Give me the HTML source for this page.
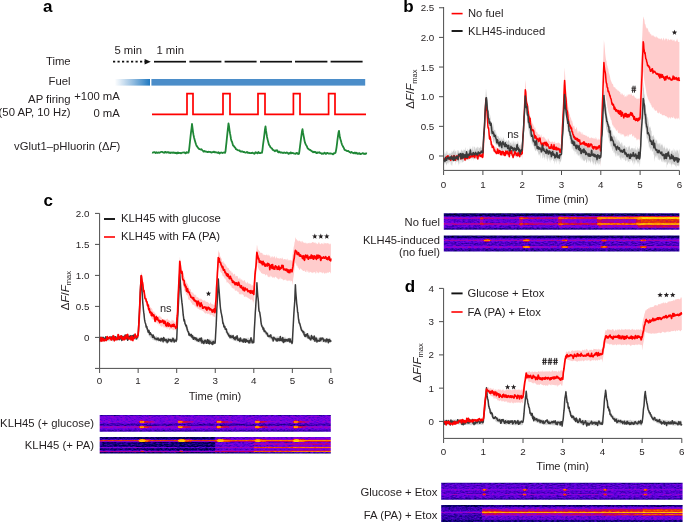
<!DOCTYPE html>
<html><head><meta charset="utf-8"><style>
html,body{margin:0;padding:0;background:#fff;}
svg{display:block;will-change:transform;font-family:"Liberation Sans", sans-serif;}
</style></head><body>
<svg width="685" height="522" viewBox="0 0 685 522">
<text x="43" y="12" font-size="17" text-anchor="start" font-weight="bold" fill="#000" >a</text>
<text x="70.6" y="65" font-size="11.3" text-anchor="end" font-weight="normal" fill="#231f20" >Time</text>
<text x="70.6" y="85" font-size="11.3" text-anchor="end" font-weight="normal" fill="#231f20" >Fuel</text>
<text x="70.6" y="102.6" font-size="11.3" text-anchor="end" font-weight="normal" fill="#231f20" >AP firing</text>
<text x="70.6" y="116" font-size="11.3" text-anchor="end" font-weight="normal" fill="#231f20" >(50 AP, 10 Hz)</text>
<text x="119.8" y="100.4" font-size="11.3" text-anchor="end" font-weight="normal" fill="#231f20" >+100 mA</text>
<text x="119.8" y="117.4" font-size="11.3" text-anchor="end" font-weight="normal" fill="#231f20" >0 mA</text>
<text x="120.2" y="150.4" font-size="11.3" text-anchor="end" fill="#231f20">vGlut1–pHluorin (Δ<tspan font-style="italic">F</tspan>)</text>
<text x="114.4" y="53.6" font-size="11.3" text-anchor="start" font-weight="normal" fill="#231f20" >5 min</text>
<text x="156.4" y="53.6" font-size="11.3" text-anchor="start" font-weight="normal" fill="#231f20" >1 min</text>
<line x1="113" y1="61.7" x2="145" y2="61.7" stroke="#111" stroke-width="1.7" stroke-dasharray="2.2 2.3"/>
<polygon points="144.6,58.9 150.8,61.7 144.6,64.5" fill="#111"/>
<line x1="154" y1="61.7" x2="186" y2="61.7" stroke="#111" stroke-width="1.7"/>
<line x1="189.4" y1="61.7" x2="221.4" y2="61.7" stroke="#111" stroke-width="1.7"/>
<line x1="224.6" y1="61.7" x2="256.6" y2="61.7" stroke="#111" stroke-width="1.7"/>
<line x1="260" y1="61.7" x2="292" y2="61.7" stroke="#111" stroke-width="1.7"/>
<line x1="295" y1="61.7" x2="327.4" y2="61.7" stroke="#111" stroke-width="1.7"/>
<line x1="330.6" y1="61.7" x2="362.6" y2="61.7" stroke="#111" stroke-width="1.7"/>
<defs><linearGradient id="fuelg" x1="0" x2="1" y1="0" y2="0"><stop offset="0" stop-color="#3e86c6" stop-opacity="0"/><stop offset="1" stop-color="#1f78c0" stop-opacity="1"/></linearGradient></defs>
<rect x="114.6" y="79" width="35.4" height="6.6" fill="url(#fuelg)"/>
<rect x="151.4" y="79" width="213.8" height="6.6" fill="#4b8dc9"/>
<path d="M152,114.4 H187 V93.6 H193 V114.4 H223 V93.6 H230 V114.4 H258 V93.6 H265 V114.4 H293.4 V93.6 H300 V114.4 H328.6 V93.6 H335 V114.4 H366" fill="none" stroke="#ff0000" stroke-width="1.7"/>
<polyline points="152.0,152.6 152.5,152.7 153.0,152.6 153.5,152.3 154.0,152.2 154.5,152.2 155.0,152.4 155.5,153.0 156.0,152.9 156.5,152.3 157.0,152.6 157.5,152.9 158.0,152.8 158.5,152.4 159.0,152.4 159.5,152.8 160.0,152.5 160.5,152.2 161.0,152.0 161.5,151.8 162.0,151.8 162.5,152.1 163.0,152.3 163.5,152.4 164.0,152.8 164.5,152.7 165.0,151.9 165.5,151.8 166.0,152.5 166.5,152.7 167.0,152.3 167.5,152.1 168.0,152.3 168.5,152.2 169.0,152.8 169.5,152.8 170.0,152.5 170.5,153.0 171.0,152.8 171.5,152.5 172.0,152.7 172.5,152.8 173.0,152.4 173.5,152.4 174.0,153.1 174.5,152.7 175.0,152.6 175.5,153.0 176.0,152.6 176.5,153.1 177.0,153.5 177.5,152.6 178.0,152.5 178.5,153.0 179.0,152.9 179.5,152.9 180.0,153.0 180.5,153.0 181.0,153.4 181.5,153.0 182.0,152.7 182.5,152.7 183.0,152.7 183.5,152.5 184.0,152.3 184.5,152.6 185.0,153.0 185.5,153.4 186.0,152.8 186.5,152.2 187.0,152.8 187.5,152.5 188.0,152.2 188.5,152.7 189.0,150.5 189.5,146.3 190.0,141.5 190.5,136.8 191.0,132.4 191.5,128.5 192.0,124.0 192.5,127.9 193.0,131.8 193.5,134.9 194.0,137.3 194.5,139.2 195.0,141.0 195.5,142.7 196.0,144.3 196.5,145.7 197.0,146.3 197.5,147.1 198.0,147.7 198.5,148.4 199.0,148.9 199.5,149.2 200.0,149.2 200.5,149.5 201.0,149.7 201.5,149.3 202.0,149.9 202.5,150.4 203.0,150.7 203.5,151.7 204.0,151.6 204.5,150.9 205.0,151.3 205.5,151.7 206.0,151.7 206.5,151.6 207.0,151.9 207.5,152.2 208.0,151.8 208.5,151.7 209.0,152.0 209.5,151.8 210.0,151.9 210.5,152.1 211.0,152.3 211.5,152.6 212.0,152.4 212.5,152.2 213.0,152.2 213.5,151.9 214.0,151.6 214.5,152.3 215.0,152.1 215.5,152.2 216.0,152.4 216.5,152.4 217.0,152.6 217.5,152.7 218.0,153.0 218.5,152.3 219.0,152.7 219.5,153.5 220.0,153.2 220.5,152.7 221.0,152.7 221.5,152.5 222.0,152.9 222.5,153.0 223.0,152.7 223.5,152.7 224.0,152.5 224.5,152.4 225.0,152.9 225.5,151.4 226.0,146.7 226.5,142.2 227.0,137.1 227.5,132.4 228.0,127.9 228.5,123.4 229.0,126.2 229.5,130.1 230.0,133.2 230.5,135.8 231.0,139.0 231.5,140.9 232.0,141.8 232.5,143.5 233.0,145.3 233.5,145.8 234.0,146.2 234.5,147.2 235.0,147.4 235.5,148.3 236.0,149.2 236.5,149.4 237.0,149.6 237.5,150.0 238.0,150.3 238.5,150.4 239.0,150.4 239.5,150.3 240.0,151.2 240.5,151.5 241.0,151.4 241.5,151.6 242.0,151.5 242.5,151.5 243.0,151.9 243.5,152.0 244.0,151.9 244.5,152.1 245.0,152.5 245.5,152.7 246.0,152.6 246.5,152.3 247.0,151.9 247.5,152.3 248.0,153.0 248.5,152.8 249.0,152.7 249.5,153.0 250.0,153.1 250.5,153.2 251.0,152.9 251.5,153.1 252.0,152.9 252.5,152.7 253.0,153.2 253.5,153.2 254.0,153.7 254.5,153.8 255.0,153.0 255.5,152.2 256.0,152.7 256.5,152.9 257.0,152.7 257.5,153.3 258.0,152.8 258.5,152.0 259.0,152.6 259.5,153.2 260.0,153.1 260.5,153.1 261.0,152.9 261.5,152.5 262.0,152.7 262.5,149.6 263.0,145.0 263.5,141.3 264.0,137.6 264.5,133.5 265.0,129.1 265.5,126.4 266.0,130.4 266.5,133.6 267.0,136.7 267.5,139.1 268.0,141.1 268.5,143.0 269.0,144.8 269.5,145.5 270.0,146.2 270.5,147.4 271.0,147.8 271.5,148.1 272.0,148.5 272.5,149.5 273.0,150.0 273.5,150.2 274.0,150.4 274.5,151.0 275.0,151.3 275.5,150.5 276.0,150.5 276.5,150.8 277.0,150.2 277.5,150.7 278.0,152.1 278.5,152.4 279.0,151.8 279.5,151.6 280.0,152.3 280.5,152.7 281.0,152.5 281.5,152.5 282.0,152.5 282.5,152.8 283.0,153.0 283.5,152.9 284.0,152.5 284.5,152.6 285.0,152.8 285.5,153.0 286.0,152.9 286.5,152.5 287.0,152.9 287.5,152.6 288.0,153.1 288.5,153.9 289.0,153.4 289.5,153.2 290.0,153.5 290.5,152.5 291.0,152.5 291.5,153.3 292.0,153.2 292.5,153.0 293.0,152.9 293.5,153.2 294.0,153.6 294.5,153.7 295.0,153.4 295.5,153.8 296.0,153.6 296.5,153.1 297.0,152.8 297.5,153.3 298.0,154.1 298.5,153.9 299.0,153.9 299.5,150.5 300.0,146.5 300.5,142.6 301.0,138.6 301.5,134.8 302.0,131.3 302.5,129.2 303.0,132.5 303.5,135.3 304.0,137.8 304.5,140.6 305.0,142.7 305.5,143.8 306.0,144.9 306.5,145.6 307.0,146.6 307.5,148.0 308.0,148.6 308.5,148.8 309.0,149.4 309.5,149.9 310.0,149.9 310.5,150.1 311.0,150.6 311.5,151.1 312.0,151.4 312.5,151.5 313.0,152.3 313.5,152.2 314.0,151.7 314.5,152.0 315.0,152.3 315.5,152.0 316.0,152.3 316.5,153.2 317.0,153.1 317.5,152.5 318.0,152.4 318.5,152.6 319.0,152.6 319.5,152.2 320.0,153.0 320.5,153.1 321.0,153.1 321.5,153.8 322.0,153.6 322.5,153.4 323.0,153.9 323.5,153.7 324.0,153.0 324.5,152.7 325.0,152.9 325.5,153.7 326.0,154.0 326.5,153.4 327.0,152.9 327.5,153.0 328.0,153.4 328.5,153.5 329.0,153.5 329.5,153.6 330.0,153.5 330.5,153.4 331.0,153.6 331.5,153.6 332.0,153.7 332.5,154.2 333.0,154.3 333.5,153.8 334.0,153.2 334.5,153.3 335.0,153.2 335.5,152.7 336.0,150.6 336.5,147.6 337.0,143.8 337.5,139.5 338.0,135.9 338.5,132.6 339.0,130.8 339.5,135.0 340.0,137.8 340.5,139.4 341.0,141.0 341.5,142.9 342.0,144.6 342.5,145.5 343.0,146.6 343.5,147.4 344.0,148.4 344.5,149.7 345.0,150.2 345.5,150.2 346.0,150.4 346.5,150.9 347.0,150.9 347.5,151.1 348.0,151.1 348.5,151.0 349.0,151.7 349.5,152.2 350.0,152.2 350.5,152.7 351.0,152.3 351.5,151.9 352.0,152.5 352.5,152.9 353.0,152.8 353.5,153.1 354.0,153.3 354.5,152.7 355.0,152.5 355.5,153.1 356.0,153.5 356.5,152.8 357.0,153.1 357.5,153.8 358.0,153.9 358.5,153.7 359.0,153.2 359.5,153.1 360.0,153.9 360.5,154.2 361.0,153.9 361.5,153.8 362.0,153.5 362.5,153.2 363.0,153.1 363.5,153.8 364.0,153.6 364.5,153.7 365.0,154.1 365.5,153.5 366.0,153.3 366.5,153.5 367.0,153.6" fill="none" stroke="#1f8736" stroke-width="1.8" stroke-linejoin="round" />
<text x="403.2" y="12" font-size="17" text-anchor="start" font-weight="bold" fill="#000" >b</text>
<polygon points="443.6,157.4 443.9,157.3 444.2,156.5 444.5,156.8 444.9,157.1 445.2,157.1 445.5,157.2 445.8,156.6 446.1,155.2 446.4,156.7 446.7,157.6 447.1,156.7 447.4,156.3 447.7,156.6 448.0,157.0 448.3,157.0 448.6,156.5 448.9,155.8 449.3,156.3 449.6,156.1 449.9,156.1 450.2,157.3 450.5,156.7 450.8,155.6 451.1,156.1 451.5,155.6 451.8,154.8 452.1,156.0 452.4,157.2 452.7,155.6 453.0,154.3 453.3,155.6 453.7,157.1 454.0,157.0 454.3,156.6 454.6,157.2 454.9,156.8 455.2,156.6 455.5,157.3 455.9,156.0 456.2,155.7 456.5,156.3 456.8,155.5 457.1,154.9 457.4,155.5 457.7,155.9 458.1,156.2 458.4,155.2 458.7,154.3 459.0,155.9 459.3,156.3 459.6,155.2 459.9,154.9 460.3,154.2 460.6,153.7 460.9,155.1 461.2,155.9 461.5,156.3 461.8,156.1 462.1,155.2 462.5,153.8 462.8,153.8 463.1,156.6 463.4,157.0 463.7,155.7 464.0,156.0 464.4,156.6 464.7,156.1 465.0,155.3 465.3,155.2 465.6,155.9 465.9,155.3 466.2,155.1 466.6,155.8 466.9,156.3 467.2,156.5 467.5,155.2 467.8,155.7 468.1,156.1 468.4,154.7 468.8,154.9 469.1,155.1 469.4,155.6 469.7,154.9 470.0,153.6 470.3,154.2 470.6,155.9 471.0,156.6 471.3,155.0 471.6,153.3 471.9,153.7 472.2,154.0 472.5,154.5 472.8,155.3 473.2,154.9 473.5,154.5 473.8,155.4 474.1,155.1 474.4,153.4 474.7,154.6 475.0,156.2 475.4,155.3 475.7,154.8 476.0,156.4 476.3,155.5 476.6,154.0 476.9,154.8 477.2,153.6 477.6,153.2 477.9,154.9 478.2,154.9 478.5,155.0 478.8,155.5 479.1,154.7 479.4,154.5 479.8,155.0 480.1,153.7 480.4,152.9 480.7,153.4 481.0,153.5 481.3,153.7 481.6,153.1 482.0,153.4 482.3,153.2 482.6,153.7 482.9,154.3 483.2,148.6 483.5,142.7 483.8,135.6 484.2,128.5 484.5,123.2 484.8,118.1 485.1,111.9 485.4,106.4 485.7,100.9 486.0,94.4 486.4,101.2 486.7,106.8 487.0,110.8 487.3,115.6 487.6,120.1 487.9,123.9 488.2,125.2 488.6,127.8 488.9,130.4 489.2,131.3 489.5,134.2 489.8,136.9 490.1,137.5 490.4,137.0 490.8,139.3 491.1,141.5 491.4,141.2 491.7,141.6 492.0,141.8 492.3,143.0 492.6,144.4 493.0,145.3 493.3,144.8 493.6,145.0 493.9,147.9 494.2,147.9 494.5,146.9 494.8,146.0 495.2,146.4 495.5,147.8 495.8,147.4 496.1,146.7 496.4,147.3 496.7,147.8 497.0,147.6 497.4,148.5 497.7,148.9 498.0,148.9 498.3,149.6 498.6,149.0 498.9,149.4 499.2,149.5 499.6,148.2 499.9,149.1 500.2,150.2 500.5,150.3 500.8,149.7 501.1,149.2 501.4,149.4 501.8,149.3 502.1,149.9 502.4,150.4 502.7,151.0 503.0,150.8 503.3,149.8 503.7,150.6 504.0,150.0 504.3,149.4 504.6,151.9 504.9,152.3 505.2,151.5 505.5,151.0 505.9,148.7 506.2,149.7 506.5,151.1 506.8,151.0 507.1,150.9 507.4,150.4 507.7,149.9 508.1,150.9 508.4,150.8 508.7,150.8 509.0,151.6 509.3,150.4 509.6,150.1 509.9,151.4 510.3,152.3 510.6,152.0 510.9,151.7 511.2,150.7 511.5,151.5 511.8,151.9 512.1,150.8 512.5,150.8 512.8,150.9 513.1,150.4 513.4,150.4 513.7,150.8 514.0,150.8 514.3,150.2 514.7,151.7 515.0,152.1 515.3,151.1 515.6,152.0 515.9,152.5 516.2,153.4 516.5,153.1 516.9,152.4 517.2,151.9 517.5,152.4 517.8,151.9 518.1,150.9 518.4,151.9 518.7,152.5 519.1,152.8 519.4,153.1 519.7,152.9 520.0,152.3 520.3,152.1 520.6,152.9 520.9,153.0 521.3,152.7 521.6,152.4 521.9,150.8 522.2,147.0 522.5,141.5 522.8,136.1 523.1,129.9 523.5,123.2 523.8,115.2 524.1,107.8 524.4,101.4 524.7,94.6 525.0,87.8 525.3,79.8 525.7,83.8 526.0,88.2 526.3,91.3 526.6,93.5 526.9,96.3 527.2,100.0 527.5,102.6 527.9,104.9 528.2,105.9 528.5,105.4 528.8,108.1 529.1,110.7 529.4,111.5 529.7,114.2 530.1,115.9 530.4,116.7 530.7,118.2 531.0,118.1 531.3,119.9 531.6,121.8 531.9,121.4 532.3,122.9 532.6,123.9 532.9,123.8 533.2,124.6 533.5,125.6 533.8,126.0 534.1,128.1 534.5,128.2 534.8,126.3 535.1,127.1 535.4,128.4 535.7,130.3 536.0,131.5 536.3,131.6 536.7,132.3 537.0,131.7 537.3,132.2 537.6,133.3 537.9,134.3 538.2,134.7 538.5,133.8 538.9,134.5 539.2,135.3 539.5,134.0 539.8,134.6 540.1,136.6 540.4,136.7 540.7,135.6 541.1,134.1 541.4,134.9 541.7,136.8 542.0,137.5 542.3,136.7 542.6,137.2 543.0,137.2 543.3,136.0 543.6,137.0 543.9,137.6 544.2,137.4 544.5,137.1 544.8,138.3 545.2,138.7 545.5,138.5 545.8,139.8 546.1,139.7 546.4,139.5 546.7,140.3 547.0,141.3 547.4,141.4 547.7,139.7 548.0,138.1 548.3,138.7 548.6,139.3 548.9,140.1 549.2,141.0 549.6,140.7 549.9,141.4 550.2,142.2 550.5,141.7 550.8,141.4 551.1,142.2 551.4,141.9 551.8,141.5 552.1,141.2 552.4,141.2 552.7,142.0 553.0,142.0 553.3,142.1 553.6,142.6 554.0,142.9 554.3,142.1 554.6,141.6 554.9,141.3 555.2,142.8 555.5,143.9 555.8,143.2 556.2,142.9 556.5,143.0 556.8,143.5 557.1,142.8 557.4,142.5 557.7,143.7 558.0,143.1 558.4,141.9 558.7,143.1 559.0,143.3 559.3,143.4 559.6,143.3 559.9,143.1 560.2,144.3 560.6,144.4 560.9,144.4 561.2,144.2 561.5,141.4 561.8,134.0 562.1,127.0 562.4,121.7 562.8,113.9 563.1,105.4 563.4,97.8 563.7,88.6 564.0,81.1 564.3,74.6 564.6,67.4 565.0,72.9 565.3,78.2 565.6,83.0 565.9,87.4 566.2,90.1 566.5,93.0 566.8,96.2 567.2,99.1 567.5,102.2 567.8,104.5 568.1,106.4 568.4,107.7 568.7,109.6 569.0,112.1 569.4,114.2 569.7,114.2 570.0,115.1 570.3,117.4 570.6,117.5 570.9,117.6 571.2,119.1 571.6,120.9 571.9,120.6 572.2,120.8 572.5,122.6 572.8,123.6 573.1,125.4 573.4,126.6 573.8,126.1 574.1,125.6 574.4,126.5 574.7,127.9 575.0,129.0 575.3,128.9 575.6,129.3 576.0,129.0 576.3,127.8 576.6,127.0 576.9,127.5 577.2,129.8 577.5,131.2 577.8,133.2 578.2,133.3 578.5,131.6 578.8,131.0 579.1,130.8 579.4,131.2 579.7,131.7 580.0,131.9 580.4,131.4 580.7,132.6 581.0,134.0 581.3,134.4 581.6,133.3 581.9,131.9 582.3,132.6 582.6,134.3 582.9,134.8 583.2,134.4 583.5,134.6 583.8,134.8 584.1,134.7 584.5,135.0 584.8,134.9 585.1,134.7 585.4,135.5 585.7,135.8 586.0,136.1 586.3,135.6 586.7,135.7 587.0,136.1 587.3,136.3 587.6,137.5 587.9,136.8 588.2,136.7 588.5,136.9 588.9,136.2 589.2,137.7 589.5,138.6 589.8,138.0 590.1,138.0 590.4,138.5 590.7,137.7 591.1,137.2 591.4,137.5 591.7,137.7 592.0,137.8 592.3,138.1 592.6,138.4 592.9,137.7 593.3,137.7 593.6,138.4 593.9,139.1 594.2,138.8 594.5,138.1 594.8,138.4 595.1,139.1 595.5,138.7 595.8,136.8 596.1,137.4 596.4,138.7 596.7,138.4 597.0,140.2 597.3,140.4 597.7,139.3 598.0,138.6 598.3,138.4 598.6,139.7 598.9,139.8 599.2,139.2 599.5,139.5 599.9,139.7 600.2,140.2 600.5,140.3 600.8,127.4 601.1,117.4 601.4,108.7 601.7,100.9 602.1,91.9 602.4,82.7 602.7,73.7 603.0,64.9 603.3,57.3 603.6,49.0 603.9,40.1 604.3,43.3 604.6,46.3 604.9,49.8 605.2,53.8 605.5,56.2 605.8,58.5 606.1,60.2 606.5,61.1 606.8,64.0 607.1,65.4 607.4,65.6 607.7,67.5 608.0,68.5 608.3,68.9 608.7,71.9 609.0,73.6 609.3,73.8 609.6,75.3 609.9,76.0 610.2,77.7 610.5,79.5 610.9,80.4 611.2,81.4 611.5,81.7 611.8,82.9 612.1,84.2 612.4,83.6 612.7,83.7 613.1,84.4 613.4,86.1 613.7,87.3 614.0,87.0 614.3,87.0 614.6,87.5 614.9,87.5 615.3,87.6 615.6,88.5 615.9,88.9 616.2,88.8 616.5,89.5 616.8,89.6 617.1,89.4 617.5,90.3 617.8,90.8 618.1,90.9 618.4,90.6 618.7,90.6 619.0,91.3 619.3,91.6 619.7,92.0 620.0,92.0 620.3,92.3 620.6,94.5 620.9,93.9 621.2,92.8 621.6,94.5 621.9,94.8 622.2,94.8 622.5,93.7 622.8,93.0 623.1,95.3 623.4,95.5 623.8,94.9 624.1,94.3 624.4,94.8 624.7,97.4 625.0,96.8 625.3,95.8 625.6,96.2 626.0,97.3 626.3,96.9 626.6,94.6 626.9,96.0 627.2,96.3 627.5,95.4 627.8,94.6 628.2,93.9 628.5,95.2 628.8,94.6 629.1,94.0 629.4,94.8 629.7,94.5 630.0,94.2 630.4,95.6 630.7,93.9 631.0,93.0 631.3,94.6 631.6,94.3 631.9,95.0 632.2,96.2 632.6,95.8 632.9,95.6 633.2,95.6 633.5,95.0 633.8,95.7 634.1,96.4 634.4,96.1 634.8,97.4 635.1,97.9 635.4,98.1 635.7,97.8 636.0,97.1 636.3,97.9 636.6,99.1 637.0,99.2 637.3,98.9 637.6,98.7 637.9,98.3 638.2,99.3 638.5,98.7 638.8,97.9 639.2,98.8 639.5,98.6 639.8,98.4 640.1,80.4 640.4,73.8 640.7,67.7 641.0,61.7 641.4,55.0 641.7,47.5 642.0,40.2 642.3,34.9 642.6,28.5 642.9,22.1 643.2,16.4 643.6,17.4 643.9,18.9 644.2,19.2 644.5,20.4 644.8,23.7 645.1,24.0 645.4,24.5 645.8,26.3 646.1,28.6 646.4,28.6 646.7,27.0 647.0,27.8 647.3,28.3 647.6,28.3 648.0,29.4 648.3,30.4 648.6,31.2 648.9,32.4 649.2,31.8 649.5,31.7 649.8,33.5 650.2,33.8 650.5,33.5 650.8,34.4 651.1,34.4 651.4,34.4 651.7,35.8 652.0,36.5 652.4,34.7 652.7,35.2 653.0,36.3 653.3,35.2 653.6,35.2 653.9,36.5 654.2,37.2 654.6,36.5 654.9,36.0 655.2,36.7 655.5,38.0 655.8,37.1 656.1,35.9 656.4,36.4 656.8,37.6 657.1,37.7 657.4,37.4 657.7,37.2 658.0,38.1 658.3,38.7 658.6,38.1 659.0,38.9 659.3,38.8 659.6,38.2 659.9,38.7 660.2,38.6 660.5,39.2 660.9,39.6 661.2,38.6 661.5,38.4 661.8,38.1 662.1,39.1 662.4,40.7 662.7,39.9 663.1,38.8 663.4,37.7 663.7,37.7 664.0,39.5 664.3,39.5 664.6,39.5 664.9,40.9 665.3,38.9 665.6,37.9 665.9,39.1 666.2,39.0 666.5,38.4 666.8,38.6 667.1,39.0 667.5,39.8 667.8,41.4 668.1,40.0 668.4,38.4 668.7,38.9 669.0,39.7 669.3,40.0 669.7,40.5 670.0,39.8 670.3,39.0 670.6,39.6 670.9,39.8 671.2,39.5 671.5,39.5 671.9,39.7 672.2,40.7 672.5,40.9 672.8,38.9 673.1,39.6 673.4,41.0 673.7,40.2 674.1,39.5 674.4,39.7 674.7,41.3 675.0,41.4 675.3,41.1 675.6,41.9 675.9,40.9 676.3,40.6 676.6,40.5 676.9,38.5 677.2,38.5 677.5,40.0 677.8,41.0 678.1,41.8 678.5,41.9 678.8,41.9 679.1,41.9 679.4,42.0 679.4,119.1 679.1,120.1 678.8,118.2 678.5,117.4 678.1,118.7 677.8,119.6 677.5,118.7 677.2,117.8 676.9,119.6 676.6,118.6 676.3,117.4 675.9,118.6 675.6,118.9 675.3,119.4 675.0,118.0 674.7,117.7 674.4,118.9 674.1,118.3 673.7,117.7 673.4,116.6 673.1,116.6 672.8,117.9 672.5,118.0 672.2,117.9 671.9,117.3 671.5,117.2 671.2,117.3 670.9,117.3 670.6,118.7 670.3,118.8 670.0,117.6 669.7,117.9 669.3,117.0 669.0,117.1 668.7,118.6 668.4,118.7 668.1,117.3 667.8,117.0 667.5,117.4 667.1,117.6 666.8,117.2 666.5,115.8 666.2,116.2 665.9,116.3 665.6,115.9 665.3,116.2 664.9,115.9 664.6,115.2 664.3,115.1 664.0,114.9 663.7,115.1 663.4,115.5 663.1,115.3 662.7,115.3 662.4,115.5 662.1,114.9 661.8,114.8 661.5,114.3 661.2,113.4 660.9,113.7 660.5,114.0 660.2,114.0 659.9,112.7 659.6,111.4 659.3,113.0 659.0,113.7 658.6,113.2 658.3,113.0 658.0,112.6 657.7,113.2 657.4,112.7 657.1,111.6 656.8,110.9 656.4,110.3 656.1,110.3 655.8,110.7 655.5,110.4 655.2,110.9 654.9,110.8 654.6,109.4 654.2,109.2 653.9,109.8 653.6,108.0 653.3,106.8 653.0,107.9 652.7,108.4 652.4,107.4 652.0,106.4 651.7,107.1 651.4,105.2 651.1,104.4 650.8,105.1 650.5,103.5 650.2,103.0 649.8,103.0 649.5,101.3 649.2,101.6 648.9,101.5 648.6,99.5 648.3,99.5 648.0,99.2 647.6,97.4 647.3,96.5 647.0,96.0 646.7,94.7 646.4,92.9 646.1,90.7 645.8,89.2 645.4,87.0 645.1,85.3 644.8,83.8 644.5,81.6 644.2,79.4 643.9,77.2 643.6,73.8 643.2,70.8 642.9,80.2 642.6,88.8 642.3,97.4 642.0,106.0 641.7,115.8 641.4,123.5 641.0,130.8 640.7,140.8 640.4,150.3 640.1,158.9 639.8,140.0 639.5,140.4 639.2,138.9 638.8,138.5 638.5,139.9 638.2,139.5 637.9,138.8 637.6,139.4 637.3,140.0 637.0,140.5 636.6,140.1 636.3,138.5 636.0,137.9 635.7,137.2 635.4,137.5 635.1,138.2 634.8,138.1 634.4,137.6 634.1,135.8 633.8,134.9 633.5,136.0 633.2,136.7 632.9,136.4 632.6,136.6 632.2,136.0 631.9,134.4 631.6,133.9 631.3,133.7 631.0,134.0 630.7,134.4 630.4,135.0 630.0,134.6 629.7,134.0 629.4,134.8 629.1,135.4 628.8,137.0 628.5,136.6 628.2,134.9 627.8,134.5 627.5,135.9 627.2,136.9 626.9,135.7 626.6,135.7 626.3,136.5 626.0,136.3 625.6,136.0 625.3,136.8 625.0,137.4 624.7,136.9 624.4,135.7 624.1,135.4 623.8,135.4 623.4,134.1 623.1,134.4 622.8,134.5 622.5,134.4 622.2,134.3 621.9,133.2 621.6,134.0 621.2,135.3 620.9,135.3 620.6,134.0 620.3,133.3 620.0,133.0 619.7,132.6 619.3,133.8 619.0,133.7 618.7,132.9 618.4,132.9 618.1,132.8 617.8,132.0 617.5,130.3 617.1,129.6 616.8,129.9 616.5,130.8 616.2,131.2 615.9,130.6 615.6,128.7 615.3,128.5 614.9,128.7 614.6,127.3 614.3,126.9 614.0,128.0 613.7,127.4 613.4,125.6 613.1,125.8 612.7,125.4 612.4,124.7 612.1,123.9 611.8,122.4 611.5,120.6 611.2,119.9 610.9,119.9 610.5,118.7 610.2,117.3 609.9,116.7 609.6,116.0 609.3,114.2 609.0,113.4 608.7,112.9 608.3,111.3 608.0,109.9 607.7,108.0 607.4,107.4 607.1,104.9 606.8,101.5 606.5,100.9 606.1,100.0 605.8,97.3 605.5,96.0 605.2,94.7 604.9,91.4 604.6,88.2 604.3,83.6 603.9,80.0 603.6,90.6 603.3,99.0 603.0,106.8 602.7,115.8 602.4,124.7 602.1,132.9 601.7,141.3 601.4,149.4 601.1,158.5 600.8,167.5 600.5,156.2 600.2,156.8 599.9,157.1 599.5,157.1 599.2,155.9 598.9,155.4 598.6,154.7 598.3,155.0 598.0,155.7 597.7,156.1 597.3,156.4 597.0,156.1 596.7,156.1 596.4,154.7 596.1,154.8 595.8,155.3 595.5,154.7 595.1,155.8 594.8,156.0 594.5,155.4 594.2,155.8 593.9,155.1 593.6,153.9 593.3,153.9 592.9,154.6 592.6,154.1 592.3,153.8 592.0,154.2 591.7,155.0 591.4,156.2 591.1,155.7 590.7,154.5 590.4,154.2 590.1,153.9 589.8,153.5 589.5,154.1 589.2,154.3 588.9,153.9 588.5,153.2 588.2,152.7 587.9,153.3 587.6,153.6 587.3,153.4 587.0,154.0 586.7,154.8 586.3,154.3 586.0,152.8 585.7,152.7 585.4,153.5 585.1,151.8 584.8,151.0 584.5,151.6 584.1,152.4 583.8,153.2 583.5,152.4 583.2,152.2 582.9,151.6 582.6,150.9 582.3,151.6 581.9,152.7 581.6,152.4 581.3,151.4 581.0,149.6 580.7,149.9 580.4,151.2 580.0,150.6 579.7,150.2 579.4,150.3 579.1,150.0 578.8,149.1 578.5,148.2 578.2,149.2 577.8,150.5 577.5,149.5 577.2,147.8 576.9,146.9 576.6,146.9 576.3,146.8 576.0,146.3 575.6,147.1 575.3,147.2 575.0,145.8 574.7,145.7 574.4,145.6 574.1,146.5 573.8,145.7 573.4,143.9 573.1,142.7 572.8,142.9 572.5,142.3 572.2,140.8 571.9,141.4 571.6,142.5 571.2,142.0 570.9,139.3 570.6,137.6 570.3,135.1 570.0,134.7 569.7,134.3 569.4,133.1 569.0,132.5 568.7,130.9 568.4,130.2 568.1,129.4 567.8,127.7 567.5,125.5 567.2,123.0 566.8,120.6 566.5,118.8 566.2,115.1 565.9,110.6 565.6,107.5 565.3,104.3 565.0,99.9 564.6,94.6 564.3,100.7 564.0,107.4 563.7,114.0 563.4,120.2 563.1,125.3 562.8,132.1 562.4,138.3 562.1,145.2 561.8,153.4 561.5,158.6 561.2,155.6 560.9,157.1 560.6,155.9 560.2,154.5 559.9,156.0 559.6,155.8 559.3,155.3 559.0,155.4 558.7,155.1 558.4,155.5 558.0,155.1 557.7,155.4 557.4,156.1 557.1,154.3 556.8,154.8 556.5,155.8 556.2,155.1 555.8,155.3 555.5,155.6 555.2,155.1 554.9,154.8 554.6,154.4 554.3,154.0 554.0,154.0 553.6,154.1 553.3,154.3 553.0,154.8 552.7,153.7 552.4,152.4 552.1,153.4 551.8,153.8 551.4,152.3 551.1,151.7 550.8,154.5 550.5,154.1 550.2,152.7 549.9,153.7 549.6,153.4 549.2,153.2 548.9,153.8 548.6,153.1 548.3,153.1 548.0,154.2 547.7,152.6 547.4,151.6 547.0,151.5 546.7,151.4 546.4,151.4 546.1,150.9 545.8,151.2 545.5,151.8 545.2,152.2 544.8,152.2 544.5,150.8 544.2,150.8 543.9,150.9 543.6,149.7 543.3,149.7 543.0,150.8 542.6,151.4 542.3,149.0 542.0,148.5 541.7,150.3 541.4,150.0 541.1,148.9 540.7,148.9 540.4,149.3 540.1,149.2 539.8,148.4 539.5,148.9 539.2,148.0 538.9,146.3 538.5,146.5 538.2,146.4 537.9,145.8 537.6,146.3 537.3,147.5 537.0,147.3 536.7,145.7 536.3,144.0 536.0,144.2 535.7,143.8 535.4,141.4 535.1,141.8 534.8,143.1 534.5,141.6 534.1,139.7 533.8,139.0 533.5,138.3 533.2,138.7 532.9,138.0 532.6,135.9 532.3,135.9 531.9,135.5 531.6,134.2 531.3,133.0 531.0,131.1 530.7,130.4 530.4,130.2 530.1,128.8 529.7,128.6 529.4,127.5 529.1,126.2 528.8,124.6 528.5,121.9 528.2,119.7 527.9,118.2 527.5,117.0 527.2,115.1 526.9,111.9 526.6,109.9 526.3,108.0 526.0,104.1 525.7,101.0 525.3,96.8 525.0,103.0 524.7,109.9 524.4,115.2 524.1,122.1 523.8,129.7 523.5,135.1 523.1,140.0 522.8,146.9 522.5,153.8 522.2,160.2 521.9,156.8 521.6,155.8 521.3,154.7 520.9,154.9 520.6,155.8 520.3,157.1 520.0,157.7 519.7,157.3 519.4,156.5 519.1,156.2 518.7,156.1 518.4,156.5 518.1,156.5 517.8,156.5 517.5,157.0 517.2,156.9 516.9,157.4 516.5,157.0 516.2,157.4 515.9,157.2 515.6,155.6 515.3,156.6 515.0,157.1 514.7,156.5 514.3,157.3 514.0,156.5 513.7,155.9 513.4,157.2 513.1,156.5 512.8,156.3 512.5,156.6 512.1,156.2 511.8,155.8 511.5,154.7 511.2,154.4 510.9,156.8 510.6,156.1 510.3,155.5 509.9,156.6 509.6,156.0 509.3,158.0 509.0,156.6 508.7,155.4 508.4,157.3 508.1,156.4 507.7,155.8 507.4,156.5 507.1,155.8 506.8,155.3 506.5,155.6 506.2,155.7 505.9,155.9 505.5,155.7 505.2,155.0 504.9,155.4 504.6,155.2 504.3,154.6 504.0,154.0 503.7,153.8 503.3,154.6 503.0,155.1 502.7,155.7 502.4,156.1 502.1,155.0 501.8,155.6 501.4,155.2 501.1,155.3 500.8,156.3 500.5,155.6 500.2,154.8 499.9,154.1 499.6,153.7 499.2,152.7 498.9,153.2 498.6,153.8 498.3,152.7 498.0,153.2 497.7,153.9 497.4,153.0 497.0,153.2 496.7,153.5 496.4,152.9 496.1,152.0 495.8,152.4 495.5,153.0 495.2,152.6 494.8,151.7 494.5,151.1 494.2,150.4 493.9,149.7 493.6,151.0 493.3,152.2 493.0,151.0 492.6,149.1 492.3,147.9 492.0,147.9 491.7,147.1 491.4,146.1 491.1,145.9 490.8,145.5 490.4,145.2 490.1,143.7 489.8,141.8 489.5,139.2 489.2,137.6 488.9,136.5 488.6,134.8 488.2,132.0 487.9,128.7 487.6,125.6 487.3,120.8 487.0,114.4 486.7,110.3 486.4,106.4 486.0,100.3 485.7,106.0 485.4,111.7 485.1,117.8 484.8,122.9 484.5,128.7 484.2,135.6 483.8,142.2 483.5,149.0 483.2,154.7 482.9,158.1 482.6,156.4 482.3,157.8 482.0,158.7 481.6,157.6 481.3,157.3 481.0,158.4 480.7,157.8 480.4,156.8 480.1,156.8 479.8,157.9 479.4,158.7 479.1,157.6 478.8,157.8 478.5,159.4 478.2,159.2 477.9,158.1 477.6,158.7 477.2,157.8 476.9,156.8 476.6,157.2 476.3,158.2 476.0,158.2 475.7,157.1 475.4,157.3 475.0,158.4 474.7,159.3 474.4,158.0 474.1,157.7 473.8,158.4 473.5,158.0 473.2,158.1 472.8,158.7 472.5,158.5 472.2,157.2 471.9,157.7 471.6,158.1 471.3,156.8 471.0,157.0 470.6,158.2 470.3,157.8 470.0,157.4 469.7,159.2 469.4,159.3 469.1,158.4 468.8,158.7 468.4,159.0 468.1,158.7 467.8,159.4 467.5,160.1 467.2,159.6 466.9,159.3 466.6,159.7 466.2,159.7 465.9,160.4 465.6,160.7 465.3,159.3 465.0,158.6 464.7,158.4 464.4,158.4 464.0,158.8 463.7,159.4 463.4,159.9 463.1,160.6 462.8,160.3 462.5,159.3 462.1,158.7 461.8,158.0 461.5,158.6 461.2,159.6 460.9,158.4 460.6,158.5 460.3,160.1 459.9,160.0 459.6,159.1 459.3,159.7 459.0,161.0 458.7,160.9 458.4,160.1 458.1,159.2 457.7,158.0 457.4,159.4 457.1,160.0 456.8,158.8 456.5,159.1 456.2,159.8 455.9,159.2 455.5,159.5 455.2,159.8 454.9,159.0 454.6,160.2 454.3,161.0 454.0,159.9 453.7,159.8 453.3,159.0 453.0,158.7 452.7,158.8 452.4,159.1 452.1,160.0 451.8,159.9 451.5,160.5 451.1,159.8 450.8,160.2 450.5,159.8 450.2,159.5 449.9,160.0 449.6,159.3 449.3,159.8 448.9,161.4 448.6,160.7 448.3,160.3 448.0,160.7 447.7,159.3 447.4,157.9 447.1,159.4 446.7,160.4 446.4,159.8 446.1,159.6 445.8,158.8 445.5,159.4 445.2,159.8 444.9,160.6 444.5,161.7 444.2,161.5 443.9,160.8 443.6,160.3" fill="#ffcccc" fill-opacity="1.0" stroke="none"/>
<polygon points="443.6,151.5 443.9,154.8 444.2,158.0 444.5,151.5 444.9,154.3 445.2,151.9 445.5,153.9 445.8,154.5 446.1,154.5 446.4,151.0 446.7,151.1 447.1,157.3 447.4,155.1 447.7,150.3 448.0,154.0 448.3,155.7 448.6,153.2 448.9,153.4 449.3,153.3 449.6,153.9 449.9,153.5 450.2,153.7 450.5,152.3 450.8,154.2 451.1,153.3 451.5,152.9 451.8,150.3 452.1,151.9 452.4,152.7 452.7,151.5 453.0,151.6 453.3,150.4 453.7,151.3 454.0,149.0 454.3,149.7 454.6,152.1 454.9,152.7 455.2,150.4 455.5,151.0 455.9,152.0 456.2,154.4 456.5,155.0 456.8,151.0 457.1,150.2 457.4,150.1 457.7,153.7 458.1,149.5 458.4,152.3 458.7,150.6 459.0,150.5 459.3,152.6 459.6,152.1 459.9,154.7 460.3,152.6 460.6,154.1 460.9,150.1 461.2,150.7 461.5,149.1 461.8,150.0 462.1,151.7 462.5,149.9 462.8,151.2 463.1,149.3 463.4,149.8 463.7,152.0 464.0,150.2 464.4,150.1 464.7,150.6 465.0,148.4 465.3,146.9 465.6,150.6 465.9,150.5 466.2,153.8 466.6,149.9 466.9,150.4 467.2,153.4 467.5,149.0 467.8,148.4 468.1,150.7 468.4,150.0 468.8,151.0 469.1,147.9 469.4,151.9 469.7,149.7 470.0,145.6 470.3,148.9 470.6,148.1 471.0,149.1 471.3,150.9 471.6,148.8 471.9,147.9 472.2,150.4 472.5,147.9 472.8,146.3 473.2,146.5 473.5,151.2 473.8,150.0 474.1,151.1 474.4,146.3 474.7,147.0 475.0,146.8 475.4,149.6 475.7,150.0 476.0,147.7 476.3,147.6 476.6,149.3 476.9,147.4 477.2,146.5 477.6,147.2 477.9,149.3 478.2,151.2 478.5,147.8 478.8,147.0 479.1,147.7 479.4,148.0 479.8,148.4 480.1,145.8 480.4,147.1 480.7,146.7 481.0,148.6 481.3,147.9 481.6,146.5 482.0,148.5 482.3,148.9 482.6,147.2 482.9,143.8 483.2,139.9 483.5,132.1 483.8,129.3 484.2,123.9 484.5,120.2 484.8,113.1 485.1,103.9 485.4,100.3 485.7,93.9 486.0,88.3 486.4,92.7 486.7,96.0 487.0,98.2 487.3,99.7 487.6,102.5 487.9,104.6 488.2,107.3 488.6,110.9 488.9,111.8 489.2,114.7 489.5,112.8 489.8,119.9 490.1,117.9 490.4,114.6 490.8,120.7 491.1,123.2 491.4,122.3 491.7,121.0 492.0,124.6 492.3,124.1 492.6,125.9 493.0,127.5 493.3,122.0 493.6,128.2 493.9,130.0 494.2,130.5 494.5,129.6 494.8,130.1 495.2,130.0 495.5,131.7 495.8,135.0 496.1,132.0 496.4,133.9 496.7,134.3 497.0,136.8 497.4,135.6 497.7,136.3 498.0,135.4 498.3,138.3 498.6,135.9 498.9,136.1 499.2,138.6 499.6,138.0 499.9,138.7 500.2,135.8 500.5,142.2 500.8,138.6 501.1,141.1 501.4,139.2 501.8,137.1 502.1,140.0 502.4,138.8 502.7,140.7 503.0,136.0 503.3,138.0 503.7,137.8 504.0,142.3 504.3,142.1 504.6,138.4 504.9,140.8 505.2,141.1 505.5,140.2 505.9,143.1 506.2,139.7 506.5,141.1 506.8,140.4 507.1,142.6 507.4,140.6 507.7,142.9 508.1,140.1 508.4,139.9 508.7,140.4 509.0,141.2 509.3,141.1 509.6,147.1 509.9,140.9 510.3,143.0 510.6,142.4 510.9,143.2 511.2,145.3 511.5,143.8 511.8,141.8 512.1,140.5 512.5,144.2 512.8,144.8 513.1,140.7 513.4,144.9 513.7,139.7 514.0,143.4 514.3,145.1 514.7,141.9 515.0,140.7 515.3,146.3 515.6,141.1 515.9,144.4 516.2,141.3 516.5,144.7 516.9,146.9 517.2,143.2 517.5,142.5 517.8,140.5 518.1,141.2 518.4,143.1 518.7,144.8 519.1,145.4 519.4,145.0 519.7,146.0 520.0,145.1 520.3,149.1 520.6,144.3 520.9,144.8 521.3,140.2 521.6,143.4 521.9,145.7 522.2,143.3 522.5,141.0 522.8,134.4 523.1,131.2 523.5,119.9 523.8,115.9 524.1,113.6 524.4,106.1 524.7,98.8 525.0,94.2 525.3,88.9 525.7,94.5 526.0,97.3 526.3,98.9 526.6,100.2 526.9,105.9 527.2,108.8 527.5,107.1 527.9,112.9 528.2,111.2 528.5,114.6 528.8,115.2 529.1,115.2 529.4,118.6 529.7,119.9 530.1,124.2 530.4,125.1 530.7,123.9 531.0,123.4 531.3,124.7 531.6,124.0 531.9,128.5 532.3,129.6 532.6,129.0 532.9,131.5 533.2,132.4 533.5,134.9 533.8,131.9 534.1,136.2 534.5,134.0 534.8,138.0 535.1,134.1 535.4,138.4 535.7,135.5 536.0,140.3 536.3,138.7 536.7,136.2 537.0,140.2 537.3,139.0 537.6,140.4 537.9,144.0 538.2,139.7 538.5,139.8 538.9,142.8 539.2,140.1 539.5,142.8 539.8,143.5 540.1,142.0 540.4,143.4 540.7,138.4 541.1,145.5 541.4,141.6 541.7,141.4 542.0,146.9 542.3,146.7 542.6,142.8 543.0,144.8 543.3,143.5 543.6,142.3 543.9,145.2 544.2,146.6 544.5,149.7 544.8,144.7 545.2,146.8 545.5,144.8 545.8,145.1 546.1,148.1 546.4,142.7 546.7,144.0 547.0,144.5 547.4,148.2 547.7,147.0 548.0,147.4 548.3,147.2 548.6,148.6 548.9,145.9 549.2,146.4 549.6,146.3 549.9,147.9 550.2,144.8 550.5,146.9 550.8,152.2 551.1,148.6 551.4,147.6 551.8,145.9 552.1,148.2 552.4,148.2 552.7,149.0 553.0,146.7 553.3,148.8 553.6,149.1 554.0,149.5 554.3,147.2 554.6,149.2 554.9,151.3 555.2,147.3 555.5,149.7 555.8,147.9 556.2,148.0 556.5,146.5 556.8,146.9 557.1,149.8 557.4,149.1 557.7,151.2 558.0,146.0 558.4,148.2 558.7,146.6 559.0,149.7 559.3,152.8 559.6,146.5 559.9,149.1 560.2,149.1 560.6,149.2 560.9,148.2 561.2,148.5 561.5,151.7 561.8,140.9 562.1,137.8 562.4,131.6 562.8,121.6 563.1,117.0 563.4,113.2 563.7,109.9 564.0,100.2 564.3,93.5 564.6,88.5 565.0,94.1 565.3,96.6 565.6,100.5 565.9,100.8 566.2,102.4 566.5,104.5 566.8,110.0 567.2,110.4 567.5,111.9 567.8,115.7 568.1,116.8 568.4,114.5 568.7,119.5 569.0,119.7 569.4,123.5 569.7,123.9 570.0,128.3 570.3,126.4 570.6,125.3 570.9,124.7 571.2,127.3 571.6,129.1 571.9,131.1 572.2,133.1 572.5,133.1 572.8,132.4 573.1,135.6 573.4,133.2 573.8,137.2 574.1,139.2 574.4,138.4 574.7,140.1 575.0,140.1 575.3,136.1 575.6,139.0 576.0,138.6 576.3,137.4 576.6,137.6 576.9,141.1 577.2,138.2 577.5,140.3 577.8,141.3 578.2,140.8 578.5,144.5 578.8,143.6 579.1,142.7 579.4,141.7 579.7,143.7 580.0,143.5 580.4,141.8 580.7,141.3 581.0,142.7 581.3,142.0 581.6,145.2 581.9,145.2 582.3,144.3 582.6,145.6 582.9,146.2 583.2,142.5 583.5,146.0 583.8,147.5 584.1,145.1 584.5,142.9 584.8,146.1 585.1,144.2 585.4,147.4 585.7,147.6 586.0,148.1 586.3,147.3 586.7,143.9 587.0,149.3 587.3,144.5 587.6,149.3 587.9,148.0 588.2,146.2 588.5,146.7 588.9,147.5 589.2,151.0 589.5,147.5 589.8,150.1 590.1,143.8 590.4,148.8 590.7,148.2 591.1,150.7 591.4,149.6 591.7,151.1 592.0,147.2 592.3,149.4 592.6,148.1 592.9,150.4 593.3,150.1 593.6,147.0 593.9,151.1 594.2,152.6 594.5,148.8 594.8,151.6 595.1,150.4 595.5,148.1 595.8,151.2 596.1,148.3 596.4,151.1 596.7,147.3 597.0,147.6 597.3,150.9 597.7,150.5 598.0,151.6 598.3,149.9 598.6,148.2 598.9,152.9 599.2,148.7 599.5,152.8 599.9,152.0 600.2,153.7 600.5,146.8 600.8,150.5 601.1,143.8 601.4,139.0 601.7,129.5 602.1,128.8 602.4,118.6 602.7,108.3 603.0,106.5 603.3,99.4 603.6,91.8 603.9,88.1 604.3,90.2 604.6,91.9 604.9,96.4 605.2,99.0 605.5,103.0 605.8,104.3 606.1,107.2 606.5,106.9 606.8,110.3 607.1,113.9 607.4,119.7 607.7,115.8 608.0,117.3 608.3,121.8 608.7,125.1 609.0,124.9 609.3,122.5 609.6,127.2 609.9,127.2 610.2,127.0 610.5,126.2 610.9,129.4 611.2,130.4 611.5,132.0 611.8,128.9 612.1,130.7 612.4,133.4 612.7,136.4 613.1,136.0 613.4,134.1 613.7,137.0 614.0,134.7 614.3,136.1 614.6,136.8 614.9,136.6 615.3,137.3 615.6,140.1 615.9,139.6 616.2,135.3 616.5,141.9 616.8,141.0 617.1,138.6 617.5,141.1 617.8,142.6 618.1,143.8 618.4,140.8 618.7,140.2 619.0,139.8 619.3,142.5 619.7,141.0 620.0,144.9 620.3,143.0 620.6,144.7 620.9,143.4 621.2,142.6 621.6,142.2 621.9,146.1 622.2,142.3 622.5,145.6 622.8,146.7 623.1,145.4 623.4,147.9 623.8,145.4 624.1,145.1 624.4,146.1 624.7,144.9 625.0,146.6 625.3,146.2 625.6,148.9 626.0,146.4 626.3,148.1 626.6,147.5 626.9,147.0 627.2,146.6 627.5,150.0 627.8,149.9 628.2,147.8 628.5,146.5 628.8,146.8 629.1,146.0 629.4,145.4 629.7,146.9 630.0,147.9 630.4,149.8 630.7,149.7 631.0,149.0 631.3,147.8 631.6,147.9 631.9,148.4 632.2,148.8 632.6,147.4 632.9,148.3 633.2,148.2 633.5,148.2 633.8,149.8 634.1,150.8 634.4,148.1 634.8,148.3 635.1,149.5 635.4,149.9 635.7,145.2 636.0,150.7 636.3,149.7 636.6,148.9 637.0,151.5 637.3,149.3 637.6,146.4 637.9,148.0 638.2,148.6 638.5,148.7 638.8,149.6 639.2,148.1 639.5,150.2 639.8,150.7 640.1,149.9 640.4,141.6 640.7,135.8 641.0,128.4 641.4,126.4 641.7,113.8 642.0,105.0 642.3,100.0 642.6,96.1 642.9,90.2 643.2,81.4 643.6,87.6 643.9,88.3 644.2,94.0 644.5,94.6 644.8,96.9 645.1,105.7 645.4,104.2 645.8,108.5 646.1,112.0 646.4,112.8 646.7,114.1 647.0,113.8 647.3,120.1 647.6,117.2 648.0,117.0 648.3,121.0 648.6,122.5 648.9,124.8 649.2,128.1 649.5,126.2 649.8,127.5 650.2,127.9 650.5,125.7 650.8,129.8 651.1,131.2 651.4,130.0 651.7,136.0 652.0,136.4 652.4,135.7 652.7,136.9 653.0,135.1 653.3,137.5 653.6,134.4 653.9,135.4 654.2,137.2 654.6,139.8 654.9,138.5 655.2,138.6 655.5,142.3 655.8,140.2 656.1,140.0 656.4,141.2 656.8,139.2 657.1,140.2 657.4,144.2 657.7,142.8 658.0,144.8 658.3,142.6 658.6,145.5 659.0,142.6 659.3,143.8 659.6,143.0 659.9,145.2 660.2,147.8 660.5,142.3 660.9,146.0 661.2,143.5 661.5,145.4 661.8,145.1 662.1,143.3 662.4,146.1 662.7,144.4 663.1,149.7 663.4,145.7 663.7,147.9 664.0,147.8 664.3,147.7 664.6,147.3 664.9,145.1 665.3,151.5 665.6,148.3 665.9,149.8 666.2,146.6 666.5,149.5 666.8,148.1 667.1,149.7 667.5,148.0 667.8,147.5 668.1,150.1 668.4,149.4 668.7,152.1 669.0,149.2 669.3,148.3 669.7,150.9 670.0,148.0 670.3,153.8 670.6,153.5 670.9,152.8 671.2,151.3 671.5,150.5 671.9,150.7 672.2,150.8 672.5,149.5 672.8,151.7 673.1,153.1 673.4,153.2 673.7,147.3 674.1,155.3 674.4,151.5 674.7,148.7 675.0,150.5 675.3,152.9 675.6,151.5 675.9,150.0 676.3,149.4 676.6,153.2 676.9,150.4 677.2,151.3 677.5,149.9 677.8,149.4 678.1,152.5 678.5,154.6 678.8,151.3 679.1,148.9 679.4,150.9 679.4,166.9 679.1,164.0 678.8,167.0 678.5,165.4 678.1,165.5 677.8,165.4 677.5,165.7 677.2,165.4 676.9,165.8 676.6,163.0 676.3,167.5 675.9,166.9 675.6,165.1 675.3,165.9 675.0,165.6 674.7,164.5 674.4,164.4 674.1,164.7 673.7,164.0 673.4,163.2 673.1,165.2 672.8,163.8 672.5,162.7 672.2,164.7 671.9,165.1 671.5,163.7 671.2,168.0 670.9,163.6 670.6,161.4 670.3,163.6 670.0,165.1 669.7,160.8 669.3,163.8 669.0,164.0 668.7,162.6 668.4,162.0 668.1,163.2 667.8,163.9 667.5,164.7 667.1,164.8 666.8,168.7 666.5,161.7 666.2,161.5 665.9,162.1 665.6,163.3 665.3,161.3 664.9,161.0 664.6,161.7 664.3,162.7 664.0,162.2 663.7,160.7 663.4,159.9 663.1,162.8 662.7,162.1 662.4,156.3 662.1,162.1 661.8,159.6 661.5,161.3 661.2,162.3 660.9,159.7 660.5,158.3 660.2,159.0 659.9,158.2 659.6,160.9 659.3,159.5 659.0,160.2 658.6,159.6 658.3,156.5 658.0,160.6 657.7,157.8 657.4,155.3 657.1,155.6 656.8,158.6 656.4,155.3 656.1,155.3 655.8,158.0 655.5,155.5 655.2,156.3 654.9,158.5 654.6,161.9 654.2,155.3 653.9,154.4 653.6,154.8 653.3,149.8 653.0,151.4 652.7,151.6 652.4,150.8 652.0,151.9 651.7,149.3 651.4,149.5 651.1,147.0 650.8,150.9 650.5,150.0 650.2,147.8 649.8,148.8 649.5,146.9 649.2,146.2 648.9,147.6 648.6,142.4 648.3,143.8 648.0,141.4 647.6,139.2 647.3,137.8 647.0,138.9 646.7,138.0 646.4,134.8 646.1,133.3 645.8,127.3 645.4,130.0 645.1,127.4 644.8,123.7 644.5,123.3 644.2,119.4 643.9,119.0 643.6,119.1 643.2,109.1 642.9,118.9 642.6,122.4 642.3,125.8 642.0,133.4 641.7,134.7 641.4,144.0 641.0,147.6 640.7,152.2 640.4,157.5 640.1,163.8 639.8,167.5 639.5,163.8 639.2,159.9 638.8,162.9 638.5,161.8 638.2,163.9 637.9,164.5 637.6,162.5 637.3,162.2 637.0,161.5 636.6,160.7 636.3,160.2 636.0,164.3 635.7,160.1 635.4,158.8 635.1,162.9 634.8,164.7 634.4,160.5 634.1,162.7 633.8,165.9 633.5,158.5 633.2,160.9 632.9,160.9 632.6,163.5 632.2,161.9 631.9,160.0 631.6,160.8 631.3,159.5 631.0,160.9 630.7,158.9 630.4,162.2 630.0,159.1 629.7,164.1 629.4,159.5 629.1,161.1 628.8,162.0 628.5,161.3 628.2,162.1 627.8,160.0 627.5,158.9 627.2,163.8 626.9,156.4 626.6,160.0 626.3,160.2 626.0,161.4 625.6,160.6 625.3,161.6 625.0,158.1 624.7,156.3 624.4,160.0 624.1,159.8 623.8,160.0 623.4,156.9 623.1,158.1 622.8,157.8 622.5,158.9 622.2,158.0 621.9,156.5 621.6,160.9 621.2,156.2 620.9,159.5 620.6,160.0 620.3,157.5 620.0,157.4 619.7,158.0 619.3,155.3 619.0,154.5 618.7,155.9 618.4,155.0 618.1,156.7 617.8,156.1 617.5,153.7 617.1,156.2 616.8,156.6 616.5,152.6 616.2,153.2 615.9,155.8 615.6,157.0 615.3,153.1 614.9,154.5 614.6,151.0 614.3,152.6 614.0,153.0 613.7,152.7 613.4,149.3 613.1,148.1 612.7,151.1 612.4,150.9 612.1,149.0 611.8,148.5 611.5,145.4 611.2,146.6 610.9,147.2 610.5,144.5 610.2,141.5 609.9,141.1 609.6,140.0 609.3,143.7 609.0,142.8 608.7,136.5 608.3,138.7 608.0,135.8 607.7,132.5 607.4,131.5 607.1,132.6 606.8,130.3 606.5,129.6 606.1,127.6 605.8,124.5 605.5,123.3 605.2,118.1 604.9,117.8 604.6,111.8 604.3,108.2 603.9,107.5 603.6,112.8 603.3,117.5 603.0,119.7 602.7,130.2 602.4,134.2 602.1,142.5 601.7,144.5 601.4,152.0 601.1,158.8 600.8,166.4 600.5,160.6 600.2,161.3 599.9,164.3 599.5,164.5 599.2,161.2 598.9,160.9 598.6,163.5 598.3,166.1 598.0,162.8 597.7,164.4 597.3,162.8 597.0,162.6 596.7,162.1 596.4,162.4 596.1,165.6 595.8,165.4 595.5,164.0 595.1,163.9 594.8,160.9 594.5,160.0 594.2,164.9 593.9,162.0 593.6,164.0 593.3,165.5 592.9,160.6 592.6,164.2 592.3,162.1 592.0,161.0 591.7,154.8 591.4,160.1 591.1,162.1 590.7,163.8 590.4,161.2 590.1,162.2 589.8,160.5 589.5,160.2 589.2,162.1 588.9,159.5 588.5,163.3 588.2,159.4 587.9,162.2 587.6,159.4 587.3,158.1 587.0,161.1 586.7,162.9 586.3,162.8 586.0,161.1 585.7,158.8 585.4,160.1 585.1,159.8 584.8,161.5 584.5,160.3 584.1,161.4 583.8,160.2 583.5,159.4 583.2,161.4 582.9,160.6 582.6,157.2 582.3,160.6 581.9,157.3 581.6,155.6 581.3,160.7 581.0,158.4 580.7,154.4 580.4,157.6 580.0,159.7 579.7,153.4 579.4,156.5 579.1,154.5 578.8,154.7 578.5,156.6 578.2,155.3 577.8,155.5 577.5,154.0 577.2,153.1 576.9,154.4 576.6,154.0 576.3,151.1 576.0,151.9 575.6,151.8 575.3,150.0 575.0,155.2 574.7,150.7 574.4,151.4 574.1,148.5 573.8,151.5 573.4,149.9 573.1,149.3 572.8,145.3 572.5,150.3 572.2,148.3 571.9,149.8 571.6,143.3 571.2,144.7 570.9,143.5 570.6,143.1 570.3,143.9 570.0,141.6 569.7,138.2 569.4,137.3 569.0,132.8 568.7,135.3 568.4,132.2 568.1,130.7 567.8,132.2 567.5,127.8 567.2,127.1 566.8,126.1 566.5,118.9 566.2,121.0 565.9,116.5 565.6,114.5 565.3,112.8 565.0,109.5 564.6,108.4 564.3,109.9 564.0,116.4 563.7,118.0 563.4,127.6 563.1,132.4 562.8,138.2 562.4,142.7 562.1,153.6 561.8,156.7 561.5,159.0 561.2,160.0 560.9,161.9 560.6,162.4 560.2,161.0 559.9,161.2 559.6,160.2 559.3,164.7 559.0,163.9 558.7,159.8 558.4,161.8 558.0,157.7 557.7,159.3 557.4,162.3 557.1,159.6 556.8,159.9 556.5,161.2 556.2,164.3 555.8,160.0 555.5,162.0 555.2,160.0 554.9,158.6 554.6,161.8 554.3,164.8 554.0,161.1 553.6,161.2 553.3,160.5 553.0,156.9 552.7,159.8 552.4,158.1 552.1,159.1 551.8,159.5 551.4,160.7 551.1,157.8 550.8,157.8 550.5,163.3 550.2,159.5 549.9,159.8 549.6,156.4 549.2,162.2 548.9,158.5 548.6,158.2 548.3,154.5 548.0,159.2 547.7,156.7 547.4,162.3 547.0,159.6 546.7,159.0 546.4,154.7 546.1,158.0 545.8,153.8 545.5,154.6 545.2,158.0 544.8,160.3 544.5,156.6 544.2,157.4 543.9,158.0 543.6,154.9 543.3,155.1 543.0,158.2 542.6,158.6 542.3,155.7 542.0,153.1 541.7,153.9 541.4,151.7 541.1,155.1 540.7,158.9 540.4,152.6 540.1,153.3 539.8,154.7 539.5,153.8 539.2,155.7 538.9,154.9 538.5,152.2 538.2,155.9 537.9,150.7 537.6,151.9 537.3,151.2 537.0,150.8 536.7,149.0 536.3,149.9 536.0,151.2 535.7,150.1 535.4,151.2 535.1,151.0 534.8,147.0 534.5,150.2 534.1,148.0 533.8,146.5 533.5,145.6 533.2,145.4 532.9,142.9 532.6,145.7 532.3,142.8 531.9,144.6 531.6,139.7 531.3,138.8 531.0,134.8 530.7,137.7 530.4,138.8 530.1,137.4 529.7,135.0 529.4,134.0 529.1,133.0 528.8,128.1 528.5,132.1 528.2,128.5 527.9,124.6 527.5,123.6 527.2,122.0 526.9,114.2 526.6,116.4 526.3,113.6 526.0,108.2 525.7,107.2 525.3,102.9 525.0,105.7 524.7,113.8 524.4,118.7 524.1,125.5 523.8,129.6 523.5,137.0 523.1,137.2 522.8,143.7 522.5,152.0 522.2,152.6 521.9,157.5 521.6,155.8 521.3,153.0 520.9,152.5 520.6,156.0 520.3,154.8 520.0,154.8 519.7,154.6 519.4,155.6 519.1,158.5 518.7,153.9 518.4,153.4 518.1,152.4 517.8,155.1 517.5,156.6 517.2,157.9 516.9,155.1 516.5,154.0 516.2,157.4 515.9,156.9 515.6,154.5 515.3,155.7 515.0,153.4 514.7,153.9 514.3,154.2 514.0,155.6 513.7,153.5 513.4,156.6 513.1,152.2 512.8,153.6 512.5,153.2 512.1,154.6 511.8,157.4 511.5,153.4 511.2,152.8 510.9,153.6 510.6,155.8 510.3,153.6 509.9,154.9 509.6,152.4 509.3,150.9 509.0,154.4 508.7,152.8 508.4,155.1 508.1,153.0 507.7,155.2 507.4,151.1 507.1,151.2 506.8,152.0 506.5,150.9 506.2,149.4 505.9,153.1 505.5,152.7 505.2,149.8 504.9,152.4 504.6,150.4 504.3,149.2 504.0,149.7 503.7,149.0 503.3,150.2 503.0,150.9 502.7,152.2 502.4,153.0 502.1,151.5 501.8,153.3 501.4,149.2 501.1,151.0 500.8,151.0 500.5,145.2 500.2,150.3 499.9,148.2 499.6,147.5 499.2,150.0 498.9,147.1 498.6,147.5 498.3,146.5 498.0,146.2 497.7,144.3 497.4,144.3 497.0,145.7 496.7,144.2 496.4,145.0 496.1,145.6 495.8,144.2 495.5,143.9 495.2,140.8 494.8,140.4 494.5,144.4 494.2,139.0 493.9,142.4 493.6,142.7 493.3,142.1 493.0,140.2 492.6,137.6 492.3,138.4 492.0,135.7 491.7,134.5 491.4,136.0 491.1,136.4 490.8,134.2 490.4,134.3 490.1,129.4 489.8,126.2 489.5,126.8 489.2,126.2 488.9,124.3 488.6,123.5 488.2,120.4 487.9,118.7 487.6,115.8 487.3,116.3 487.0,111.7 486.7,108.5 486.4,104.2 486.0,100.9 485.7,109.5 485.4,115.3 485.1,118.4 484.8,125.4 484.5,131.0 484.2,133.6 483.8,141.1 483.5,146.2 483.2,153.7 482.9,157.4 482.6,154.6 482.3,154.2 482.0,155.6 481.6,157.1 481.3,155.8 481.0,157.0 480.7,156.6 480.4,155.2 480.1,155.7 479.8,156.3 479.4,155.3 479.1,157.1 478.8,156.6 478.5,155.9 478.2,157.9 477.9,157.9 477.6,160.1 477.2,157.0 476.9,159.2 476.6,156.5 476.3,158.2 476.0,156.2 475.7,159.4 475.4,159.3 475.0,158.4 474.7,159.5 474.4,156.9 474.1,158.8 473.8,157.9 473.5,161.1 473.2,158.8 472.8,159.2 472.5,158.5 472.2,156.9 471.9,158.0 471.6,158.3 471.3,160.8 471.0,156.8 470.6,156.2 470.3,158.4 470.0,158.8 469.7,157.7 469.4,158.0 469.1,160.7 468.8,160.3 468.4,160.0 468.1,156.5 467.8,158.9 467.5,160.1 467.2,155.9 466.9,158.7 466.6,160.9 466.2,159.2 465.9,160.2 465.6,161.7 465.3,160.7 465.0,158.0 464.7,160.2 464.4,159.3 464.0,161.4 463.7,161.8 463.4,162.2 463.1,158.3 462.8,161.9 462.5,162.6 462.1,162.2 461.8,163.0 461.5,158.9 461.2,161.6 460.9,159.5 460.6,158.9 460.3,163.9 459.9,159.2 459.6,159.1 459.3,163.9 459.0,164.2 458.7,161.8 458.4,166.3 458.1,162.7 457.7,161.4 457.4,159.0 457.1,161.9 456.8,162.2 456.5,161.4 456.2,161.9 455.9,158.9 455.5,162.1 455.2,165.3 454.9,161.2 454.6,160.8 454.3,162.1 454.0,160.3 453.7,161.5 453.3,161.9 453.0,160.9 452.7,160.1 452.4,163.5 452.1,165.9 451.8,165.0 451.5,165.7 451.1,160.5 450.8,162.0 450.5,160.6 450.2,165.2 449.9,163.1 449.6,161.6 449.3,161.5 448.9,163.0 448.6,160.9 448.3,163.4 448.0,164.8 447.7,162.2 447.4,163.8 447.1,162.2 446.7,165.9 446.4,164.1 446.1,164.9 445.8,160.6 445.5,163.2 445.2,163.3 444.9,164.5 444.5,161.9 444.2,165.4 443.9,159.4 443.6,163.3" fill="#c4c4c4" fill-opacity="0.85" stroke="none"/>
<polyline points="443.6,158.4 443.9,158.4 444.2,158.4 444.5,160.2 444.9,160.2 445.2,159.2 445.5,159.6 445.8,158.5 446.1,157.4 446.4,156.7 446.7,157.8 447.1,157.8 447.4,156.2 447.7,155.9 448.0,155.7 448.3,156.9 448.6,158.4 448.9,157.4 449.3,158.5 449.6,159.1 449.9,158.3 450.2,158.8 450.5,160.0 450.8,160.4 451.1,158.8 451.5,157.1 451.8,156.1 452.1,157.0 452.4,158.1 452.7,158.8 453.0,158.2 453.3,157.6 453.7,157.4 454.0,155.5 454.3,156.1 454.6,159.2 454.9,159.9 455.2,159.9 455.5,160.2 455.9,157.5 456.2,156.2 456.5,158.8 456.8,158.4 457.1,155.7 457.4,156.7 457.7,158.5 458.1,158.5 458.4,157.5 458.7,156.6 459.0,155.7 459.3,155.2 459.6,155.1 459.9,155.0 460.3,155.4 460.6,158.2 460.9,158.9 461.2,157.1 461.5,157.4 461.8,156.8 462.1,156.7 462.5,158.5 462.8,156.7 463.1,155.2 463.4,156.3 463.7,156.1 464.0,155.3 464.4,155.8 464.7,159.1 465.0,160.1 465.3,158.1 465.6,158.4 465.9,157.8 466.2,155.7 466.6,156.3 466.9,158.5 467.2,156.1 467.5,155.4 467.8,158.5 468.1,157.8 468.4,156.2 468.8,157.1 469.1,156.8 469.4,156.5 469.7,158.1 470.0,157.5 470.3,155.9 470.6,156.6 471.0,157.0 471.3,156.5 471.6,154.1 471.9,154.7 472.2,156.0 472.5,155.4 472.8,156.8 473.2,156.0 473.5,155.0 473.8,154.5 474.1,155.0 474.4,156.8 474.7,157.6 475.0,156.5 475.4,155.4 475.7,154.6 476.0,154.7 476.3,155.0 476.6,153.9 476.9,154.8 477.2,157.6 477.6,158.9 477.9,158.8 478.2,156.1 478.5,155.6 478.8,155.9 479.1,154.5 479.4,154.0 479.8,153.6 480.1,155.3 480.4,156.4 480.7,156.2 481.0,155.9 481.3,156.4 481.6,156.6 482.0,154.6 482.3,156.1 482.6,157.4 482.9,156.6 483.2,150.8 483.5,143.2 483.8,137.5 484.2,131.6 484.5,127.1 484.8,120.9 485.1,114.0 485.4,108.5 485.7,101.9 486.0,99.0 486.4,106.3 486.7,109.2 487.0,112.0 487.3,116.3 487.6,121.3 487.9,126.3 488.2,128.1 488.6,127.7 488.9,131.3 489.2,135.3 489.5,138.7 489.8,139.2 490.1,136.5 490.4,137.9 490.8,140.4 491.1,141.6 491.4,144.6 491.7,144.6 492.0,145.5 492.3,147.6 492.6,146.8 493.0,146.2 493.3,146.6 493.6,147.4 493.9,148.9 494.2,150.9 494.5,150.4 494.8,150.1 495.2,151.7 495.5,152.4 495.8,151.9 496.1,152.6 496.4,153.6 496.7,153.6 497.0,152.3 497.4,150.5 497.7,148.9 498.0,150.9 498.3,153.5 498.6,151.4 498.9,151.0 499.2,152.3 499.6,150.6 499.9,150.7 500.2,153.5 500.5,154.5 500.8,153.2 501.1,151.7 501.4,153.4 501.8,154.7 502.1,152.9 502.4,151.5 502.7,152.7 503.0,152.7 503.3,151.6 503.7,154.0 504.0,154.9 504.3,152.8 504.6,153.1 504.9,155.6 505.2,155.4 505.5,152.7 505.9,151.0 506.2,153.8 506.5,152.9 506.8,151.9 507.1,153.5 507.4,151.3 507.7,151.3 508.1,152.4 508.4,154.5 508.7,154.0 509.0,153.7 509.3,156.7 509.6,153.3 509.9,150.3 510.3,151.3 510.6,152.9 510.9,153.2 511.2,150.9 511.5,150.8 511.8,152.4 512.1,155.0 512.5,155.2 512.8,156.2 513.1,157.6 513.4,155.5 513.7,154.8 514.0,155.1 514.3,154.3 514.7,152.3 515.0,151.0 515.3,152.9 515.6,153.0 515.9,153.7 516.2,155.2 516.5,153.6 516.9,154.5 517.2,155.6 517.5,155.7 517.8,155.4 518.1,152.6 518.4,153.4 518.7,154.8 519.1,154.9 519.4,156.2 519.7,156.6 520.0,154.1 520.3,150.7 520.6,151.7 520.9,154.6 521.3,154.4 521.6,154.0 521.9,154.0 522.2,153.4 522.5,147.3 522.8,140.5 523.1,134.8 523.5,129.2 523.8,123.7 524.1,117.2 524.4,110.4 524.7,103.6 525.0,96.6 525.3,89.8 525.7,91.9 526.0,96.5 526.3,100.7 526.6,103.0 526.9,104.1 527.2,104.0 527.5,106.2 527.9,110.3 528.2,111.7 528.5,114.6 528.8,116.3 529.1,117.1 529.4,122.7 529.7,121.0 530.1,118.2 530.4,122.9 530.7,125.4 531.0,125.8 531.3,126.9 531.6,129.1 531.9,130.7 532.3,129.7 532.6,129.7 532.9,129.8 533.2,130.7 533.5,130.3 533.8,131.7 534.1,134.3 534.5,136.1 534.8,138.1 535.1,135.5 535.4,135.8 535.7,137.0 536.0,136.6 536.3,138.6 536.7,139.3 537.0,139.2 537.3,139.7 537.6,138.9 537.9,138.2 538.2,139.8 538.5,141.6 538.9,141.1 539.2,140.6 539.5,140.2 539.8,137.9 540.1,138.3 540.4,141.1 540.7,142.4 541.1,143.4 541.4,144.3 541.7,144.7 542.0,144.4 542.3,144.1 542.6,143.2 543.0,143.4 543.3,144.5 543.6,145.5 543.9,143.9 544.2,142.4 544.5,142.5 544.8,142.4 545.2,142.8 545.5,144.0 545.8,144.9 546.1,142.2 546.4,144.2 546.7,145.8 547.0,143.2 547.4,144.0 547.7,145.1 548.0,144.4 548.3,145.9 548.6,146.8 548.9,147.1 549.2,148.3 549.6,148.2 549.9,147.8 550.2,147.1 550.5,146.7 550.8,148.3 551.1,146.9 551.4,144.5 551.8,145.8 552.1,147.4 552.4,148.3 552.7,147.5 553.0,147.1 553.3,149.4 553.6,149.1 554.0,144.7 554.3,147.3 554.6,149.3 554.9,147.2 555.2,148.4 555.5,147.5 555.8,148.6 556.2,149.8 556.5,147.3 556.8,147.8 557.1,149.7 557.4,149.4 557.7,149.5 558.0,148.2 558.4,148.7 558.7,149.4 559.0,149.8 559.3,150.1 559.6,149.0 559.9,152.2 560.2,152.2 560.6,150.8 560.9,151.3 561.2,148.8 561.5,149.5 561.8,145.2 562.1,135.8 562.4,127.8 562.8,120.8 563.1,113.8 563.4,109.3 563.7,102.8 564.0,93.9 564.3,86.0 564.6,80.4 565.0,86.4 565.3,91.2 565.6,96.0 565.9,97.9 566.2,100.8 566.5,106.9 566.8,110.2 567.2,110.9 567.5,112.2 567.8,115.2 568.1,118.4 568.4,120.0 568.7,122.6 569.0,125.4 569.4,124.3 569.7,124.8 570.0,126.4 570.3,125.8 570.6,126.5 570.9,128.6 571.2,128.0 571.6,128.1 571.9,131.3 572.2,131.9 572.5,131.8 572.8,134.0 573.1,134.8 573.4,134.7 573.8,137.2 574.1,137.7 574.4,136.5 574.7,137.2 575.0,138.9 575.3,139.2 575.6,138.0 576.0,137.9 576.3,139.3 576.6,139.1 576.9,139.5 577.2,140.6 577.5,138.4 577.8,139.2 578.2,141.2 578.5,139.7 578.8,139.9 579.1,141.4 579.4,141.1 579.7,140.0 580.0,142.5 580.4,144.6 580.7,143.6 581.0,144.1 581.3,144.1 581.6,144.0 581.9,143.1 582.3,143.3 582.6,143.7 582.9,142.6 583.2,143.5 583.5,144.0 583.8,141.8 584.1,141.8 584.5,144.1 584.8,144.6 585.1,145.0 585.4,144.8 585.7,143.3 586.0,144.4 586.3,145.6 586.7,143.8 587.0,144.2 587.3,145.2 587.6,145.9 587.9,146.9 588.2,146.6 588.5,143.8 588.9,143.8 589.2,146.5 589.5,146.7 589.8,146.4 590.1,145.4 590.4,145.1 590.7,143.9 591.1,143.9 591.4,144.6 591.7,144.6 592.0,145.5 592.3,147.2 592.6,148.0 592.9,146.7 593.3,146.9 593.6,149.0 593.9,148.0 594.2,146.4 594.5,147.7 594.8,147.6 595.1,147.5 595.5,146.9 595.8,147.9 596.1,149.3 596.4,147.8 596.7,146.9 597.0,147.6 597.3,148.3 597.7,148.8 598.0,148.3 598.3,146.5 598.6,147.5 598.9,147.2 599.2,145.4 599.5,147.3 599.9,147.4 600.2,148.5 600.5,150.9 600.8,150.7 601.1,140.8 601.4,131.2 601.7,122.7 602.1,113.6 602.4,106.4 602.7,97.4 603.0,88.0 603.3,80.4 603.6,70.8 603.9,62.6 604.3,66.7 604.6,69.6 604.9,71.1 605.2,72.2 605.5,74.1 605.8,77.9 606.1,81.3 606.5,83.3 606.8,84.0 607.1,86.8 607.4,87.7 607.7,87.8 608.0,91.2 608.3,91.8 608.7,91.4 609.0,92.6 609.3,93.8 609.6,95.1 609.9,95.9 610.2,95.8 610.5,98.0 610.9,98.7 611.2,99.3 611.5,101.3 611.8,103.1 612.1,104.2 612.4,103.2 612.7,104.8 613.1,105.5 613.4,104.5 613.7,105.4 614.0,108.4 614.3,109.2 614.6,107.0 614.9,108.1 615.3,109.0 615.6,111.0 615.9,110.8 616.2,109.5 616.5,109.7 616.8,111.2 617.1,111.7 617.5,110.5 617.8,110.7 618.1,111.6 618.4,113.2 618.7,110.5 619.0,111.0 619.3,114.0 619.7,113.7 620.0,114.3 620.3,113.1 620.6,110.7 620.9,112.7 621.2,116.2 621.6,114.6 621.9,112.1 622.2,112.6 622.5,112.7 622.8,114.5 623.1,115.9 623.4,116.6 623.8,117.9 624.1,115.8 624.4,115.2 624.7,114.1 625.0,113.5 625.3,116.4 625.6,115.8 626.0,113.5 626.3,113.9 626.6,116.8 626.9,116.9 627.2,114.4 627.5,115.1 627.8,117.1 628.2,115.5 628.5,114.5 628.8,116.3 629.1,116.6 629.4,116.0 629.7,115.2 630.0,114.2 630.4,113.2 630.7,112.5 631.0,115.0 631.3,115.3 631.6,113.1 631.9,113.1 632.2,113.2 632.6,114.4 632.9,116.6 633.2,115.6 633.5,116.0 633.8,119.3 634.1,117.7 634.4,116.7 634.8,118.2 635.1,119.2 635.4,120.4 635.7,120.4 636.0,119.7 636.3,118.4 636.6,120.3 637.0,120.1 637.3,119.1 637.6,120.9 637.9,119.2 638.2,118.3 638.5,120.5 638.8,118.7 639.2,118.1 639.5,119.7 639.8,118.7 640.1,117.6 640.4,110.7 640.7,103.6 641.0,96.3 641.4,88.7 641.7,81.2 642.0,75.1 642.3,65.0 642.6,56.9 642.9,51.0 643.2,41.7 643.6,43.7 643.9,48.6 644.2,50.2 644.5,52.3 644.8,53.5 645.1,52.7 645.4,55.7 645.8,58.7 646.1,59.2 646.4,59.7 646.7,61.8 647.0,62.2 647.3,64.1 647.6,65.8 648.0,65.1 648.3,65.6 648.6,65.6 648.9,67.1 649.2,67.5 649.5,67.0 649.8,68.7 650.2,70.3 650.5,71.3 650.8,70.1 651.1,70.3 651.4,71.0 651.7,69.4 652.0,68.9 652.4,68.7 652.7,70.3 653.0,73.1 653.3,72.2 653.6,71.1 653.9,71.3 654.2,71.8 654.6,72.0 654.9,71.4 655.2,72.1 655.5,72.7 655.8,73.2 656.1,73.6 656.4,74.0 656.8,73.4 657.1,74.3 657.4,73.8 657.7,73.6 658.0,74.4 658.3,74.6 658.6,75.9 659.0,74.0 659.3,74.2 659.6,77.5 659.9,78.0 660.2,77.2 660.5,74.6 660.9,74.3 661.2,75.5 661.5,76.8 661.8,77.4 662.1,76.0 662.4,74.7 662.7,76.1 663.1,77.3 663.4,76.5 663.7,78.1 664.0,78.5 664.3,77.9 664.6,80.1 664.9,79.4 665.3,76.7 665.6,77.8 665.9,79.7 666.2,77.9 666.5,76.5 666.8,77.0 667.1,76.0 667.5,77.5 667.8,78.1 668.1,77.9 668.4,78.8 668.7,78.7 669.0,78.7 669.3,77.6 669.7,77.6 670.0,78.8 670.3,79.2 670.6,78.8 670.9,79.5 671.2,80.3 671.5,79.5 671.9,79.6 672.2,79.8 672.5,79.8 672.8,77.9 673.1,76.1 673.4,77.6 673.7,78.9 674.1,77.3 674.4,77.0 674.7,79.2 675.0,79.2 675.3,78.9 675.6,77.9 675.9,78.2 676.3,77.6 676.6,78.4 676.9,79.8 677.2,79.9 677.5,78.9 677.8,78.3 678.1,80.1 678.5,78.9 678.8,77.7 679.1,79.7 679.4,81.2" fill="none" stroke="#ff0000" stroke-width="1.5" stroke-linejoin="round" />
<polyline points="443.6,159.6 443.9,160.5 444.2,160.2 444.5,160.4 444.9,161.5 445.2,160.2 445.5,157.6 445.8,159.3 446.1,160.3 446.4,159.2 446.7,160.3 447.1,158.4 447.4,157.8 447.7,157.0 448.0,157.2 448.3,158.5 448.6,157.8 448.9,159.1 449.3,158.1 449.6,157.3 449.9,157.2 450.2,157.0 450.5,159.0 450.8,159.0 451.1,157.5 451.5,156.2 451.8,157.3 452.1,158.4 452.4,159.3 452.7,158.4 453.0,157.6 453.3,160.5 453.7,159.2 454.0,155.7 454.3,157.4 454.6,159.9 454.9,158.9 455.2,158.9 455.5,157.5 455.9,157.1 456.2,158.3 456.5,156.6 456.8,156.6 457.1,156.7 457.4,156.9 457.7,158.8 458.1,159.7 458.4,156.0 458.7,154.2 459.0,156.0 459.3,155.6 459.6,155.7 459.9,155.5 460.3,153.4 460.6,154.6 460.9,158.7 461.2,158.6 461.5,158.2 461.8,156.1 462.1,153.5 462.5,155.4 462.8,158.0 463.1,157.2 463.4,153.9 463.7,156.7 464.0,157.7 464.4,155.5 464.7,154.9 465.0,154.8 465.3,156.3 465.6,156.8 465.9,157.5 466.2,154.0 466.6,151.8 466.9,153.9 467.2,155.8 467.5,157.6 467.8,156.9 468.1,154.7 468.4,154.2 468.8,154.2 469.1,155.4 469.4,155.3 469.7,154.0 470.0,152.3 470.3,150.0 470.6,151.6 471.0,154.7 471.3,154.5 471.6,154.3 471.9,155.0 472.2,154.3 472.5,154.6 472.8,153.7 473.2,152.6 473.5,152.9 473.8,153.0 474.1,154.1 474.4,154.9 474.7,154.3 475.0,153.7 475.4,153.1 475.7,152.4 476.0,154.2 476.3,154.1 476.6,154.0 476.9,154.8 477.2,153.4 477.6,155.1 477.9,154.6 478.2,151.9 478.5,152.1 478.8,152.7 479.1,152.9 479.4,153.5 479.8,153.4 480.1,152.8 480.4,152.3 480.7,153.0 481.0,152.8 481.3,151.1 481.6,151.5 482.0,152.1 482.3,151.2 482.6,152.6 482.9,152.7 483.2,145.0 483.5,139.7 483.8,134.1 484.2,129.8 484.5,125.1 484.8,118.1 485.1,111.8 485.4,106.9 485.7,103.7 486.0,97.9 486.4,97.7 486.7,100.0 487.0,103.7 487.3,109.3 487.6,110.7 487.9,111.2 488.2,117.3 488.6,118.6 488.9,119.1 489.2,122.7 489.5,123.3 489.8,121.7 490.1,122.7 490.4,125.2 490.8,123.8 491.1,123.4 491.4,126.6 491.7,129.8 492.0,132.1 492.3,133.5 492.6,132.4 493.0,131.8 493.3,133.0 493.6,132.9 493.9,134.6 494.2,136.5 494.5,135.3 494.8,135.1 495.2,135.3 495.5,136.0 495.8,138.1 496.1,138.6 496.4,139.9 496.7,142.7 497.0,141.2 497.4,139.7 497.7,140.4 498.0,142.7 498.3,143.8 498.6,142.8 498.9,143.7 499.2,146.0 499.6,145.6 499.9,142.1 500.2,141.5 500.5,143.6 500.8,144.3 501.1,142.9 501.4,146.4 501.8,147.6 502.1,143.9 502.4,143.2 502.7,142.0 503.0,141.6 503.3,143.5 503.7,144.6 504.0,144.2 504.3,145.4 504.6,146.5 504.9,145.0 505.2,142.7 505.5,144.1 505.9,146.7 506.2,146.4 506.5,144.8 506.8,145.2 507.1,145.2 507.4,146.4 507.7,148.5 508.1,147.7 508.4,146.7 508.7,145.3 509.0,148.1 509.3,150.6 509.6,148.5 509.9,148.3 510.3,150.6 510.6,148.6 510.9,146.3 511.2,147.1 511.5,148.3 511.8,147.8 512.1,147.6 512.5,147.6 512.8,148.4 513.1,150.8 513.4,149.6 513.7,149.5 514.0,149.0 514.3,147.9 514.7,149.9 515.0,150.1 515.3,149.5 515.6,148.6 515.9,149.0 516.2,150.6 516.5,148.5 516.9,145.4 517.2,144.5 517.5,147.1 517.8,149.3 518.1,147.6 518.4,148.1 518.7,151.1 519.1,150.9 519.4,149.2 519.7,150.4 520.0,152.9 520.3,153.7 520.6,151.0 520.9,150.2 521.3,151.2 521.6,150.1 521.9,149.2 522.2,149.9 522.5,144.7 522.8,140.0 523.1,135.7 523.5,130.5 523.8,123.3 524.1,116.8 524.4,113.7 524.7,108.7 525.0,102.7 525.3,96.1 525.7,101.1 526.0,106.3 526.3,107.7 526.6,106.2 526.9,107.1 527.2,112.6 527.5,115.1 527.9,114.6 528.2,117.7 528.5,122.3 528.8,122.3 529.1,122.9 529.4,125.0 529.7,127.6 530.1,127.4 530.4,126.0 530.7,128.8 531.0,131.1 531.3,135.2 531.6,136.2 531.9,134.9 532.3,136.0 532.6,135.8 532.9,137.5 533.2,141.0 533.5,140.9 533.8,140.4 534.1,141.8 534.5,142.3 534.8,142.8 535.1,145.4 535.4,144.0 535.7,141.5 536.0,142.1 536.3,140.4 536.7,142.1 537.0,147.0 537.3,148.5 537.6,148.2 537.9,148.0 538.2,146.8 538.5,148.9 538.9,148.9 539.2,148.6 539.5,149.0 539.8,147.6 540.1,148.6 540.4,148.8 540.7,149.3 541.1,150.2 541.4,151.8 541.7,151.3 542.0,147.3 542.3,145.1 542.6,145.9 543.0,147.6 543.3,150.2 543.6,149.5 543.9,148.9 544.2,150.9 544.5,151.3 544.8,151.3 545.2,151.6 545.5,152.0 545.8,152.9 546.1,153.4 546.4,149.5 546.7,149.3 547.0,152.4 547.4,151.8 547.7,150.8 548.0,152.9 548.3,154.1 548.6,151.8 548.9,151.3 549.2,152.4 549.6,151.0 549.9,152.0 550.2,153.8 550.5,153.8 550.8,152.2 551.1,154.0 551.4,156.6 551.8,155.0 552.1,153.5 552.4,152.3 552.7,151.5 553.0,154.1 553.3,155.0 553.6,153.5 554.0,155.3 554.3,154.4 554.6,154.7 554.9,157.9 555.2,157.3 555.5,156.7 555.8,157.1 556.2,154.9 556.5,153.8 556.8,152.5 557.1,153.1 557.4,156.9 557.7,157.6 558.0,156.9 558.4,157.5 558.7,156.0 559.0,155.3 559.3,158.2 559.6,156.7 559.9,154.5 560.2,155.0 560.6,154.8 560.9,154.5 561.2,154.6 561.5,153.9 561.8,147.6 562.1,142.7 562.4,136.9 562.8,133.2 563.1,128.0 563.4,120.7 563.7,114.4 564.0,109.8 564.3,102.2 564.6,94.6 565.0,101.4 565.3,106.8 565.6,108.7 565.9,109.5 566.2,112.7 566.5,114.9 566.8,117.1 567.2,118.6 567.5,120.7 567.8,123.3 568.1,123.0 568.4,121.5 568.7,125.4 569.0,130.4 569.4,131.6 569.7,131.4 570.0,132.9 570.3,135.5 570.6,135.3 570.9,136.9 571.2,138.9 571.6,139.2 571.9,141.4 572.2,143.3 572.5,142.0 572.8,140.9 573.1,141.3 573.4,144.2 573.8,145.1 574.1,142.6 574.4,142.0 574.7,143.5 575.0,145.7 575.3,145.4 575.6,145.4 576.0,148.0 576.3,148.7 576.6,146.0 576.9,145.1 577.2,145.8 577.5,147.0 577.8,147.6 578.2,148.0 578.5,149.6 578.8,146.3 579.1,145.5 579.4,149.3 579.7,150.5 580.0,149.8 580.4,148.5 580.7,149.7 581.0,153.4 581.3,153.4 581.6,151.5 581.9,151.3 582.3,149.9 582.6,149.9 582.9,150.6 583.2,152.5 583.5,152.6 583.8,149.0 584.1,149.3 584.5,151.6 584.8,152.5 585.1,150.8 585.4,152.2 585.7,154.6 586.0,153.1 586.3,152.2 586.7,153.4 587.0,154.1 587.3,154.0 587.6,154.3 587.9,154.3 588.2,155.9 588.5,155.9 588.9,153.6 589.2,154.8 589.5,156.2 589.8,154.4 590.1,155.5 590.4,156.1 590.7,156.2 591.1,155.2 591.4,151.3 591.7,150.3 592.0,153.4 592.3,155.0 592.6,154.7 592.9,155.5 593.3,153.9 593.6,155.6 593.9,156.3 594.2,154.8 594.5,154.5 594.8,154.3 595.1,156.8 595.5,156.8 595.8,155.2 596.1,155.5 596.4,155.9 596.7,156.6 597.0,159.7 597.3,158.1 597.7,154.8 598.0,155.7 598.3,156.5 598.6,155.5 598.9,156.2 599.2,158.3 599.5,158.1 599.9,155.8 600.2,157.3 600.5,157.4 600.8,156.5 601.1,153.2 601.4,144.9 601.7,137.6 602.1,134.6 602.4,128.9 602.7,120.2 603.0,112.3 603.3,107.9 603.6,102.8 603.9,95.4 604.3,100.0 604.6,103.6 604.9,105.8 605.2,109.7 605.5,112.8 605.8,114.5 606.1,116.1 606.5,118.9 606.8,121.5 607.1,121.3 607.4,122.3 607.7,124.1 608.0,124.5 608.3,126.3 608.7,126.3 609.0,129.3 609.3,132.2 609.6,132.7 609.9,132.5 610.2,131.1 610.5,136.5 610.9,140.6 611.2,138.3 611.5,137.0 611.8,137.6 612.1,139.3 612.4,140.3 612.7,140.1 613.1,141.3 613.4,141.5 613.7,144.6 614.0,145.6 614.3,144.6 614.6,144.7 614.9,144.2 615.3,146.8 615.6,146.5 615.9,146.9 616.2,148.8 616.5,149.9 616.8,149.2 617.1,147.1 617.5,146.2 617.8,147.2 618.1,147.5 618.4,147.6 618.7,149.2 619.0,148.8 619.3,147.7 619.7,149.0 620.0,150.8 620.3,150.8 620.6,150.6 620.9,151.7 621.2,150.7 621.6,150.3 621.9,151.2 622.2,151.9 622.5,152.2 622.8,150.9 623.1,152.0 623.4,150.2 623.8,149.5 624.1,149.9 624.4,149.3 624.7,152.4 625.0,154.1 625.3,152.9 625.6,152.5 626.0,153.1 626.3,153.7 626.6,156.0 626.9,156.0 627.2,156.6 627.5,156.0 627.8,154.4 628.2,155.8 628.5,155.3 628.8,154.2 629.1,155.7 629.4,158.2 629.7,157.9 630.0,158.3 630.4,158.3 630.7,154.1 631.0,154.2 631.3,155.4 631.6,155.9 631.9,156.4 632.2,155.2 632.6,155.7 632.9,154.7 633.2,152.6 633.5,153.2 633.8,155.2 634.1,156.6 634.4,156.1 634.8,155.3 635.1,155.1 635.4,154.9 635.7,153.9 636.0,156.3 636.3,158.7 636.6,155.4 637.0,155.5 637.3,157.5 637.6,157.5 637.9,158.2 638.2,157.8 638.5,153.3 638.8,152.2 639.2,156.4 639.5,158.9 639.8,158.1 640.1,155.9 640.4,150.4 640.7,146.4 641.0,138.4 641.4,130.6 641.7,126.1 642.0,122.4 642.3,117.8 642.6,111.3 642.9,106.2 643.2,98.5 643.6,100.1 643.9,103.7 644.2,103.8 644.5,105.9 644.8,112.1 645.1,115.0 645.4,114.6 645.8,118.7 646.1,123.2 646.4,124.4 646.7,126.9 647.0,126.7 647.3,129.2 647.6,133.8 648.0,132.6 648.3,132.9 648.6,133.6 648.9,134.1 649.2,135.7 649.5,135.7 649.8,138.9 650.2,141.2 650.5,140.3 650.8,141.0 651.1,140.7 651.4,142.6 651.7,144.3 652.0,143.0 652.4,142.4 652.7,144.7 653.0,143.3 653.3,140.3 653.6,144.9 653.9,147.8 654.2,143.6 654.6,143.4 654.9,146.6 655.2,148.1 655.5,149.4 655.8,149.8 656.1,150.2 656.4,149.4 656.8,149.5 657.1,151.2 657.4,152.5 657.7,152.3 658.0,152.2 658.3,152.6 658.6,150.6 659.0,150.2 659.3,151.1 659.6,151.3 659.9,152.1 660.2,152.9 660.5,153.5 660.9,152.7 661.2,153.8 661.5,153.3 661.8,152.1 662.1,154.8 662.4,155.6 662.7,155.6 663.1,155.0 663.4,155.2 663.7,154.2 664.0,154.5 664.3,158.6 664.6,158.7 664.9,158.5 665.3,157.9 665.6,154.3 665.9,153.7 666.2,156.6 666.5,158.4 666.8,154.8 667.1,153.7 667.5,155.9 667.8,155.1 668.1,152.3 668.4,152.1 668.7,155.0 669.0,156.2 669.3,155.7 669.7,156.9 670.0,159.0 670.3,158.3 670.6,158.3 670.9,158.5 671.2,157.3 671.5,154.6 671.9,155.7 672.2,158.7 672.5,158.0 672.8,157.4 673.1,156.0 673.4,157.2 673.7,159.5 674.1,160.9 674.4,161.1 674.7,158.6 675.0,157.5 675.3,159.4 675.6,159.9 675.9,158.8 676.3,157.8 676.6,158.6 676.9,159.5 677.2,161.0 677.5,162.1 677.8,158.1 678.1,159.4 678.5,161.8 678.8,158.9 679.1,159.0 679.4,160.3" fill="none" stroke="#3a3a3a" stroke-width="1.5" stroke-linejoin="round" />
<line x1="443.6" y1="7.0" x2="443.6" y2="170.4" stroke="#4d4d4d" stroke-width="1"/>
<line x1="439.0" y1="7.75" x2="443.6" y2="7.75" stroke="#4d4d4d" stroke-width="1"/>
<text x="434.3" y="11.2" font-size="9.8" text-anchor="end" font-weight="normal" fill="#231f20" >2.5</text>
<line x1="439.0" y1="37.400000000000006" x2="443.6" y2="37.400000000000006" stroke="#4d4d4d" stroke-width="1"/>
<text x="434.3" y="40.9" font-size="9.8" text-anchor="end" font-weight="normal" fill="#231f20" >2.0</text>
<line x1="439.0" y1="67.05000000000001" x2="443.6" y2="67.05000000000001" stroke="#4d4d4d" stroke-width="1"/>
<text x="434.3" y="70.6" font-size="9.8" text-anchor="end" font-weight="normal" fill="#231f20" >1.5</text>
<line x1="439.0" y1="96.7" x2="443.6" y2="96.7" stroke="#4d4d4d" stroke-width="1"/>
<text x="434.3" y="100.2" font-size="9.8" text-anchor="end" font-weight="normal" fill="#231f20" >1.0</text>
<line x1="439.0" y1="126.35" x2="443.6" y2="126.35" stroke="#4d4d4d" stroke-width="1"/>
<text x="434.3" y="129.8" font-size="9.8" text-anchor="end" font-weight="normal" fill="#231f20" >0.5</text>
<line x1="439.0" y1="156.0" x2="443.6" y2="156.0" stroke="#4d4d4d" stroke-width="1"/>
<text x="434.3" y="159.5" font-size="9.8" text-anchor="end" font-weight="normal" fill="#231f20" >0</text>
<line x1="443.6" y1="170.4" x2="679.4" y2="170.4" stroke="#4d4d4d" stroke-width="1"/>
<line x1="443.6" y1="170.4" x2="443.6" y2="175.0" stroke="#4d4d4d" stroke-width="1"/>
<text x="443.6" y="187.9" font-size="9.8" text-anchor="middle" font-weight="normal" fill="#231f20" >0</text>
<line x1="482.90000000000003" y1="170.4" x2="482.90000000000003" y2="175.0" stroke="#4d4d4d" stroke-width="1"/>
<text x="482.9" y="187.9" font-size="9.8" text-anchor="middle" font-weight="normal" fill="#231f20" >1</text>
<line x1="522.2" y1="170.4" x2="522.2" y2="175.0" stroke="#4d4d4d" stroke-width="1"/>
<text x="522.2" y="187.9" font-size="9.8" text-anchor="middle" font-weight="normal" fill="#231f20" >2</text>
<line x1="561.5" y1="170.4" x2="561.5" y2="175.0" stroke="#4d4d4d" stroke-width="1"/>
<text x="561.5" y="187.9" font-size="9.8" text-anchor="middle" font-weight="normal" fill="#231f20" >3</text>
<line x1="600.8" y1="170.4" x2="600.8" y2="175.0" stroke="#4d4d4d" stroke-width="1"/>
<text x="600.8" y="187.9" font-size="9.8" text-anchor="middle" font-weight="normal" fill="#231f20" >4</text>
<line x1="640.1" y1="170.4" x2="640.1" y2="175.0" stroke="#4d4d4d" stroke-width="1"/>
<text x="640.1" y="187.9" font-size="9.8" text-anchor="middle" font-weight="normal" fill="#231f20" >5</text>
<line x1="679.4" y1="170.4" x2="679.4" y2="175.0" stroke="#4d4d4d" stroke-width="1"/>
<text x="679.4" y="187.9" font-size="9.8" text-anchor="middle" font-weight="normal" fill="#231f20" >6</text>
<text transform="translate(414.2,89) rotate(-90)" font-size="11.5" text-anchor="middle" fill="#231f20">Δ<tspan font-style="italic">F</tspan>/<tspan font-style="italic">F</tspan><tspan font-size="7.6" dy="2.6">max</tspan></text>
<text x="562.2" y="202.8" font-size="11.1" text-anchor="middle" font-weight="normal" fill="#231f20" >Time (min)</text>
<line x1="451.6" y1="13.6" x2="462.6" y2="13.6" stroke="#ff0000" stroke-width="1.6"/>
<line x1="451.6" y1="31" x2="462.6" y2="31" stroke="#111" stroke-width="1.9"/>
<text x="468" y="17" font-size="11.2" text-anchor="start" font-weight="normal" fill="#231f20" >No fuel</text>
<text x="468" y="35" font-size="11.2" text-anchor="start" font-weight="normal" fill="#231f20" >KLH45-induced</text>
<text x="507.2" y="138" font-size="11" text-anchor="start" font-weight="normal" fill="#231f20" >ns</text>
<path d="M633.15,85.75 L632.55,92.65 M635.05,85.75 L634.45,92.65 M631.45,88.15 L636.15,88.15 M631.45,90.25 L636.15,90.25 " stroke="#231f20" stroke-width="0.95" fill="none"/>
<polygon points="674.50,29.70 675.21,31.58 677.21,31.67 675.64,32.92 676.18,34.86 674.50,33.75 672.82,34.86 673.36,32.92 671.79,31.67 673.79,31.58" fill="#231f20"/>
<text x="440" y="226.2" font-size="11.2" text-anchor="end" font-weight="normal" fill="#231f20" >No fuel</text>
<text x="440" y="244.3" font-size="11.2" text-anchor="end" font-weight="normal" fill="#231f20" >KLH45-induced</text>
<text x="440" y="255.6" font-size="11.2" text-anchor="end" font-weight="normal" fill="#231f20" >(no fuel)</text>
<text x="43.4" y="205.6" font-size="17" text-anchor="start" font-weight="bold" fill="#000" >c</text>
<polygon points="99.6,337.5 99.9,338.4 100.2,339.4 100.5,338.0 100.8,337.5 101.1,338.3 101.5,338.0 101.8,338.2 102.1,338.3 102.4,338.8 102.7,339.1 103.0,338.3 103.3,337.8 103.6,337.1 103.9,337.7 104.2,337.4 104.5,337.2 104.8,338.9 105.2,339.7 105.5,338.0 105.8,336.9 106.1,337.9 106.4,338.2 106.7,338.4 107.0,337.4 107.3,336.9 107.6,336.7 107.9,336.7 108.2,338.6 108.5,338.1 108.9,337.2 109.2,337.7 109.5,336.8 109.8,336.8 110.1,336.9 110.4,336.8 110.7,337.7 111.0,337.4 111.3,337.3 111.6,337.0 111.9,336.2 112.2,336.7 112.6,336.9 112.9,336.6 113.2,337.0 113.5,336.8 113.8,336.8 114.1,336.9 114.4,337.2 114.7,337.4 115.0,336.8 115.3,337.2 115.6,337.5 115.9,337.4 116.3,336.9 116.6,336.9 116.9,337.0 117.2,336.0 117.5,336.0 117.8,337.4 118.1,337.5 118.4,336.3 118.7,336.4 119.0,336.4 119.3,335.9 119.6,336.2 120.0,336.6 120.3,337.0 120.6,337.0 120.9,336.7 121.2,336.4 121.5,336.2 121.8,336.5 122.1,336.7 122.4,336.3 122.7,337.1 123.0,337.6 123.3,337.2 123.7,336.9 124.0,336.7 124.3,336.7 124.6,336.9 124.9,336.5 125.2,335.9 125.5,337.0 125.8,337.1 126.1,336.8 126.4,336.0 126.7,335.7 127.0,336.6 127.4,336.4 127.7,336.3 128.0,336.3 128.3,335.5 128.6,335.3 128.9,335.6 129.2,335.2 129.5,336.0 129.8,335.7 130.1,334.9 130.4,335.3 130.7,336.0 131.1,336.0 131.4,335.4 131.7,336.0 132.0,335.1 132.3,334.6 132.6,335.7 132.9,335.9 133.2,335.3 133.5,334.9 133.8,335.0 134.1,334.9 134.4,334.5 134.8,335.6 135.1,336.5 135.4,336.4 135.7,336.1 136.0,334.9 136.3,334.7 136.6,335.8 136.9,336.2 137.2,335.2 137.5,335.3 137.8,335.8 138.1,332.3 138.5,327.1 138.8,320.8 139.1,313.7 139.4,307.7 139.7,302.2 140.0,296.8 140.3,290.5 140.6,284.0 140.9,277.6 141.2,271.6 141.5,273.0 141.9,274.6 142.2,277.8 142.5,280.7 142.8,281.4 143.1,282.9 143.4,284.7 143.7,285.4 144.0,287.8 144.3,290.0 144.6,291.1 144.9,292.6 145.2,294.3 145.6,295.2 145.9,295.5 146.2,296.5 146.5,298.0 146.8,299.0 147.1,300.4 147.4,300.3 147.7,301.6 148.0,303.4 148.3,302.8 148.6,303.8 148.9,304.5 149.3,303.9 149.6,305.2 149.9,306.3 150.2,307.0 150.5,307.4 150.8,307.3 151.1,308.0 151.4,307.9 151.7,308.2 152.0,308.7 152.3,309.0 152.6,310.6 153.0,311.2 153.3,310.8 153.6,311.9 153.9,311.9 154.2,311.5 154.5,312.3 154.8,313.1 155.1,313.5 155.4,313.3 155.7,313.7 156.0,314.1 156.3,315.2 156.7,314.9 157.0,314.6 157.3,316.5 157.6,316.7 157.9,316.3 158.2,315.8 158.5,316.1 158.8,316.4 159.1,316.6 159.4,315.9 159.7,315.4 160.0,315.7 160.4,316.6 160.7,317.3 161.0,317.5 161.3,317.7 161.6,317.1 161.9,318.2 162.2,319.2 162.5,319.2 162.8,319.5 163.1,319.4 163.4,319.3 163.7,319.8 164.1,319.4 164.4,318.6 164.7,319.4 165.0,320.0 165.3,319.5 165.6,319.4 165.9,319.9 166.2,319.5 166.5,318.9 166.8,319.0 167.1,319.6 167.4,319.1 167.8,318.3 168.1,319.5 168.4,320.4 168.7,319.8 169.0,320.2 169.3,320.6 169.6,320.3 169.9,320.9 170.2,321.1 170.5,321.6 170.8,321.8 171.1,322.1 171.5,320.8 171.8,319.2 172.1,319.8 172.4,320.4 172.7,320.6 173.0,320.2 173.3,320.2 173.6,320.5 173.9,321.4 174.2,321.7 174.5,321.6 174.8,322.4 175.2,322.7 175.5,322.0 175.8,321.0 176.1,321.9 176.4,321.6 176.7,319.1 177.0,313.8 177.3,308.4 177.6,301.9 177.9,294.9 178.2,288.7 178.6,283.4 178.9,276.7 179.2,270.9 179.5,264.6 179.8,256.8 180.1,258.6 180.4,260.5 180.7,262.1 181.0,263.7 181.3,265.4 181.6,267.6 181.9,269.1 182.3,270.0 182.6,270.6 182.9,271.0 183.2,272.5 183.5,274.6 183.8,276.2 184.1,276.9 184.4,276.8 184.7,277.5 185.0,279.0 185.3,280.3 185.6,280.7 186.0,280.9 186.3,282.1 186.6,282.9 186.9,282.7 187.2,283.5 187.5,284.1 187.8,284.0 188.1,285.3 188.4,286.1 188.7,286.7 189.0,288.0 189.3,288.5 189.7,289.0 190.0,289.1 190.3,289.1 190.6,289.5 190.9,289.6 191.2,291.7 191.5,292.3 191.8,292.1 192.1,292.5 192.4,292.5 192.7,292.8 193.0,292.1 193.4,293.3 193.7,294.2 194.0,293.7 194.3,295.0 194.6,295.0 194.9,294.4 195.2,295.2 195.5,295.8 195.8,294.3 196.1,294.4 196.4,297.0 196.7,297.5 197.1,297.1 197.4,297.1 197.7,297.2 198.0,297.7 198.3,297.7 198.6,297.6 198.9,298.7 199.2,299.1 199.5,298.9 199.8,298.3 200.1,298.1 200.4,298.8 200.8,299.2 201.1,299.2 201.4,298.4 201.7,299.0 202.0,299.9 202.3,299.4 202.6,300.3 202.9,300.7 203.2,300.3 203.5,300.8 203.8,300.8 204.1,300.2 204.5,300.1 204.8,300.9 205.1,301.5 205.4,300.4 205.7,301.2 206.0,302.3 206.3,301.5 206.6,301.7 206.9,301.9 207.2,302.0 207.5,302.1 207.8,301.7 208.2,302.3 208.5,303.0 208.8,303.0 209.1,303.4 209.4,303.5 209.7,304.0 210.0,303.7 210.3,302.5 210.6,302.2 210.9,302.5 211.2,303.9 211.5,303.8 211.9,303.8 212.2,304.7 212.5,303.6 212.8,304.2 213.1,304.7 213.4,304.2 213.7,304.8 214.0,305.4 214.3,305.2 214.6,305.1 214.9,304.9 215.2,302.4 215.6,298.1 215.9,293.5 216.2,287.6 216.5,282.5 216.8,277.5 217.1,271.5 217.4,265.7 217.7,261.0 218.0,255.8 218.3,249.4 218.6,250.9 219.0,252.7 219.3,252.4 219.6,252.3 219.9,254.6 220.2,256.7 220.5,256.5 220.8,257.2 221.1,258.1 221.4,258.4 221.7,258.7 222.0,260.2 222.3,262.1 222.7,262.0 223.0,261.1 223.3,261.1 223.6,262.8 223.9,263.0 224.2,262.4 224.5,263.2 224.8,264.1 225.1,264.2 225.4,263.9 225.7,264.5 226.0,265.2 226.4,265.7 226.7,266.5 227.0,267.3 227.3,267.4 227.6,267.5 227.9,268.1 228.2,267.9 228.5,267.9 228.8,268.3 229.1,269.6 229.4,270.1 229.7,270.0 230.1,270.9 230.4,271.4 230.7,270.8 231.0,270.3 231.3,271.5 231.6,272.7 231.9,272.7 232.2,272.7 232.5,272.2 232.8,272.9 233.1,274.9 233.4,274.6 233.8,274.0 234.1,274.1 234.4,274.0 234.7,273.4 235.0,274.1 235.3,275.6 235.6,276.5 235.9,276.4 236.2,275.4 236.5,275.9 236.8,276.0 237.1,276.1 237.5,276.2 237.8,276.3 238.1,277.7 238.4,278.4 238.7,278.8 239.0,279.5 239.3,278.9 239.6,277.9 239.9,277.3 240.2,278.0 240.5,279.2 240.8,279.9 241.2,279.5 241.5,279.0 241.8,279.9 242.1,280.0 242.4,279.6 242.7,281.0 243.0,281.1 243.3,280.3 243.6,281.0 243.9,281.5 244.2,280.6 244.5,279.9 244.9,280.0 245.2,281.4 245.5,282.7 245.8,281.9 246.1,282.4 246.4,283.3 246.7,283.7 247.0,282.6 247.3,281.5 247.6,282.2 247.9,282.8 248.2,283.3 248.6,283.7 248.9,283.4 249.2,283.7 249.5,283.5 249.8,283.6 250.1,284.7 250.4,284.0 250.7,283.7 251.0,284.2 251.3,284.5 251.6,285.9 251.9,285.6 252.3,285.2 252.6,285.1 252.9,285.3 253.2,286.8 253.5,286.0 253.8,282.0 254.1,278.3 254.4,275.4 254.7,271.3 255.0,267.7 255.3,264.6 255.7,260.5 256.0,256.8 256.3,252.3 256.6,248.6 256.9,245.1 257.2,245.6 257.5,247.6 257.8,249.4 258.1,249.5 258.4,249.9 258.7,250.1 259.0,251.3 259.4,251.5 259.7,250.7 260.0,251.5 260.3,252.8 260.6,253.0 260.9,252.8 261.2,252.8 261.5,252.8 261.8,252.9 262.1,253.3 262.4,253.1 262.7,254.1 263.1,255.4 263.4,254.3 263.7,254.6 264.0,254.7 264.3,254.6 264.6,255.1 264.9,255.0 265.2,255.4 265.5,255.0 265.8,254.9 266.1,255.3 266.4,254.4 266.8,254.3 267.1,255.8 267.4,255.5 267.7,254.7 268.0,254.7 268.3,254.3 268.6,255.4 268.9,255.9 269.2,255.0 269.5,255.6 269.8,256.1 270.1,257.5 270.5,258.0 270.8,255.8 271.1,256.5 271.4,257.7 271.7,256.8 272.0,256.3 272.3,255.8 272.6,256.9 272.9,257.8 273.2,256.6 273.5,257.3 273.8,257.8 274.2,256.4 274.5,255.8 274.8,256.5 275.1,258.4 275.4,258.8 275.7,257.5 276.0,257.6 276.3,257.9 276.6,256.4 276.9,256.5 277.2,258.5 277.5,258.3 277.9,258.1 278.2,258.4 278.5,258.4 278.8,257.9 279.1,257.8 279.4,258.8 279.7,259.1 280.0,258.3 280.3,258.6 280.6,258.3 280.9,257.8 281.2,258.8 281.6,259.1 281.9,257.8 282.2,257.3 282.5,258.3 282.8,258.6 283.1,259.0 283.4,260.1 283.7,259.6 284.0,258.9 284.3,258.9 284.6,259.1 284.9,259.2 285.3,259.5 285.6,259.5 285.9,258.9 286.2,259.2 286.5,259.3 286.8,260.1 287.1,260.9 287.4,259.5 287.7,258.3 288.0,258.9 288.3,259.9 288.6,260.6 289.0,260.4 289.3,259.5 289.6,260.4 289.9,260.6 290.2,259.7 290.5,259.8 290.8,260.6 291.1,260.6 291.4,260.8 291.7,260.4 292.0,259.7 292.4,256.4 292.7,254.0 293.0,251.1 293.3,250.2 293.6,247.8 293.9,246.2 294.2,245.2 294.5,242.4 294.8,241.7 295.1,240.0 295.4,237.1 295.7,238.1 296.1,238.9 296.4,239.1 296.7,239.5 297.0,240.4 297.3,240.4 297.6,240.7 297.9,240.0 298.2,240.3 298.5,241.6 298.8,241.3 299.1,241.1 299.4,240.7 299.8,240.5 300.1,241.1 300.4,241.8 300.7,241.7 301.0,241.3 301.3,241.1 301.6,241.8 301.9,243.1 302.2,242.0 302.5,240.6 302.8,241.6 303.1,241.9 303.5,242.3 303.8,243.0 304.1,242.9 304.4,242.6 304.7,242.8 305.0,243.4 305.3,243.3 305.6,242.4 305.9,242.5 306.2,242.8 306.5,243.6 306.8,243.7 307.2,242.8 307.5,243.3 307.8,244.1 308.1,243.4 308.4,243.0 308.7,242.9 309.0,242.8 309.3,242.7 309.6,242.7 309.9,243.7 310.2,243.6 310.5,243.1 310.9,242.8 311.2,242.8 311.5,243.3 311.8,242.7 312.1,242.0 312.4,242.1 312.7,242.2 313.0,242.3 313.3,242.5 313.6,242.3 313.9,242.5 314.2,242.9 314.6,243.0 314.9,241.9 315.2,242.0 315.5,243.2 315.8,243.4 316.1,243.3 316.4,243.1 316.7,243.6 317.0,244.6 317.3,244.0 317.6,243.8 317.9,243.8 318.3,243.0 318.6,242.6 318.9,241.9 319.2,242.3 319.5,243.3 319.8,244.1 320.1,244.2 320.4,243.6 320.7,244.2 321.0,244.2 321.3,243.3 321.6,243.0 322.0,243.2 322.3,243.4 322.6,243.6 322.9,243.9 323.2,244.4 323.5,244.1 323.8,242.6 324.1,242.6 324.4,243.1 324.7,243.7 325.0,243.2 325.3,243.1 325.7,243.4 326.0,243.0 326.3,243.8 326.6,243.4 326.9,242.9 327.2,243.3 327.5,243.1 327.8,243.2 328.1,243.6 328.4,243.4 328.7,243.4 329.0,243.6 329.4,243.7 329.7,244.5 330.0,244.5 330.3,244.0 330.6,243.7 330.9,242.9 330.9,273.2 330.6,273.5 330.3,272.6 330.0,272.1 329.7,271.7 329.4,271.9 329.0,272.0 328.7,272.5 328.4,273.2 328.1,272.6 327.8,272.8 327.5,273.0 327.2,272.1 326.9,272.5 326.6,273.2 326.3,273.5 326.0,273.0 325.7,272.6 325.3,273.4 325.0,273.6 324.7,273.8 324.4,273.5 324.1,273.3 323.8,273.1 323.5,272.3 323.2,272.2 322.9,272.4 322.6,273.2 322.3,273.7 322.0,272.6 321.6,272.1 321.3,272.9 321.0,272.8 320.7,271.9 320.4,272.0 320.1,272.6 319.8,272.8 319.5,271.9 319.2,271.4 318.9,272.3 318.6,273.5 318.3,273.3 317.9,272.8 317.6,272.6 317.3,272.1 317.0,272.8 316.7,273.5 316.4,271.6 316.1,270.7 315.8,272.6 315.5,273.8 315.2,273.6 314.9,272.8 314.6,272.0 314.2,271.9 313.9,272.1 313.6,272.4 313.3,272.5 313.0,272.7 312.7,273.3 312.4,272.9 312.1,272.1 311.8,272.6 311.5,273.2 311.2,272.1 310.9,272.1 310.5,272.3 310.2,271.6 309.9,272.3 309.6,273.3 309.3,272.2 309.0,270.8 308.7,271.4 308.4,273.1 308.1,272.4 307.8,271.8 307.5,272.0 307.2,270.3 306.8,269.9 306.5,271.2 306.2,272.4 305.9,272.1 305.6,271.9 305.3,272.1 305.0,270.8 304.7,270.2 304.4,271.0 304.1,271.3 303.8,271.1 303.5,270.9 303.1,270.9 302.8,270.0 302.5,270.1 302.2,271.0 301.9,270.0 301.6,269.1 301.3,269.6 301.0,268.8 300.7,267.9 300.4,268.8 300.1,269.2 299.8,269.7 299.4,269.9 299.1,268.8 298.8,268.8 298.5,268.0 298.2,267.6 297.9,268.1 297.6,266.7 297.3,265.5 297.0,265.9 296.7,266.1 296.4,265.2 296.1,263.7 295.7,262.7 295.4,262.6 295.1,264.7 294.8,266.3 294.5,269.0 294.2,271.5 293.9,274.6 293.6,277.0 293.3,278.0 293.0,280.6 292.7,282.8 292.4,285.6 292.0,281.2 291.7,280.8 291.4,281.3 291.1,280.6 290.8,281.6 290.5,281.7 290.2,280.1 289.9,280.1 289.6,280.9 289.3,280.8 289.0,280.5 288.6,280.4 288.3,280.5 288.0,281.2 287.7,280.4 287.4,280.5 287.1,281.5 286.8,280.6 286.5,279.6 286.2,280.9 285.9,280.5 285.6,279.4 285.3,279.6 284.9,279.7 284.6,280.2 284.3,279.7 284.0,279.7 283.7,280.7 283.4,280.3 283.1,279.8 282.8,279.3 282.5,279.2 282.2,279.3 281.9,278.9 281.6,278.5 281.2,278.8 280.9,279.4 280.6,278.5 280.3,277.6 280.0,277.1 279.7,278.5 279.4,279.2 279.1,279.1 278.8,279.5 278.5,279.2 278.2,279.2 277.9,278.8 277.5,278.6 277.2,278.5 276.9,277.8 276.6,277.5 276.3,278.1 276.0,277.1 275.7,276.6 275.4,277.1 275.1,276.9 274.8,277.2 274.5,277.7 274.2,278.5 273.8,277.4 273.5,276.9 273.2,277.6 272.9,277.7 272.6,278.3 272.3,276.9 272.0,276.4 271.7,276.8 271.4,276.5 271.1,276.6 270.8,275.3 270.5,276.1 270.1,277.4 269.8,276.3 269.5,276.7 269.2,277.5 268.9,276.9 268.6,276.5 268.3,277.1 268.0,277.4 267.7,276.2 267.4,275.6 267.1,275.0 266.8,274.3 266.4,274.6 266.1,275.3 265.8,275.6 265.5,275.5 265.2,274.9 264.9,274.3 264.6,274.1 264.3,274.3 264.0,274.1 263.7,274.2 263.4,273.9 263.1,273.5 262.7,273.9 262.4,273.5 262.1,273.6 261.8,273.6 261.5,272.9 261.2,272.9 260.9,272.5 260.6,271.5 260.3,271.2 260.0,271.9 259.7,270.7 259.4,269.8 259.0,270.4 258.7,269.3 258.4,268.6 258.1,267.8 257.8,266.7 257.5,265.0 257.2,263.7 256.9,263.1 256.6,267.2 256.3,272.1 256.0,276.8 255.7,280.3 255.3,283.6 255.0,287.9 254.7,291.7 254.4,295.7 254.1,300.4 253.8,304.6 253.5,301.0 253.2,301.4 252.9,301.9 252.6,300.5 252.3,300.0 251.9,299.9 251.6,299.4 251.3,299.3 251.0,299.6 250.7,299.8 250.4,299.9 250.1,299.5 249.8,298.6 249.5,298.7 249.2,299.1 248.9,298.7 248.6,298.2 248.2,298.0 247.9,297.8 247.6,297.8 247.3,297.3 247.0,297.5 246.7,297.0 246.4,296.6 246.1,297.1 245.8,296.3 245.5,296.2 245.2,297.2 244.9,297.0 244.5,296.7 244.2,296.7 243.9,296.5 243.6,294.9 243.3,294.8 243.0,295.3 242.7,294.0 242.4,294.5 242.1,294.3 241.8,293.2 241.5,294.2 241.2,295.1 240.8,294.1 240.5,293.9 240.2,295.1 239.9,294.5 239.6,293.5 239.3,294.2 239.0,293.9 238.7,292.5 238.4,291.7 238.1,291.7 237.8,291.9 237.5,291.6 237.1,291.3 236.8,291.1 236.5,290.5 236.2,290.3 235.9,290.5 235.6,290.6 235.3,291.0 235.0,290.8 234.7,290.1 234.4,288.4 234.1,288.2 233.8,288.7 233.4,288.7 233.1,288.2 232.8,287.9 232.5,288.6 232.2,287.8 231.9,287.8 231.6,287.4 231.3,285.8 231.0,286.1 230.7,286.3 230.4,284.8 230.1,284.7 229.7,284.6 229.4,284.0 229.1,284.1 228.8,283.6 228.5,283.0 228.2,282.8 227.9,282.9 227.6,282.0 227.3,281.9 227.0,282.6 226.7,282.7 226.4,281.1 226.0,279.2 225.7,280.0 225.4,279.1 225.1,277.9 224.8,278.9 224.5,278.2 224.2,277.4 223.9,276.7 223.6,275.9 223.3,276.6 223.0,276.5 222.7,275.9 222.3,275.0 222.0,273.2 221.7,273.1 221.4,273.0 221.1,272.5 220.8,272.3 220.5,271.9 220.2,271.2 219.9,269.1 219.6,267.9 219.3,267.8 219.0,266.5 218.6,264.7 218.3,264.1 218.0,270.8 217.7,275.4 217.4,279.6 217.1,285.7 216.8,291.1 216.5,296.5 216.2,301.6 215.9,306.6 215.6,312.4 215.2,318.3 214.9,316.9 214.6,317.0 214.3,316.8 214.0,316.3 213.7,316.0 213.4,316.4 213.1,316.9 212.8,316.4 212.5,315.0 212.2,315.0 211.9,314.8 211.5,314.4 211.2,315.1 210.9,314.9 210.6,314.3 210.3,315.4 210.0,315.7 209.7,314.6 209.4,313.8 209.1,313.4 208.8,313.3 208.5,313.8 208.2,314.3 207.8,314.3 207.5,313.8 207.2,313.5 206.9,313.4 206.6,313.5 206.3,312.8 206.0,313.3 205.7,313.4 205.4,313.2 205.1,314.1 204.8,313.1 204.5,312.5 204.1,312.5 203.8,311.9 203.5,311.2 203.2,311.6 202.9,311.0 202.6,310.4 202.3,310.7 202.0,310.7 201.7,310.5 201.4,310.2 201.1,309.9 200.8,309.8 200.4,309.9 200.1,310.4 199.8,309.8 199.5,309.4 199.2,309.7 198.9,308.5 198.6,308.7 198.3,309.2 198.0,308.9 197.7,308.5 197.4,307.9 197.1,308.4 196.7,307.5 196.4,306.5 196.1,307.7 195.8,307.6 195.5,306.2 195.2,305.8 194.9,306.5 194.6,305.9 194.3,304.4 194.0,305.0 193.7,304.9 193.4,304.6 193.0,304.9 192.7,304.4 192.4,304.6 192.1,304.2 191.8,302.9 191.5,302.7 191.2,302.7 190.9,301.9 190.6,301.6 190.3,301.1 190.0,299.8 189.7,300.2 189.3,300.3 189.0,299.2 188.7,299.3 188.4,300.2 188.1,298.8 187.8,296.3 187.5,295.6 187.2,295.2 186.9,295.2 186.6,295.1 186.3,294.4 186.0,293.2 185.6,292.6 185.3,292.2 185.0,291.4 184.7,290.7 184.4,290.5 184.1,290.2 183.8,288.0 183.5,286.7 183.2,286.2 182.9,284.0 182.6,282.4 182.3,282.4 181.9,281.4 181.6,279.3 181.3,277.3 181.0,276.7 180.7,275.6 180.4,273.2 180.1,271.7 179.8,269.3 179.5,275.5 179.2,282.0 178.9,287.3 178.6,293.7 178.2,300.9 177.9,307.8 177.6,313.7 177.3,318.8 177.0,324.7 176.7,331.2 176.4,330.3 176.1,330.2 175.8,329.7 175.5,330.2 175.2,330.6 174.8,329.6 174.5,329.6 174.2,329.7 173.9,330.2 173.6,330.0 173.3,330.1 173.0,330.4 172.7,329.6 172.4,329.6 172.1,329.3 171.8,329.2 171.5,329.2 171.1,328.9 170.8,329.0 170.5,329.4 170.2,329.3 169.9,329.4 169.6,330.1 169.3,329.9 169.0,329.1 168.7,328.6 168.4,327.8 168.1,327.8 167.8,328.4 167.4,328.7 167.1,328.2 166.8,327.4 166.5,328.6 166.2,328.9 165.9,327.9 165.6,327.9 165.3,327.3 165.0,327.0 164.7,326.7 164.4,327.5 164.1,328.0 163.7,327.8 163.4,326.4 163.1,326.2 162.8,326.9 162.5,325.7 162.2,325.4 161.9,326.1 161.6,327.3 161.3,327.1 161.0,325.9 160.7,326.2 160.4,326.3 160.0,324.4 159.7,323.7 159.4,324.3 159.1,326.1 158.8,325.5 158.5,323.6 158.2,323.3 157.9,323.4 157.6,323.9 157.3,323.7 157.0,323.3 156.7,322.2 156.3,322.3 156.0,323.1 155.7,322.5 155.4,322.2 155.1,322.1 154.8,322.1 154.5,321.3 154.2,319.4 153.9,319.3 153.6,319.9 153.3,319.5 153.0,319.3 152.6,319.3 152.3,319.6 152.0,318.9 151.7,318.4 151.4,317.9 151.1,316.8 150.8,316.4 150.5,315.4 150.2,315.4 149.9,315.3 149.6,314.0 149.3,313.2 148.9,313.3 148.6,312.0 148.3,310.2 148.0,310.1 147.7,309.3 147.4,308.1 147.1,306.8 146.8,306.2 146.5,305.5 146.2,304.5 145.9,302.8 145.6,301.5 145.2,301.2 144.9,299.2 144.6,298.9 144.3,298.8 144.0,296.8 143.7,295.1 143.4,293.3 143.1,291.9 142.8,289.6 142.5,288.1 142.2,286.6 141.9,284.2 141.5,281.8 141.2,278.7 140.9,285.1 140.6,292.0 140.3,298.4 140.0,304.1 139.7,310.3 139.4,316.8 139.1,321.9 138.8,327.2 138.5,334.5 138.1,341.5 137.8,338.9 137.5,338.9 137.2,337.7 136.9,337.4 136.6,337.2 136.3,337.5 136.0,339.3 135.7,339.2 135.4,338.8 135.1,338.9 134.8,338.0 134.4,337.2 134.1,336.9 133.8,336.8 133.5,337.2 133.2,338.5 132.9,339.4 132.6,339.6 132.3,339.1 132.0,338.7 131.7,338.5 131.4,338.7 131.1,338.8 130.7,338.8 130.4,337.7 130.1,338.1 129.8,339.8 129.5,339.4 129.2,338.6 128.9,338.7 128.6,338.7 128.3,337.3 128.0,337.1 127.7,337.4 127.4,337.1 127.0,338.2 126.7,338.3 126.4,337.9 126.1,339.4 125.8,338.9 125.5,339.0 125.2,340.8 124.9,340.7 124.6,339.7 124.3,339.2 124.0,338.9 123.7,338.5 123.3,338.8 123.0,339.0 122.7,338.8 122.4,339.4 122.1,339.8 121.8,339.4 121.5,339.5 121.2,339.4 120.9,339.0 120.6,338.7 120.3,339.0 120.0,338.7 119.6,338.1 119.3,338.2 119.0,338.2 118.7,337.8 118.4,337.9 118.1,338.7 117.8,339.4 117.5,339.8 117.2,339.7 116.9,339.9 116.6,339.4 116.3,338.9 115.9,339.5 115.6,339.5 115.3,338.6 115.0,338.8 114.7,339.3 114.4,339.2 114.1,338.9 113.8,339.5 113.5,339.6 113.2,338.4 112.9,338.4 112.6,338.5 112.2,338.1 111.9,339.0 111.6,339.1 111.3,338.6 111.0,339.2 110.7,338.9 110.4,338.7 110.1,339.0 109.8,339.1 109.5,340.3 109.2,340.5 108.9,339.5 108.5,339.6 108.2,340.1 107.9,339.7 107.6,339.9 107.3,340.8 107.0,340.4 106.7,339.5 106.4,340.1 106.1,340.5 105.8,339.7 105.5,339.8 105.2,339.5 104.8,339.8 104.5,340.1 104.2,339.1 103.9,339.8 103.6,340.7 103.3,339.3 103.0,339.7 102.7,340.7 102.4,340.3 102.1,340.2 101.8,341.2 101.5,342.3 101.1,341.7 100.8,341.1 100.5,342.0 100.2,341.4 99.9,341.2 99.6,341.3" fill="#ffcccc" fill-opacity="1.0" stroke="none"/>
<polygon points="99.6,337.1 99.9,336.7 100.2,337.1 100.5,337.5 100.8,337.7 101.1,336.6 101.5,336.2 101.8,337.2 102.1,336.7 102.4,336.1 102.7,337.4 103.0,337.1 103.3,337.6 103.6,336.1 103.9,336.7 104.2,337.1 104.5,337.8 104.8,336.9 105.2,336.1 105.5,336.9 105.8,337.0 106.1,336.3 106.4,337.4 106.7,336.6 107.0,336.3 107.3,337.1 107.6,337.1 107.9,336.4 108.2,336.6 108.5,336.7 108.9,336.4 109.2,336.4 109.5,337.0 109.8,336.9 110.1,336.2 110.4,335.7 110.7,335.6 111.0,336.9 111.3,335.7 111.6,335.9 111.9,336.3 112.2,336.0 112.6,335.8 112.9,335.2 113.2,336.9 113.5,335.8 113.8,336.3 114.1,336.3 114.4,335.5 114.7,335.6 115.0,336.7 115.3,336.3 115.6,335.9 115.9,336.9 116.3,335.5 116.6,336.1 116.9,335.9 117.2,335.8 117.5,334.8 117.8,335.9 118.1,336.1 118.4,334.8 118.7,336.2 119.0,336.2 119.3,336.7 119.6,335.2 120.0,335.6 120.3,335.5 120.6,335.7 120.9,335.8 121.2,336.2 121.5,336.2 121.8,335.4 122.1,335.6 122.4,334.6 122.7,336.1 123.0,335.9 123.3,336.2 123.7,334.7 124.0,336.3 124.3,335.0 124.6,334.6 124.9,335.6 125.2,335.0 125.5,336.7 125.8,335.7 126.1,336.4 126.4,335.3 126.7,335.4 127.0,335.8 127.4,334.7 127.7,335.1 128.0,335.6 128.3,335.6 128.6,336.1 128.9,335.3 129.2,333.9 129.5,335.6 129.8,334.9 130.1,335.5 130.4,334.6 130.7,334.8 131.1,335.2 131.4,336.2 131.7,335.4 132.0,334.3 132.3,335.2 132.6,334.6 132.9,335.3 133.2,336.1 133.5,334.7 133.8,334.7 134.1,335.2 134.4,335.1 134.8,334.7 135.1,335.2 135.4,334.6 135.7,334.9 136.0,336.2 136.3,334.8 136.6,335.1 136.9,335.2 137.2,334.4 137.5,335.0 137.8,334.3 138.1,334.0 138.5,328.4 138.8,323.3 139.1,316.7 139.4,309.5 139.7,304.1 140.0,298.3 140.3,291.7 140.6,285.2 140.9,279.2 141.2,272.8 141.5,280.4 141.9,285.9 142.2,291.1 142.5,295.6 142.8,301.0 143.1,303.5 143.4,307.5 143.7,308.7 144.0,311.2 144.3,313.5 144.6,316.1 144.9,318.7 145.2,319.5 145.6,321.7 145.9,322.6 146.2,324.7 146.5,325.6 146.8,326.0 147.1,326.1 147.4,328.0 147.7,327.4 148.0,327.7 148.3,330.8 148.6,330.6 148.9,331.7 149.3,331.7 149.6,332.4 149.9,332.5 150.2,332.2 150.5,332.6 150.8,333.3 151.1,333.8 151.4,334.0 151.7,334.2 152.0,334.2 152.3,334.7 152.6,334.6 153.0,335.9 153.3,334.8 153.6,334.4 153.9,335.5 154.2,336.6 154.5,335.1 154.8,336.2 155.1,338.0 155.4,336.4 155.7,336.0 156.0,336.3 156.3,335.8 156.7,336.3 157.0,336.7 157.3,338.1 157.6,337.6 157.9,336.9 158.2,336.6 158.5,337.8 158.8,337.6 159.1,337.0 159.4,338.5 159.7,338.5 160.0,337.5 160.4,337.3 160.7,337.8 161.0,338.9 161.3,337.6 161.6,338.4 161.9,337.2 162.2,337.7 162.5,337.6 162.8,337.4 163.1,338.1 163.4,337.3 163.7,337.1 164.1,337.6 164.4,337.1 164.7,338.3 165.0,337.4 165.3,337.8 165.6,338.6 165.9,338.0 166.2,338.3 166.5,338.4 166.8,338.0 167.1,337.4 167.4,338.3 167.8,338.0 168.1,339.0 168.4,338.0 168.7,337.4 169.0,337.6 169.3,337.8 169.6,338.5 169.9,338.7 170.2,338.2 170.5,339.0 170.8,338.9 171.1,337.6 171.5,338.8 171.8,337.1 172.1,339.1 172.4,337.9 172.7,338.9 173.0,338.1 173.3,338.9 173.6,338.2 173.9,338.3 174.2,338.5 174.5,337.9 174.8,337.3 175.2,338.6 175.5,337.7 175.8,338.2 176.1,338.3 176.4,336.9 176.7,339.6 177.0,331.9 177.3,325.9 177.6,318.2 177.9,311.4 178.2,302.2 178.6,297.6 178.9,289.9 179.2,283.5 179.5,277.8 179.8,270.5 180.1,275.6 180.4,281.7 180.7,286.5 181.0,290.6 181.3,295.7 181.6,298.8 181.9,301.3 182.3,304.1 182.6,307.7 182.9,309.7 183.2,311.8 183.5,313.8 183.8,315.1 184.1,317.1 184.4,318.6 184.7,321.0 185.0,322.1 185.3,322.4 185.6,324.7 186.0,324.5 186.3,326.0 186.6,327.0 186.9,326.9 187.2,328.4 187.5,329.2 187.8,329.7 188.1,329.8 188.4,328.7 188.7,332.2 189.0,331.4 189.3,332.0 189.7,331.7 190.0,332.9 190.3,334.6 190.6,332.6 190.9,334.4 191.2,334.0 191.5,335.1 191.8,335.2 192.1,335.1 192.4,334.5 192.7,334.8 193.0,335.9 193.4,335.4 193.7,336.2 194.0,336.0 194.3,336.2 194.6,336.1 194.9,337.0 195.2,336.8 195.5,336.8 195.8,337.0 196.1,337.7 196.4,336.2 196.7,337.7 197.1,337.1 197.4,337.5 197.7,337.0 198.0,339.2 198.3,336.7 198.6,338.2 198.9,338.9 199.2,338.1 199.5,336.9 199.8,338.1 200.1,339.2 200.4,338.8 200.8,337.8 201.1,339.5 201.4,338.8 201.7,339.0 202.0,337.5 202.3,339.1 202.6,338.1 202.9,339.4 203.2,339.5 203.5,338.5 203.8,338.7 204.1,340.2 204.5,338.8 204.8,338.9 205.1,339.7 205.4,339.2 205.7,339.2 206.0,339.7 206.3,339.8 206.6,339.9 206.9,339.7 207.2,340.3 207.5,339.6 207.8,340.5 208.2,339.5 208.5,339.7 208.8,340.3 209.1,339.1 209.4,338.5 209.7,338.9 210.0,340.6 210.3,339.0 210.6,339.6 210.9,339.8 211.2,340.2 211.5,339.8 211.9,339.0 212.2,339.5 212.5,340.1 212.8,340.3 213.1,340.1 213.4,339.5 213.7,338.8 214.0,340.6 214.3,339.9 214.6,340.2 214.9,340.4 215.2,339.7 215.6,333.4 215.9,328.4 216.2,321.9 216.5,314.3 216.8,308.6 217.1,302.2 217.4,296.6 217.7,290.3 218.0,283.5 218.3,277.9 218.6,283.4 219.0,287.4 219.3,291.0 219.6,296.0 219.9,298.2 220.2,301.5 220.5,305.3 220.8,307.4 221.1,309.7 221.4,311.5 221.7,313.4 222.0,316.4 222.3,318.0 222.7,318.0 223.0,319.9 223.3,321.0 223.6,322.2 223.9,322.5 224.2,325.1 224.5,324.6 224.8,326.6 225.1,326.4 225.4,326.7 225.7,329.0 226.0,328.5 226.4,329.5 226.7,330.0 227.0,330.3 227.3,331.4 227.6,331.8 227.9,331.2 228.2,331.5 228.5,332.7 228.8,333.5 229.1,331.5 229.4,332.6 229.7,333.3 230.1,334.4 230.4,334.4 230.7,334.1 231.0,335.0 231.3,333.7 231.6,334.7 231.9,334.8 232.2,335.8 232.5,335.9 232.8,336.0 233.1,335.5 233.4,336.0 233.8,336.1 234.1,335.9 234.4,336.0 234.7,335.4 235.0,336.5 235.3,337.1 235.6,336.6 235.9,335.8 236.2,337.1 236.5,336.9 236.8,337.2 237.1,336.8 237.5,337.0 237.8,337.7 238.1,337.4 238.4,336.8 238.7,336.7 239.0,336.9 239.3,337.0 239.6,337.8 239.9,337.9 240.2,337.1 240.5,338.5 240.8,337.8 241.2,339.0 241.5,338.1 241.8,338.4 242.1,338.7 242.4,337.7 242.7,338.5 243.0,338.3 243.3,338.3 243.6,338.6 243.9,337.3 244.2,338.5 244.5,338.1 244.9,339.1 245.2,338.6 245.5,338.5 245.8,338.5 246.1,338.7 246.4,338.3 246.7,337.5 247.0,338.5 247.3,338.6 247.6,338.7 247.9,337.0 248.2,337.5 248.6,338.2 248.9,338.1 249.2,339.0 249.5,338.7 249.8,338.5 250.1,338.5 250.4,339.2 250.7,339.1 251.0,338.3 251.3,338.5 251.6,340.0 251.9,338.6 252.3,337.9 252.6,339.1 252.9,338.6 253.2,339.6 253.5,338.2 253.8,339.4 254.1,333.8 254.4,327.6 254.7,320.3 255.0,316.4 255.3,311.1 255.7,304.4 256.0,298.8 256.3,292.3 256.6,288.4 256.9,282.9 257.2,286.9 257.5,290.7 257.8,294.6 258.1,297.6 258.4,302.4 258.7,304.8 259.0,307.0 259.4,308.8 259.7,311.2 260.0,313.7 260.3,315.8 260.6,316.3 260.9,317.7 261.2,318.0 261.5,321.0 261.8,321.1 262.1,323.8 262.4,324.4 262.7,325.3 263.1,326.0 263.4,327.0 263.7,327.5 264.0,327.9 264.3,328.7 264.6,328.6 264.9,329.5 265.2,330.0 265.5,329.5 265.8,330.6 266.1,331.1 266.4,331.6 266.8,331.9 267.1,331.9 267.4,333.0 267.7,332.1 268.0,332.1 268.3,332.6 268.6,333.9 268.9,334.7 269.2,334.2 269.5,334.1 269.8,333.9 270.1,334.7 270.5,334.9 270.8,333.9 271.1,335.4 271.4,334.5 271.7,334.8 272.0,336.2 272.3,335.4 272.6,336.0 272.9,336.4 273.2,337.0 273.5,336.9 273.8,335.8 274.2,336.4 274.5,336.1 274.8,337.0 275.1,336.6 275.4,336.7 275.7,337.5 276.0,337.7 276.3,336.5 276.6,336.7 276.9,337.4 277.2,337.0 277.5,336.6 277.9,335.9 278.2,337.6 278.5,336.8 278.8,335.9 279.1,337.2 279.4,336.4 279.7,338.9 280.0,336.5 280.3,337.4 280.6,338.6 280.9,337.0 281.2,336.9 281.6,336.8 281.9,336.8 282.2,337.6 282.5,338.1 282.8,337.9 283.1,337.7 283.4,337.5 283.7,338.0 284.0,337.7 284.3,337.3 284.6,337.6 284.9,336.4 285.3,336.5 285.6,338.6 285.9,338.2 286.2,338.7 286.5,338.6 286.8,337.6 287.1,338.6 287.4,338.6 287.7,338.2 288.0,337.5 288.3,338.2 288.6,338.2 289.0,337.5 289.3,337.8 289.6,337.8 289.9,337.5 290.2,338.7 290.5,338.0 290.8,338.5 291.1,337.5 291.4,337.6 291.7,338.8 292.0,337.3 292.4,338.9 292.7,332.3 293.0,327.8 293.3,323.3 293.6,318.3 293.9,312.7 294.2,307.4 294.5,302.7 294.8,296.8 295.1,292.9 295.4,286.9 295.7,291.2 296.1,296.2 296.4,298.4 296.7,302.6 297.0,306.2 297.3,307.7 297.6,309.8 297.9,311.3 298.2,314.1 298.5,314.7 298.8,316.4 299.1,318.0 299.4,319.3 299.8,321.1 300.1,322.8 300.4,323.1 300.7,323.8 301.0,325.2 301.3,326.3 301.6,327.8 301.9,327.1 302.2,328.0 302.5,329.6 302.8,329.2 303.1,329.4 303.5,330.3 303.8,330.2 304.1,330.6 304.4,332.4 304.7,332.0 305.0,331.9 305.3,331.9 305.6,331.9 305.9,334.2 306.2,333.3 306.5,333.1 306.8,333.0 307.2,332.9 307.5,334.7 307.8,334.6 308.1,335.2 308.4,334.2 308.7,335.7 309.0,334.3 309.3,334.6 309.6,335.0 309.9,336.8 310.2,336.0 310.5,335.2 310.9,336.7 311.2,336.1 311.5,336.1 311.8,335.6 312.1,336.0 312.4,336.1 312.7,336.6 313.0,336.5 313.3,336.6 313.6,336.2 313.9,336.8 314.2,336.1 314.6,337.9 314.9,336.1 315.2,337.0 315.5,336.3 315.8,337.0 316.1,336.6 316.4,336.2 316.7,337.5 317.0,337.2 317.3,337.4 317.6,337.2 317.9,338.4 318.3,337.5 318.6,337.6 318.9,338.0 319.2,337.6 319.5,338.5 319.8,336.7 320.1,337.3 320.4,336.5 320.7,338.2 321.0,338.4 321.3,337.5 321.6,338.8 322.0,337.6 322.3,338.2 322.6,338.0 322.9,337.7 323.2,337.8 323.5,336.7 323.8,337.5 324.1,338.7 324.4,337.3 324.7,338.8 325.0,337.9 325.3,338.7 325.7,338.5 326.0,337.2 326.3,338.4 326.6,338.4 326.9,338.4 327.2,338.3 327.5,337.2 327.8,338.8 328.1,338.9 328.4,337.7 328.7,339.1 329.0,338.3 329.4,337.4 329.7,338.1 330.0,338.4 330.3,338.6 330.6,338.7 330.9,338.5 330.9,342.0 330.6,341.7 330.3,341.7 330.0,343.2 329.7,342.1 329.4,341.7 329.0,341.4 328.7,341.7 328.4,342.1 328.1,343.0 327.8,341.8 327.5,342.9 327.2,342.5 326.9,342.8 326.6,341.7 326.3,343.6 326.0,342.5 325.7,342.4 325.3,342.2 325.0,342.4 324.7,342.5 324.4,342.3 324.1,342.9 323.8,342.0 323.5,342.6 323.2,341.7 322.9,342.5 322.6,342.2 322.3,342.5 322.0,341.5 321.6,341.8 321.3,341.5 321.0,341.4 320.7,342.6 320.4,341.3 320.1,341.2 319.8,341.5 319.5,341.9 319.2,340.6 318.9,342.3 318.6,342.2 318.3,341.8 317.9,340.5 317.6,341.4 317.3,342.2 317.0,341.8 316.7,341.2 316.4,341.7 316.1,343.3 315.8,342.3 315.5,340.7 315.2,341.4 314.9,340.6 314.6,341.1 314.2,341.4 313.9,341.6 313.6,341.8 313.3,340.5 313.0,340.0 312.7,341.1 312.4,339.8 312.1,340.8 311.8,340.5 311.5,340.8 311.2,341.6 310.9,339.2 310.5,339.3 310.2,339.3 309.9,341.1 309.6,338.8 309.3,338.8 309.0,339.1 308.7,339.9 308.4,337.9 308.1,339.4 307.8,338.2 307.5,337.9 307.2,338.6 306.8,337.9 306.5,338.4 306.2,337.8 305.9,337.7 305.6,336.8 305.3,337.0 305.0,336.2 304.7,335.7 304.4,335.2 304.1,336.3 303.8,336.1 303.5,334.3 303.1,333.6 302.8,333.0 302.5,334.6 302.2,332.8 301.9,331.4 301.6,330.6 301.3,331.2 301.0,329.1 300.7,327.9 300.4,327.5 300.1,327.6 299.8,326.0 299.4,323.8 299.1,323.3 298.8,320.9 298.5,319.0 298.2,317.8 297.9,316.6 297.6,313.1 297.3,311.5 297.0,308.1 296.7,306.0 296.4,301.8 296.1,300.6 295.7,296.4 295.4,290.6 295.1,296.2 294.8,301.7 294.5,306.6 294.2,310.8 293.9,315.4 293.6,321.9 293.3,328.1 293.0,333.0 292.7,337.4 292.4,343.3 292.0,341.7 291.7,340.9 291.4,342.6 291.1,342.9 290.8,342.3 290.5,341.7 290.2,343.6 289.9,342.9 289.6,343.7 289.3,342.6 289.0,342.0 288.6,341.6 288.3,342.8 288.0,342.5 287.7,342.0 287.4,341.6 287.1,341.7 286.8,342.3 286.5,342.9 286.2,342.1 285.9,342.2 285.6,342.2 285.3,341.6 284.9,343.7 284.6,342.2 284.3,342.3 284.0,342.8 283.7,342.8 283.4,342.0 283.1,342.0 282.8,342.6 282.5,342.2 282.2,343.5 281.9,341.8 281.6,340.2 281.2,341.0 280.9,341.6 280.6,340.9 280.3,341.8 280.0,341.3 279.7,341.2 279.4,341.8 279.1,342.1 278.8,342.2 278.5,340.3 278.2,342.2 277.9,340.8 277.5,340.7 277.2,341.8 276.9,340.9 276.6,340.6 276.3,341.6 276.0,340.3 275.7,340.9 275.4,340.7 275.1,341.3 274.8,340.5 274.5,340.2 274.2,340.9 273.8,340.9 273.5,340.0 273.2,339.8 272.9,340.6 272.6,340.3 272.3,339.5 272.0,340.3 271.7,340.4 271.4,340.4 271.1,339.8 270.8,339.4 270.5,339.1 270.1,339.0 269.8,339.4 269.5,338.6 269.2,338.7 268.9,337.1 268.6,337.6 268.3,337.9 268.0,336.3 267.7,336.5 267.4,337.4 267.1,336.8 266.8,336.1 266.4,335.5 266.1,336.5 265.8,334.6 265.5,335.1 265.2,334.5 264.9,333.9 264.6,332.0 264.3,332.7 264.0,331.8 263.7,332.5 263.4,331.2 263.1,330.8 262.7,328.4 262.4,328.0 262.1,327.9 261.8,326.8 261.5,325.2 261.2,323.2 260.9,323.7 260.6,321.4 260.3,320.2 260.0,317.9 259.7,315.2 259.4,313.1 259.0,312.2 258.7,308.3 258.4,306.2 258.1,303.3 257.8,298.3 257.5,296.2 257.2,291.2 256.9,286.6 256.6,292.1 256.3,297.6 256.0,304.1 255.7,309.4 255.3,314.2 255.0,319.5 254.7,325.0 254.4,331.4 254.1,337.0 253.8,342.3 253.5,343.5 253.2,343.1 252.9,343.9 252.6,342.9 252.3,343.5 251.9,342.2 251.6,343.0 251.3,342.5 251.0,343.0 250.7,343.2 250.4,342.8 250.1,343.0 249.8,343.3 249.5,342.1 249.2,342.8 248.9,342.8 248.6,342.3 248.2,343.7 247.9,343.1 247.6,342.9 247.3,342.9 247.0,343.3 246.7,341.9 246.4,341.7 246.1,342.6 245.8,342.3 245.5,341.6 245.2,341.8 244.9,342.8 244.5,342.2 244.2,341.7 243.9,343.2 243.6,341.9 243.3,342.6 243.0,342.9 242.7,342.3 242.4,341.5 242.1,342.7 241.8,342.2 241.5,341.8 241.2,342.6 240.8,340.8 240.5,342.1 240.2,341.5 239.9,342.4 239.6,342.3 239.3,341.7 239.0,341.6 238.7,341.7 238.4,342.2 238.1,341.8 237.8,342.2 237.5,340.9 237.1,340.2 236.8,342.4 236.5,341.1 236.2,340.3 235.9,341.2 235.6,341.0 235.3,341.0 235.0,340.6 234.7,339.7 234.4,341.2 234.1,339.5 233.8,339.3 233.4,341.2 233.1,340.6 232.8,339.8 232.5,338.9 232.2,340.3 231.9,338.9 231.6,339.8 231.3,338.9 231.0,338.4 230.7,339.0 230.4,337.9 230.1,338.8 229.7,337.7 229.4,336.4 229.1,338.3 228.8,337.0 228.5,337.9 228.2,336.2 227.9,335.3 227.6,335.8 227.3,336.6 227.0,335.1 226.7,334.2 226.4,333.5 226.0,332.9 225.7,332.8 225.4,331.7 225.1,330.2 224.8,330.0 224.5,329.9 224.2,329.0 223.9,327.6 223.6,325.7 223.3,325.1 223.0,323.8 222.7,323.0 222.3,321.6 222.0,320.3 221.7,317.8 221.4,317.1 221.1,313.8 220.8,311.7 220.5,309.4 220.2,306.0 219.9,303.7 219.6,299.9 219.3,296.7 219.0,291.3 218.6,287.3 218.3,282.0 218.0,288.1 217.7,295.0 217.4,300.3 217.1,306.9 216.8,313.2 216.5,319.3 216.2,325.4 215.9,331.7 215.6,338.2 215.2,344.2 214.9,343.6 214.6,344.6 214.3,344.0 214.0,345.3 213.7,343.7 213.4,343.1 213.1,344.7 212.8,344.5 212.5,344.3 212.2,344.7 211.9,343.5 211.5,343.8 211.2,344.0 210.9,343.7 210.6,344.6 210.3,343.9 210.0,343.5 209.7,343.9 209.4,344.5 209.1,344.4 208.8,344.0 208.5,343.8 208.2,344.5 207.8,343.8 207.5,344.0 207.2,344.2 206.9,343.4 206.6,343.5 206.3,344.0 206.0,343.6 205.7,343.2 205.4,344.5 205.1,343.0 204.8,342.6 204.5,344.0 204.1,343.9 203.8,344.5 203.5,343.7 203.2,343.6 202.9,343.2 202.6,342.9 202.3,343.5 202.0,342.6 201.7,343.9 201.4,342.7 201.1,343.0 200.8,343.8 200.4,342.8 200.1,343.3 199.8,343.3 199.5,342.2 199.2,343.0 198.9,342.1 198.6,342.7 198.3,342.4 198.0,341.6 197.7,341.5 197.4,343.1 197.1,341.8 196.7,341.2 196.4,340.7 196.1,341.2 195.8,341.7 195.5,341.1 195.2,341.1 194.9,341.2 194.6,340.5 194.3,341.2 194.0,340.0 193.7,339.6 193.4,338.7 193.0,339.8 192.7,339.4 192.4,339.3 192.1,340.4 191.8,337.8 191.5,338.9 191.2,338.6 190.9,338.2 190.6,336.9 190.3,337.2 190.0,336.7 189.7,336.2 189.3,336.6 189.0,336.3 188.7,335.8 188.4,334.8 188.1,333.8 187.8,333.2 187.5,333.1 187.2,332.7 186.9,331.2 186.6,330.7 186.3,330.5 186.0,329.3 185.6,327.6 185.3,328.1 185.0,325.3 184.7,325.1 184.4,323.8 184.1,321.3 183.8,320.4 183.5,318.2 183.2,315.5 182.9,314.1 182.6,311.3 182.3,309.4 181.9,305.3 181.6,303.0 181.3,298.3 181.0,295.7 180.7,290.9 180.4,286.4 180.1,279.2 179.8,275.5 179.5,281.5 179.2,288.4 178.9,295.0 178.6,302.9 178.2,308.6 177.9,316.2 177.6,322.2 177.3,329.2 177.0,335.7 176.7,342.5 176.4,343.0 176.1,342.3 175.8,342.7 175.5,342.3 175.2,341.8 174.8,342.9 174.5,342.0 174.2,343.4 173.9,341.9 173.6,341.8 173.3,342.8 173.0,342.1 172.7,343.0 172.4,342.6 172.1,343.0 171.8,342.9 171.5,342.6 171.1,342.1 170.8,342.4 170.5,342.5 170.2,341.6 169.9,341.9 169.6,342.4 169.3,341.5 169.0,341.5 168.7,342.2 168.4,342.9 168.1,342.5 167.8,343.8 167.4,343.1 167.1,342.1 166.8,342.0 166.5,342.3 166.2,342.8 165.9,342.4 165.6,342.5 165.3,343.0 165.0,342.7 164.7,341.9 164.4,341.8 164.1,341.1 163.7,343.6 163.4,342.1 163.1,343.6 162.8,342.3 162.5,341.8 162.2,342.5 161.9,342.6 161.6,341.8 161.3,342.0 161.0,341.8 160.7,341.9 160.4,341.6 160.0,341.5 159.7,341.4 159.4,341.1 159.1,341.1 158.8,342.4 158.5,341.8 158.2,341.2 157.9,341.0 157.6,341.1 157.3,340.4 157.0,341.2 156.7,342.4 156.3,341.1 156.0,340.8 155.7,341.1 155.4,340.7 155.1,341.0 154.8,340.7 154.5,340.3 154.2,340.3 153.9,340.1 153.6,340.5 153.3,339.4 153.0,340.1 152.6,339.3 152.3,339.9 152.0,339.2 151.7,337.9 151.4,338.5 151.1,337.9 150.8,338.8 150.5,337.6 150.2,337.2 149.9,336.1 149.6,337.4 149.3,335.9 148.9,335.5 148.6,334.9 148.3,335.6 148.0,334.1 147.7,332.0 147.4,332.5 147.1,331.5 146.8,330.9 146.5,329.6 146.2,329.2 145.9,327.9 145.6,326.4 145.2,324.1 144.9,323.3 144.6,321.9 144.3,318.7 144.0,317.1 143.7,314.5 143.4,310.8 143.1,307.8 142.8,303.8 142.5,300.2 142.2,294.4 141.9,290.1 141.5,282.7 141.2,277.5 140.9,284.4 140.6,289.2 140.3,296.8 140.0,301.7 139.7,307.9 139.4,314.4 139.1,320.5 138.8,326.1 138.5,332.9 138.1,338.2 137.8,340.3 137.5,339.9 137.2,339.1 136.9,339.5 136.6,339.4 136.3,339.0 136.0,339.3 135.7,338.0 135.4,339.0 135.1,339.3 134.8,338.8 134.4,339.8 134.1,340.2 133.8,338.9 133.5,339.2 133.2,339.0 132.9,339.6 132.6,339.0 132.3,338.6 132.0,339.6 131.7,340.3 131.4,339.3 131.1,338.6 130.7,339.3 130.4,339.3 130.1,339.5 129.8,339.2 129.5,338.6 129.2,340.6 128.9,339.5 128.6,339.9 128.3,339.2 128.0,340.3 127.7,341.3 127.4,339.5 127.0,340.4 126.7,339.1 126.4,340.0 126.1,339.2 125.8,339.4 125.5,339.1 125.2,340.1 124.9,339.6 124.6,339.6 124.3,339.9 124.0,339.1 123.7,339.5 123.3,339.4 123.0,339.8 122.7,340.4 122.4,340.9 122.1,339.2 121.8,339.7 121.5,341.7 121.2,340.9 120.9,340.1 120.6,340.2 120.3,340.1 120.0,340.2 119.6,340.5 119.3,340.8 119.0,340.6 118.7,339.9 118.4,340.2 118.1,341.1 117.8,340.5 117.5,340.8 117.2,340.2 116.9,340.2 116.6,340.2 116.3,341.7 115.9,339.5 115.6,340.1 115.3,341.2 115.0,339.9 114.7,341.1 114.4,340.5 114.1,340.2 113.8,340.6 113.5,341.7 113.2,340.3 112.9,340.6 112.6,341.3 112.2,341.4 111.9,340.9 111.6,340.7 111.3,341.1 111.0,340.4 110.7,339.9 110.4,340.5 110.1,341.3 109.8,340.4 109.5,341.7 109.2,340.4 108.9,341.4 108.5,340.9 108.2,340.5 107.9,341.4 107.6,340.3 107.3,341.0 107.0,340.9 106.7,340.3 106.4,341.6 106.1,341.5 105.8,341.3 105.5,341.2 105.2,341.3 104.8,340.5 104.5,342.0 104.2,341.1 103.9,341.6 103.6,341.8 103.3,342.2 103.0,341.0 102.7,341.9 102.4,342.0 102.1,341.5 101.8,341.6 101.5,342.5 101.1,340.9 100.8,341.8 100.5,341.7 100.2,340.8 99.9,340.7 99.6,341.4" fill="#c4c4c4" fill-opacity="0.8" stroke="none"/>
<polyline points="99.6,338.6 99.9,338.5 100.2,339.6 100.5,338.7 100.8,337.3 101.1,339.0 101.5,339.2 101.8,338.2 102.1,338.2 102.4,338.1 102.7,337.9 103.0,337.3 103.3,337.5 103.6,339.4 103.9,339.4 104.2,338.2 104.5,339.8 104.8,339.2 105.2,339.4 105.5,339.2 105.8,336.8 106.1,337.9 106.4,338.5 106.7,337.7 107.0,337.9 107.3,339.3 107.6,339.3 107.9,338.1 108.2,338.0 108.5,338.1 108.9,337.7 109.2,337.5 109.5,337.8 109.8,336.9 110.1,337.3 110.4,337.6 110.7,337.5 111.0,337.9 111.3,338.5 111.6,338.2 111.9,336.8 112.2,337.5 112.6,337.8 112.9,337.4 113.2,338.9 113.5,338.9 113.8,337.0 114.1,337.6 114.4,340.1 114.7,339.5 115.0,338.6 115.3,337.2 115.6,336.7 115.9,338.2 116.3,338.6 116.6,338.4 116.9,338.3 117.2,339.2 117.5,338.8 117.8,338.7 118.1,337.6 118.4,337.9 118.7,339.0 119.0,338.6 119.3,339.6 119.6,337.7 120.0,338.2 120.3,338.4 120.6,337.8 120.9,338.9 121.2,336.0 121.5,337.7 121.8,340.5 122.1,337.8 122.4,336.6 122.7,338.0 123.0,338.2 123.3,338.5 123.7,338.3 124.0,336.4 124.3,336.7 124.6,337.8 124.9,336.5 125.2,335.0 125.5,336.4 125.8,337.7 126.1,337.7 126.4,338.4 126.7,338.3 127.0,338.3 127.4,339.3 127.7,340.3 128.0,339.5 128.3,337.8 128.6,336.3 128.9,336.8 129.2,337.8 129.5,336.9 129.8,336.2 130.1,336.7 130.4,337.4 130.7,335.8 131.1,336.0 131.4,337.8 131.7,338.8 132.0,338.1 132.3,337.0 132.6,335.8 132.9,335.8 133.2,336.7 133.5,335.6 133.8,335.0 134.1,336.7 134.4,336.8 134.8,335.7 135.1,337.0 135.4,337.2 135.7,337.4 136.0,337.4 136.3,339.0 136.6,338.3 136.9,336.4 137.2,337.5 137.5,337.6 137.8,335.0 138.1,334.6 138.5,330.6 138.8,323.4 139.1,317.6 139.4,312.9 139.7,306.6 140.0,300.5 140.3,293.4 140.6,286.6 140.9,281.6 141.2,276.0 141.5,282.0 141.9,288.1 142.2,293.4 142.5,298.3 142.8,303.0 143.1,306.0 143.4,309.5 143.7,312.2 144.0,314.1 144.3,317.5 144.6,319.9 144.9,321.4 145.2,322.7 145.6,323.7 145.9,325.1 146.2,327.1 146.5,326.9 146.8,326.5 147.1,328.5 147.4,329.3 147.7,329.8 148.0,331.5 148.3,332.3 148.6,330.6 148.9,330.4 149.3,332.1 149.6,333.6 149.9,334.4 150.2,332.7 150.5,333.2 150.8,334.4 151.1,334.0 151.4,334.7 151.7,334.7 152.0,335.2 152.3,336.3 152.6,337.2 153.0,335.7 153.3,335.1 153.6,337.3 153.9,336.6 154.2,337.2 154.5,338.4 154.8,338.8 155.1,338.9 155.4,338.7 155.7,338.4 156.0,338.3 156.3,339.3 156.7,339.5 157.0,339.2 157.3,339.5 157.6,338.7 157.9,337.9 158.2,338.5 158.5,340.1 158.8,339.8 159.1,340.0 159.4,340.3 159.7,339.3 160.0,339.9 160.4,340.7 160.7,340.8 161.0,338.6 161.3,338.3 161.6,340.1 161.9,339.2 162.2,338.7 162.5,338.7 162.8,340.0 163.1,341.7 163.4,338.2 163.7,337.4 164.1,340.2 164.4,340.1 164.7,339.1 165.0,340.2 165.3,340.8 165.6,339.9 165.9,339.6 166.2,339.5 166.5,340.4 166.8,341.2 167.1,342.7 167.4,341.3 167.8,340.6 168.1,341.7 168.4,339.2 168.7,339.3 169.0,340.1 169.3,339.9 169.6,339.9 169.9,339.7 170.2,340.7 170.5,339.6 170.8,339.5 171.1,341.5 171.5,341.6 171.8,340.2 172.1,340.8 172.4,340.6 172.7,339.1 173.0,338.1 173.3,339.2 173.6,340.3 173.9,341.1 174.2,342.0 174.5,340.6 174.8,340.0 175.2,340.1 175.5,340.5 175.8,340.9 176.1,341.2 176.4,340.5 176.7,339.7 177.0,332.7 177.3,325.6 177.6,318.5 177.9,313.9 178.2,308.4 178.6,300.4 178.9,293.8 179.2,286.1 179.5,278.2 179.8,272.4 180.1,278.7 180.4,282.9 180.7,288.0 181.0,293.5 181.3,296.5 181.6,299.4 181.9,302.2 182.3,305.2 182.6,308.4 182.9,311.5 183.2,315.0 183.5,316.6 183.8,319.7 184.1,321.1 184.4,319.8 184.7,321.4 185.0,323.6 185.3,324.0 185.6,325.0 186.0,326.1 186.3,325.3 186.6,326.3 186.9,328.1 187.2,329.0 187.5,330.2 187.8,331.0 188.1,331.7 188.4,331.7 188.7,333.5 189.0,335.0 189.3,333.7 189.7,334.5 190.0,335.5 190.3,335.8 190.6,335.7 190.9,334.8 191.2,334.3 191.5,334.9 191.8,336.9 192.1,337.3 192.4,336.6 192.7,335.9 193.0,338.2 193.4,339.2 193.7,339.2 194.0,339.1 194.3,337.5 194.6,337.8 194.9,337.7 195.2,337.9 195.5,339.2 195.8,339.4 196.1,338.1 196.4,338.6 196.7,339.6 197.1,340.6 197.4,339.8 197.7,339.4 198.0,340.9 198.3,341.0 198.6,341.2 198.9,341.1 199.2,339.5 199.5,338.8 199.8,338.8 200.1,338.3 200.4,340.2 200.8,341.0 201.1,339.2 201.4,337.9 201.7,340.2 202.0,343.1 202.3,341.7 202.6,340.9 202.9,342.1 203.2,341.6 203.5,341.5 203.8,343.6 204.1,343.0 204.5,341.2 204.8,340.8 205.1,340.2 205.4,340.6 205.7,341.5 206.0,342.2 206.3,343.3 206.6,343.2 206.9,341.2 207.2,340.4 207.5,339.6 207.8,340.2 208.2,343.2 208.5,342.5 208.8,340.3 209.1,341.9 209.4,343.9 209.7,342.9 210.0,341.2 210.3,342.2 210.6,343.0 210.9,342.8 211.2,343.4 211.5,343.9 211.9,342.9 212.2,342.1 212.5,342.8 212.8,344.5 213.1,342.7 213.4,341.4 213.7,342.9 214.0,343.0 214.3,342.6 214.6,342.9 214.9,343.2 215.2,342.2 215.6,335.3 215.9,329.8 216.2,324.7 216.5,317.8 216.8,309.5 217.1,304.2 217.4,299.3 217.7,292.5 218.0,286.2 218.3,279.0 218.6,284.3 219.0,289.2 219.3,293.3 219.6,297.8 219.9,301.6 220.2,305.5 220.5,308.5 220.8,310.4 221.1,312.6 221.4,313.6 221.7,315.1 222.0,317.0 222.3,318.1 222.7,321.8 223.0,323.6 223.3,323.1 223.6,324.6 223.9,326.6 224.2,327.1 224.5,326.1 224.8,326.5 225.1,328.2 225.4,329.2 225.7,329.1 226.0,328.8 226.4,329.1 226.7,330.9 227.0,332.3 227.3,332.7 227.6,333.0 227.9,333.9 228.2,333.9 228.5,334.4 228.8,335.9 229.1,335.4 229.4,335.5 229.7,336.3 230.1,337.7 230.4,337.1 230.7,335.8 231.0,336.7 231.3,336.5 231.6,336.5 231.9,337.5 232.2,336.3 232.5,336.3 232.8,337.2 233.1,335.6 233.4,337.0 233.8,338.5 234.1,338.8 234.4,338.1 234.7,337.9 235.0,339.7 235.3,338.5 235.6,337.0 235.9,338.8 236.2,338.7 236.5,338.0 236.8,336.9 237.1,335.8 237.5,338.4 237.8,340.0 238.1,340.3 238.4,340.1 238.7,339.4 239.0,339.0 239.3,339.1 239.6,340.8 239.9,341.6 240.2,339.4 240.5,337.9 240.8,339.2 241.2,340.2 241.5,340.3 241.8,340.2 242.1,341.4 242.4,340.8 242.7,340.0 243.0,340.6 243.3,342.1 243.6,342.1 243.9,339.1 244.2,341.1 244.5,341.0 244.9,338.9 245.2,340.7 245.5,342.3 245.8,340.8 246.1,339.4 246.4,339.9 246.7,340.3 247.0,341.4 247.3,340.6 247.6,340.7 247.9,340.7 248.2,341.3 248.6,342.7 248.9,342.5 249.2,340.8 249.5,341.1 249.8,343.0 250.1,341.1 250.4,340.1 250.7,338.9 251.0,337.7 251.3,338.9 251.6,339.8 251.9,341.7 252.3,342.9 252.6,341.8 252.9,341.3 253.2,342.1 253.5,342.7 253.8,342.3 254.1,335.1 254.4,328.4 254.7,323.8 255.0,318.6 255.3,312.5 255.7,307.1 256.0,301.9 256.3,297.0 256.6,290.6 256.9,282.8 257.2,287.8 257.5,292.4 257.8,296.3 258.1,298.6 258.4,301.9 258.7,307.4 259.0,310.9 259.4,311.7 259.7,312.2 260.0,314.2 260.3,316.1 260.6,318.2 260.9,321.5 261.2,323.5 261.5,325.0 261.8,325.9 262.1,326.6 262.4,327.2 262.7,327.1 263.1,329.5 263.4,329.6 263.7,328.2 264.0,330.5 264.3,331.5 264.6,330.5 264.9,331.3 265.2,331.7 265.5,331.8 265.8,332.0 266.1,332.4 266.4,333.7 266.8,333.8 267.1,333.4 267.4,333.9 267.7,335.1 268.0,336.2 268.3,336.4 268.6,336.5 268.9,336.2 269.2,335.9 269.5,336.3 269.8,336.6 270.1,336.6 270.5,335.5 270.8,334.9 271.1,336.7 271.4,337.5 271.7,337.4 272.0,337.9 272.3,338.0 272.6,338.5 272.9,339.5 273.2,341.0 273.5,339.9 273.8,337.2 274.2,338.1 274.5,338.8 274.8,338.4 275.1,338.7 275.4,339.1 275.7,339.6 276.0,339.1 276.3,340.8 276.6,340.7 276.9,339.0 277.2,341.1 277.5,340.6 277.9,338.7 278.2,339.1 278.5,338.9 278.8,339.4 279.1,340.6 279.4,340.6 279.7,340.2 280.0,338.1 280.3,336.4 280.6,338.6 280.9,340.4 281.2,339.8 281.6,339.0 281.9,339.9 282.2,341.1 282.5,339.1 282.8,337.5 283.1,340.3 283.4,342.5 283.7,342.0 284.0,340.4 284.3,339.4 284.6,339.8 284.9,341.6 285.3,341.1 285.6,339.4 285.9,339.6 286.2,340.5 286.5,340.1 286.8,339.7 287.1,341.1 287.4,341.0 287.7,341.1 288.0,340.5 288.3,339.1 288.6,340.6 289.0,340.9 289.3,339.1 289.6,341.0 289.9,342.1 290.2,339.1 290.5,340.2 290.8,341.7 291.1,341.6 291.4,341.5 291.7,342.3 292.0,343.5 292.4,342.0 292.7,335.5 293.0,329.7 293.3,324.3 293.6,318.6 293.9,313.3 294.2,308.5 294.5,304.7 294.8,300.2 295.1,291.8 295.4,284.8 295.7,291.0 296.1,296.1 296.4,299.5 296.7,303.6 297.0,305.7 297.3,308.3 297.6,312.3 297.9,312.4 298.2,315.9 298.5,319.2 298.8,320.5 299.1,322.8 299.4,322.9 299.8,323.9 300.1,324.8 300.4,326.1 300.7,327.3 301.0,328.5 301.3,329.6 301.6,330.5 301.9,330.3 302.2,330.9 302.5,331.4 302.8,331.3 303.1,332.6 303.5,331.8 303.8,331.9 304.1,334.7 304.4,334.8 304.7,335.9 305.0,336.5 305.3,334.8 305.6,336.4 305.9,336.3 306.2,335.7 306.5,334.4 306.8,334.7 307.2,335.0 307.5,333.7 307.8,336.0 308.1,337.9 308.4,336.5 308.7,336.1 309.0,337.2 309.3,337.5 309.6,338.7 309.9,338.9 310.2,338.8 310.5,339.9 310.9,339.5 311.2,336.9 311.5,335.5 311.8,337.1 312.1,338.3 312.4,338.0 312.7,337.1 313.0,337.3 313.3,338.9 313.6,339.5 313.9,338.3 314.2,336.0 314.6,337.4 314.9,341.2 315.2,340.1 315.5,338.6 315.8,339.2 316.1,338.2 316.4,338.3 316.7,340.4 317.0,342.1 317.3,341.1 317.6,340.5 317.9,340.3 318.3,340.4 318.6,340.9 318.9,341.1 319.2,341.2 319.5,340.4 319.8,339.7 320.1,338.3 320.4,338.9 320.7,340.7 321.0,339.0 321.3,338.1 321.6,339.2 322.0,339.0 322.3,338.3 322.6,338.0 322.9,338.7 323.2,338.9 323.5,340.1 323.8,341.3 324.1,340.7 324.4,340.1 324.7,340.0 325.0,339.9 325.3,339.9 325.7,340.5 326.0,341.8 326.3,340.8 326.6,339.1 326.9,340.5 327.2,340.6 327.5,339.5 327.8,339.9 328.1,341.7 328.4,342.7 328.7,341.8 329.0,339.5 329.4,339.7 329.7,341.3 330.0,341.5 330.3,341.6 330.6,340.5 330.9,341.8" fill="none" stroke="#3a3a3a" stroke-width="1.5" stroke-linejoin="round" />
<polyline points="99.6,341.7 99.9,341.2 100.2,338.7 100.5,339.7 100.8,338.9 101.1,337.5 101.5,340.2 101.8,341.1 102.1,338.3 102.4,338.7 102.7,340.0 103.0,338.5 103.3,338.5 103.6,340.3 103.9,340.7 104.2,340.8 104.5,339.7 104.8,340.0 105.2,339.6 105.5,339.5 105.8,340.3 106.1,340.1 106.4,340.4 106.7,338.2 107.0,337.0 107.3,336.7 107.6,337.7 107.9,338.8 108.2,338.5 108.5,338.0 108.9,338.5 109.2,338.1 109.5,337.4 109.8,337.4 110.1,337.2 110.4,337.6 110.7,338.6 111.0,339.6 111.3,340.0 111.6,339.9 111.9,338.9 112.2,337.9 112.6,338.8 112.9,336.7 113.2,335.7 113.5,337.4 113.8,336.4 114.1,339.7 114.4,340.8 114.7,337.3 115.0,339.1 115.3,339.7 115.6,338.4 115.9,339.5 116.3,338.4 116.6,339.6 116.9,339.6 117.2,338.6 117.5,339.4 117.8,338.2 118.1,334.5 118.4,334.8 118.7,337.3 119.0,337.6 119.3,338.7 119.6,338.4 120.0,336.5 120.3,336.5 120.6,337.0 120.9,337.4 121.2,335.9 121.5,337.1 121.8,338.8 122.1,336.9 122.4,337.1 122.7,338.6 123.0,339.8 123.3,339.0 123.7,337.9 124.0,338.7 124.3,339.7 124.6,338.1 124.9,336.3 125.2,337.3 125.5,338.7 125.8,338.9 126.1,336.1 126.4,335.0 126.7,337.2 127.0,336.7 127.4,334.7 127.7,334.5 128.0,337.7 128.3,338.8 128.6,337.9 128.9,338.1 129.2,338.8 129.5,338.8 129.8,338.7 130.1,338.0 130.4,337.0 130.7,338.5 131.1,340.0 131.4,339.2 131.7,337.1 132.0,336.2 132.3,336.9 132.6,340.1 132.9,340.5 133.2,338.2 133.5,338.1 133.8,338.5 134.1,338.5 134.4,338.0 134.8,335.3 135.1,334.1 135.4,336.6 135.7,337.2 136.0,337.1 136.3,336.9 136.6,337.1 136.9,337.3 137.2,336.0 137.5,335.3 137.8,335.9 138.1,335.4 138.5,329.4 138.8,325.2 139.1,320.8 139.4,314.4 139.7,306.8 140.0,299.7 140.3,292.6 140.6,287.3 140.9,282.8 141.2,275.5 141.5,276.1 141.9,279.3 142.2,282.1 142.5,282.4 142.8,284.3 143.1,287.3 143.4,291.0 143.7,291.4 144.0,290.5 144.3,293.0 144.6,295.3 144.9,297.8 145.2,298.7 145.6,298.9 145.9,298.9 146.2,300.9 146.5,301.6 146.8,301.5 147.1,302.6 147.4,304.4 147.7,305.9 148.0,304.8 148.3,305.7 148.6,308.8 148.9,309.9 149.3,308.8 149.6,310.4 149.9,312.7 150.2,311.8 150.5,312.0 150.8,312.1 151.1,312.8 151.4,315.5 151.7,315.6 152.0,313.2 152.3,313.7 152.6,315.4 153.0,314.8 153.3,316.0 153.6,315.7 153.9,315.0 154.2,315.9 154.5,317.9 154.8,320.1 155.1,321.4 155.4,320.3 155.7,318.4 156.0,317.9 156.3,316.6 156.7,317.8 157.0,319.5 157.3,319.2 157.6,317.8 157.9,319.2 158.2,320.2 158.5,319.9 158.8,320.9 159.1,320.2 159.4,320.8 159.7,322.6 160.0,321.5 160.4,320.8 160.7,321.8 161.0,322.0 161.3,321.5 161.6,321.9 161.9,321.8 162.2,321.3 162.5,320.8 162.8,320.2 163.1,320.9 163.4,322.3 163.7,323.1 164.1,323.5 164.4,321.3 164.7,321.1 165.0,323.2 165.3,321.9 165.6,323.7 165.9,325.7 166.2,325.0 166.5,325.2 166.8,326.1 167.1,325.7 167.4,323.6 167.8,322.6 168.1,323.8 168.4,324.5 168.7,326.1 169.0,325.6 169.3,323.8 169.6,325.5 169.9,325.7 170.2,325.0 170.5,325.7 170.8,326.5 171.1,326.7 171.5,326.7 171.8,325.8 172.1,324.7 172.4,324.9 172.7,325.4 173.0,326.1 173.3,324.3 173.6,325.6 173.9,326.4 174.2,324.5 174.5,325.5 174.8,326.3 175.2,326.6 175.5,327.3 175.8,328.3 176.1,327.4 176.4,327.7 176.7,326.9 177.0,318.3 177.3,315.7 177.6,311.8 177.9,302.3 178.2,294.5 178.6,288.4 178.9,282.0 179.2,275.2 179.5,268.5 179.8,261.4 180.1,263.9 180.4,266.5 180.7,269.6 181.0,272.0 181.3,273.1 181.6,273.2 181.9,271.5 182.3,273.5 182.6,277.9 182.9,279.6 183.2,279.6 183.5,280.3 183.8,280.4 184.1,280.7 184.4,284.9 184.7,285.4 185.0,284.4 185.3,286.9 185.6,286.0 186.0,286.4 186.3,289.6 186.6,291.2 186.9,290.6 187.2,289.3 187.5,288.6 187.8,290.1 188.1,292.4 188.4,291.4 188.7,291.9 189.0,292.5 189.3,292.4 189.7,294.0 190.0,294.8 190.3,295.2 190.6,295.8 190.9,297.1 191.2,297.2 191.5,297.6 191.8,297.6 192.1,297.3 192.4,298.1 192.7,298.7 193.0,299.0 193.4,297.7 193.7,297.8 194.0,300.1 194.3,300.7 194.6,299.9 194.9,300.1 195.2,301.1 195.5,301.4 195.8,301.4 196.1,301.1 196.4,301.1 196.7,303.1 197.1,304.6 197.4,305.7 197.7,304.4 198.0,301.3 198.3,301.1 198.6,302.2 198.9,302.5 199.2,302.9 199.5,304.2 199.8,305.7 200.1,306.5 200.4,305.9 200.8,304.6 201.1,302.8 201.4,304.2 201.7,305.5 202.0,305.0 202.3,306.2 202.6,308.1 202.9,308.2 203.2,308.2 203.5,307.9 203.8,307.0 204.1,307.0 204.5,307.2 204.8,306.8 205.1,307.6 205.4,307.4 205.7,308.2 206.0,309.0 206.3,307.4 206.6,308.2 206.9,310.1 207.2,309.0 207.5,308.3 207.8,308.3 208.2,307.2 208.5,308.0 208.8,308.8 209.1,308.1 209.4,307.9 209.7,309.6 210.0,309.9 210.3,308.8 210.6,308.8 210.9,309.3 211.2,309.7 211.5,310.0 211.9,310.8 212.2,312.1 212.5,310.4 212.8,309.8 213.1,310.7 213.4,311.5 213.7,311.7 214.0,311.2 214.3,308.9 214.6,309.1 214.9,312.6 215.2,311.0 215.6,303.8 215.9,301.0 216.2,296.3 216.5,288.3 216.8,284.2 217.1,279.0 217.4,273.0 217.7,269.0 218.0,263.4 218.3,257.6 218.6,259.7 219.0,258.4 219.3,258.6 219.6,262.1 219.9,261.9 220.2,262.1 220.5,262.5 220.8,263.4 221.1,264.9 221.4,265.2 221.7,266.0 222.0,266.8 222.3,267.6 222.7,266.6 223.0,267.6 223.3,270.0 223.6,270.2 223.9,269.7 224.2,269.6 224.5,269.7 224.8,271.7 225.1,272.7 225.4,272.1 225.7,273.0 226.0,273.1 226.4,275.0 226.7,275.3 227.0,273.8 227.3,275.7 227.6,276.3 227.9,274.1 228.2,274.7 228.5,275.9 228.8,276.1 229.1,277.7 229.4,278.6 229.7,278.6 230.1,277.0 230.4,276.3 230.7,278.3 231.0,278.5 231.3,278.3 231.6,280.1 231.9,279.9 232.2,280.4 232.5,282.4 232.8,280.8 233.1,281.3 233.4,282.2 233.8,282.2 234.1,283.0 234.4,282.1 234.7,282.7 235.0,284.7 235.3,284.7 235.6,283.1 235.9,284.0 236.2,284.3 236.5,282.9 236.8,283.7 237.1,284.6 237.5,285.2 237.8,285.3 238.1,284.0 238.4,282.4 238.7,282.4 239.0,284.4 239.3,284.1 239.6,285.6 239.9,286.1 240.2,285.9 240.5,287.5 240.8,286.3 241.2,285.8 241.5,285.8 241.8,287.4 242.1,288.5 242.4,287.9 242.7,288.5 243.0,289.9 243.3,289.0 243.6,287.4 243.9,289.2 244.2,290.7 244.5,290.8 244.9,288.6 245.2,288.1 245.5,289.7 245.8,289.4 246.1,289.3 246.4,289.6 246.7,289.2 247.0,289.2 247.3,289.2 247.6,290.7 247.9,291.5 248.2,290.9 248.6,291.0 248.9,290.9 249.2,291.7 249.5,292.1 249.8,290.9 250.1,291.2 250.4,293.1 250.7,292.3 251.0,290.5 251.3,291.4 251.6,292.2 251.9,292.8 252.3,293.2 252.6,291.7 252.9,290.9 253.2,291.9 253.5,292.9 253.8,294.5 254.1,290.1 254.4,284.5 254.7,280.0 255.0,274.8 255.3,271.6 255.7,268.6 256.0,266.0 256.3,262.0 256.6,256.4 256.9,252.4 257.2,253.8 257.5,255.6 257.8,255.9 258.1,257.6 258.4,259.0 258.7,258.2 259.0,259.9 259.4,262.3 259.7,261.7 260.0,261.0 260.3,261.1 260.6,261.0 260.9,262.4 261.2,263.0 261.5,261.6 261.8,262.4 262.1,263.8 262.4,264.6 262.7,263.8 263.1,261.4 263.4,263.4 263.7,264.5 264.0,262.8 264.3,264.0 264.6,265.2 264.9,265.7 265.2,266.2 265.5,265.3 265.8,264.2 266.1,264.3 266.4,264.3 266.8,264.3 267.1,266.1 267.4,265.2 267.7,263.3 268.0,265.2 268.3,264.8 268.6,263.9 268.9,265.4 269.2,264.2 269.5,266.5 269.8,269.6 270.1,267.0 270.5,265.9 270.8,267.4 271.1,266.0 271.4,264.9 271.7,267.3 272.0,268.4 272.3,266.6 272.6,264.7 272.9,267.1 273.2,268.5 273.5,267.2 273.8,269.0 274.2,268.9 274.5,268.8 274.8,269.2 275.1,266.6 275.4,265.8 275.7,266.5 276.0,266.5 276.3,267.0 276.6,266.7 276.9,268.1 277.2,269.3 277.5,267.6 277.9,268.0 278.2,269.2 278.5,267.6 278.8,266.0 279.1,267.6 279.4,269.7 279.7,268.7 280.0,267.9 280.3,269.0 280.6,268.8 280.9,267.8 281.2,268.3 281.6,266.3 281.9,265.3 282.2,267.2 282.5,267.5 282.8,265.7 283.1,265.7 283.4,268.9 283.7,269.6 284.0,269.0 284.3,269.8 284.6,269.7 284.9,269.1 285.3,269.4 285.6,270.1 285.9,269.4 286.2,270.4 286.5,270.4 286.8,269.1 287.1,269.6 287.4,271.7 287.7,270.6 288.0,270.1 288.3,272.3 288.6,270.3 289.0,270.1 289.3,271.1 289.6,272.5 289.9,272.6 290.2,270.6 290.5,269.7 290.8,270.1 291.1,270.6 291.4,270.0 291.7,270.8 292.0,271.8 292.4,269.7 292.7,267.7 293.0,266.2 293.3,263.3 293.6,261.1 293.9,259.6 294.2,258.3 294.5,255.4 294.8,254.0 295.1,251.9 295.4,250.3 295.7,251.2 296.1,251.5 296.4,251.3 296.7,251.5 297.0,253.8 297.3,254.4 297.6,253.6 297.9,254.4 298.2,253.5 298.5,252.7 298.8,253.3 299.1,254.5 299.4,255.8 299.8,254.5 300.1,255.5 300.4,256.2 300.7,255.1 301.0,256.0 301.3,256.1 301.6,256.7 301.9,256.7 302.2,256.9 302.5,258.3 302.8,256.2 303.1,255.7 303.5,258.8 303.8,257.5 304.1,256.4 304.4,260.3 304.7,259.7 305.0,256.0 305.3,255.7 305.6,255.1 305.9,255.5 306.2,256.5 306.5,257.3 306.8,257.7 307.2,255.6 307.5,255.3 307.8,256.5 308.1,258.7 308.4,259.2 308.7,258.6 309.0,257.7 309.3,257.2 309.6,257.6 309.9,257.8 310.2,256.6 310.5,256.7 310.9,258.3 311.2,255.0 311.5,255.0 311.8,258.0 312.1,257.7 312.4,256.1 312.7,255.9 313.0,258.5 313.3,259.0 313.6,259.2 313.9,257.8 314.2,255.9 314.6,257.9 314.9,257.4 315.2,256.6 315.5,258.2 315.8,257.3 316.1,256.5 316.4,259.4 316.7,258.0 317.0,255.2 317.3,255.3 317.6,256.2 317.9,258.1 318.3,257.7 318.6,255.4 318.9,255.5 319.2,255.7 319.5,257.1 319.8,257.6 320.1,256.2 320.4,258.3 320.7,260.5 321.0,259.9 321.3,258.4 321.6,257.4 322.0,257.7 322.3,258.2 322.6,258.1 322.9,258.0 323.2,257.4 323.5,257.0 323.8,257.6 324.1,257.8 324.4,258.2 324.7,257.7 325.0,257.8 325.3,257.0 325.7,256.6 326.0,257.8 326.3,258.5 326.6,259.0 326.9,258.2 327.2,257.9 327.5,258.6 327.8,259.6 328.1,259.1 328.4,257.9 328.7,257.5 329.0,256.6 329.4,257.3 329.7,260.1 330.0,260.0 330.3,259.9 330.6,260.8 330.9,258.4" fill="none" stroke="#ff0000" stroke-width="1.7" stroke-linejoin="round" />
<line x1="99.6" y1="213.4" x2="99.6" y2="368.4" stroke="#4d4d4d" stroke-width="1"/>
<line x1="95.0" y1="213.39999999999998" x2="99.6" y2="213.39999999999998" stroke="#4d4d4d" stroke-width="1"/>
<text x="89.4" y="216.9" font-size="9.8" text-anchor="end" font-weight="normal" fill="#231f20" >2.0</text>
<line x1="95.0" y1="244.39999999999998" x2="99.6" y2="244.39999999999998" stroke="#4d4d4d" stroke-width="1"/>
<text x="89.4" y="247.9" font-size="9.8" text-anchor="end" font-weight="normal" fill="#231f20" >1.5</text>
<line x1="95.0" y1="275.4" x2="99.6" y2="275.4" stroke="#4d4d4d" stroke-width="1"/>
<text x="89.4" y="278.9" font-size="9.8" text-anchor="end" font-weight="normal" fill="#231f20" >1.0</text>
<line x1="95.0" y1="306.4" x2="99.6" y2="306.4" stroke="#4d4d4d" stroke-width="1"/>
<text x="89.4" y="309.9" font-size="9.8" text-anchor="end" font-weight="normal" fill="#231f20" >0.5</text>
<line x1="95.0" y1="337.4" x2="99.6" y2="337.4" stroke="#4d4d4d" stroke-width="1"/>
<text x="89.4" y="340.9" font-size="9.8" text-anchor="end" font-weight="normal" fill="#231f20" >0</text>
<line x1="95.0" y1="368.4" x2="99.6" y2="368.4" stroke="#4d4d4d" stroke-width="1"/>
<line x1="99.6" y1="368.4" x2="330.9" y2="368.4" stroke="#4d4d4d" stroke-width="1"/>
<line x1="99.6" y1="368.4" x2="99.6" y2="373.0" stroke="#4d4d4d" stroke-width="1"/>
<text x="99.6" y="384.0" font-size="9.8" text-anchor="middle" font-weight="normal" fill="#231f20" >0</text>
<line x1="138.14999999999998" y1="368.4" x2="138.14999999999998" y2="373.0" stroke="#4d4d4d" stroke-width="1"/>
<text x="138.1" y="384.0" font-size="9.8" text-anchor="middle" font-weight="normal" fill="#231f20" >1</text>
<line x1="176.7" y1="368.4" x2="176.7" y2="373.0" stroke="#4d4d4d" stroke-width="1"/>
<text x="176.7" y="384.0" font-size="9.8" text-anchor="middle" font-weight="normal" fill="#231f20" >2</text>
<line x1="215.25" y1="368.4" x2="215.25" y2="373.0" stroke="#4d4d4d" stroke-width="1"/>
<text x="215.2" y="384.0" font-size="9.8" text-anchor="middle" font-weight="normal" fill="#231f20" >3</text>
<line x1="253.79999999999998" y1="368.4" x2="253.79999999999998" y2="373.0" stroke="#4d4d4d" stroke-width="1"/>
<text x="253.8" y="384.0" font-size="9.8" text-anchor="middle" font-weight="normal" fill="#231f20" >4</text>
<line x1="292.35" y1="368.4" x2="292.35" y2="373.0" stroke="#4d4d4d" stroke-width="1"/>
<text x="292.4" y="384.0" font-size="9.8" text-anchor="middle" font-weight="normal" fill="#231f20" >5</text>
<line x1="330.9" y1="368.4" x2="330.9" y2="373.0" stroke="#4d4d4d" stroke-width="1"/>
<text x="330.9" y="384.0" font-size="9.8" text-anchor="middle" font-weight="normal" fill="#231f20" >6</text>
<text transform="translate(68.8,290.6) rotate(-90)" font-size="11.5" text-anchor="middle" fill="#231f20">Δ<tspan font-style="italic">F</tspan>/<tspan font-style="italic">F</tspan><tspan font-size="7.6" dy="2.6">max</tspan></text>
<text x="215" y="399.6" font-size="11.1" text-anchor="middle" font-weight="normal" fill="#231f20" >Time (min)</text>
<line x1="104" y1="219" x2="115" y2="219" stroke="#111" stroke-width="1.9"/>
<line x1="104" y1="237" x2="115" y2="237" stroke="#ff0000" stroke-width="1.6"/>
<text x="121" y="222.3" font-size="11.3" text-anchor="start" font-weight="normal" fill="#231f20" >KLH45 with glucose</text>
<text x="121" y="240.3" font-size="11.3" text-anchor="start" font-weight="normal" fill="#231f20" >KLH45 with FA (PA)</text>
<text x="160" y="312.4" font-size="11" text-anchor="start" font-weight="normal" fill="#231f20" >ns</text>
<polygon points="208.50,290.90 209.21,292.78 211.21,292.87 209.64,294.12 210.18,296.06 208.50,294.95 206.82,296.06 207.36,294.12 205.79,292.87 207.79,292.78" fill="#231f20"/>
<polygon points="314.80,233.60 315.51,235.48 317.51,235.57 315.94,236.82 316.48,238.76 314.80,237.65 313.12,238.76 313.66,236.82 312.09,235.57 314.09,235.48" fill="#231f20"/>
<polygon points="320.80,233.60 321.51,235.48 323.51,235.57 321.94,236.82 322.48,238.76 320.80,237.65 319.12,238.76 319.66,236.82 318.09,235.57 320.09,235.48" fill="#231f20"/>
<polygon points="326.80,233.60 327.51,235.48 329.51,235.57 327.94,236.82 328.48,238.76 326.80,237.65 325.12,238.76 325.66,236.82 324.09,235.57 326.09,235.48" fill="#231f20"/>
<text x="94" y="427.4" font-size="11.3" text-anchor="end" font-weight="normal" fill="#231f20" >KLH45 (+ glucose)</text>
<text x="94" y="449" font-size="11.3" text-anchor="end" font-weight="normal" fill="#231f20" >KLH45 (+ PA)</text>
<text x="404.8" y="292" font-size="17" text-anchor="start" font-weight="bold" fill="#000" >d</text>
<polygon points="443.6,421.3 443.9,421.5 444.2,421.9 444.6,421.7 444.9,422.0 445.2,421.9 445.5,421.4 445.8,421.0 446.1,421.2 446.5,421.5 446.8,421.4 447.1,421.4 447.4,421.6 447.7,421.7 448.0,421.5 448.4,422.1 448.7,422.0 449.0,421.6 449.3,421.5 449.6,421.2 450.0,421.1 450.3,422.5 450.6,422.9 450.9,422.8 451.2,422.8 451.5,421.9 451.9,422.3 452.2,422.9 452.5,422.4 452.8,422.1 453.1,421.6 453.4,421.4 453.8,421.7 454.1,421.2 454.4,421.5 454.7,422.1 455.0,422.2 455.4,422.0 455.7,421.3 456.0,420.9 456.3,421.1 456.6,421.8 456.9,421.9 457.3,422.1 457.6,421.7 457.9,420.7 458.2,421.4 458.5,422.5 458.8,421.2 459.2,420.9 459.5,421.2 459.8,421.0 460.1,420.8 460.4,420.1 460.8,420.2 461.1,420.1 461.4,420.1 461.7,420.1 462.0,419.5 462.3,419.3 462.7,420.1 463.0,420.7 463.3,420.5 463.6,420.2 463.9,420.1 464.2,420.2 464.6,420.0 464.9,419.7 465.2,419.8 465.5,419.8 465.8,419.7 466.1,420.1 466.5,419.7 466.8,419.2 467.1,419.5 467.4,419.4 467.7,419.2 468.1,419.1 468.4,419.4 468.7,419.7 469.0,420.3 469.3,420.1 469.6,419.6 470.0,419.8 470.3,418.9 470.6,419.4 470.9,420.1 471.2,419.1 471.5,418.8 471.9,418.7 472.2,419.4 472.5,420.2 472.8,419.5 473.1,419.3 473.5,418.9 473.8,418.7 474.1,419.2 474.4,419.1 474.7,419.2 475.0,419.3 475.4,419.4 475.7,419.4 476.0,419.3 476.3,419.2 476.6,419.5 476.9,420.1 477.3,419.4 477.6,418.8 477.9,419.3 478.2,419.4 478.5,419.4 478.9,418.7 479.2,418.8 479.5,418.9 479.8,418.6 480.1,419.0 480.4,418.8 480.8,419.1 481.1,418.6 481.4,418.2 481.7,418.6 482.0,419.2 482.3,418.4 482.7,417.6 483.0,418.2 483.3,413.1 483.6,410.4 483.9,407.7 484.3,404.8 484.6,402.6 484.9,400.4 485.2,397.7 485.5,394.7 485.8,391.2 486.2,389.1 486.5,386.9 486.8,386.6 487.1,387.0 487.4,387.9 487.7,387.6 488.1,387.2 488.4,387.7 488.7,387.5 489.0,387.5 489.3,388.7 489.7,388.7 490.0,388.2 490.3,387.8 490.6,387.9 490.9,388.7 491.2,388.6 491.6,388.5 491.9,389.2 492.2,389.3 492.5,389.0 492.8,388.7 493.1,387.8 493.5,388.7 493.8,389.9 494.1,389.9 494.4,389.8 494.7,389.8 495.1,389.6 495.4,389.1 495.7,389.6 496.0,390.5 496.3,390.7 496.6,389.9 497.0,388.8 497.3,389.7 497.6,390.8 497.9,390.2 498.2,389.4 498.5,389.1 498.9,389.4 499.2,389.5 499.5,389.5 499.8,390.0 500.1,389.5 500.5,389.3 500.8,390.3 501.1,390.5 501.4,390.6 501.7,390.5 502.0,389.6 502.4,390.1 502.7,390.1 503.0,389.0 503.3,389.2 503.6,390.3 503.9,390.7 504.3,390.4 504.6,390.6 504.9,390.9 505.2,390.6 505.5,390.2 505.8,389.9 506.2,390.3 506.5,389.8 506.8,389.1 507.1,389.4 507.4,390.0 507.8,389.7 508.1,389.6 508.4,389.6 508.7,389.1 509.0,390.0 509.3,390.5 509.7,389.6 510.0,389.1 510.3,389.7 510.6,390.0 510.9,389.9 511.2,390.2 511.6,390.3 511.9,390.3 512.2,390.3 512.5,390.0 512.8,390.1 513.2,390.0 513.5,389.7 513.8,389.6 514.1,389.4 514.4,389.2 514.7,389.3 515.1,389.4 515.4,389.7 515.7,389.7 516.0,390.0 516.3,390.2 516.6,389.6 517.0,389.6 517.3,389.7 517.6,390.0 517.9,389.7 518.2,389.5 518.6,389.8 518.9,389.6 519.2,389.4 519.5,389.5 519.8,390.1 520.1,390.6 520.5,390.4 520.8,390.1 521.1,389.8 521.4,388.9 521.7,389.8 522.0,390.7 522.4,389.9 522.7,389.0 523.0,388.5 523.3,387.1 523.6,385.3 524.0,383.4 524.3,381.3 524.6,379.5 524.9,378.7 525.2,377.3 525.5,375.1 525.9,373.4 526.2,371.8 526.5,371.7 526.8,371.9 527.1,371.5 527.4,371.4 527.8,372.1 528.1,372.2 528.4,371.8 528.7,370.9 529.0,370.8 529.4,371.0 529.7,371.0 530.0,372.2 530.3,372.2 530.6,371.8 530.9,372.4 531.3,372.5 531.6,371.4 531.9,371.6 532.2,372.4 532.5,371.5 532.8,371.1 533.2,372.0 533.5,372.3 533.8,371.9 534.1,371.9 534.4,371.5 534.8,371.6 535.1,372.0 535.4,371.3 535.7,371.8 536.0,372.4 536.3,371.6 536.7,371.9 537.0,372.3 537.3,372.3 537.6,372.0 537.9,371.8 538.2,371.6 538.6,371.0 538.9,371.3 539.2,371.7 539.5,371.7 539.8,371.5 540.2,372.0 540.5,371.6 540.8,371.1 541.1,371.2 541.4,371.8 541.7,371.7 542.1,370.6 542.4,370.6 542.7,371.8 543.0,372.0 543.3,371.5 543.6,371.5 544.0,371.5 544.3,371.4 544.6,371.5 544.9,371.6 545.2,371.6 545.5,371.7 545.9,371.1 546.2,371.3 546.5,371.4 546.8,371.5 547.1,371.8 547.5,371.6 547.8,371.1 548.1,371.2 548.4,371.2 548.7,371.4 549.0,371.9 549.4,371.1 549.7,370.8 550.0,371.4 550.3,372.1 550.6,371.4 550.9,371.4 551.3,371.5 551.6,371.3 551.9,371.4 552.2,370.5 552.5,369.9 552.9,370.4 553.2,371.4 553.5,371.6 553.8,371.1 554.1,371.2 554.4,370.8 554.8,371.3 555.1,371.6 555.4,371.0 555.7,371.3 556.0,370.8 556.3,371.0 556.7,371.5 557.0,371.1 557.3,371.8 557.6,372.3 557.9,371.9 558.3,371.1 558.6,370.5 558.9,370.5 559.2,370.7 559.5,371.7 559.8,371.7 560.2,371.1 560.5,370.8 560.8,370.1 561.1,369.8 561.4,370.0 561.7,370.4 562.1,371.0 562.4,371.2 562.7,373.0 563.0,370.6 563.3,368.6 563.7,366.9 564.0,364.8 564.3,362.8 564.6,360.3 564.9,358.3 565.2,356.4 565.6,354.5 565.9,352.1 566.2,351.8 566.5,351.9 566.8,350.9 567.1,351.9 567.5,352.9 567.8,352.1 568.1,351.3 568.4,351.3 568.7,351.5 569.1,351.6 569.4,351.5 569.7,351.6 570.0,351.4 570.3,352.0 570.6,352.9 571.0,351.2 571.3,350.5 571.6,351.3 571.9,350.6 572.2,349.9 572.5,350.3 572.9,350.7 573.2,350.9 573.5,350.5 573.8,351.3 574.1,351.2 574.5,350.7 574.8,350.4 575.1,349.9 575.4,350.5 575.7,351.1 576.0,350.8 576.4,350.4 576.7,350.5 577.0,350.8 577.3,350.4 577.6,350.2 577.9,350.0 578.3,350.0 578.6,350.7 578.9,351.4 579.2,350.8 579.5,350.3 579.9,350.6 580.2,350.6 580.5,351.0 580.8,351.0 581.1,351.3 581.4,351.3 581.8,350.7 582.1,349.9 582.4,349.5 582.7,350.1 583.0,350.2 583.3,349.9 583.7,350.2 584.0,350.5 584.3,350.3 584.6,349.4 584.9,349.2 585.2,350.7 585.6,350.4 585.9,348.9 586.2,349.5 586.5,349.1 586.8,348.8 587.2,349.6 587.5,349.8 587.8,350.2 588.1,350.4 588.4,350.7 588.7,351.0 589.1,350.2 589.4,349.8 589.7,350.1 590.0,349.5 590.3,349.9 590.6,350.0 591.0,349.7 591.3,349.9 591.6,349.8 591.9,349.6 592.2,350.0 592.6,350.4 592.9,350.4 593.2,349.8 593.5,349.1 593.8,348.6 594.1,348.9 594.5,349.1 594.8,349.1 595.1,349.1 595.4,349.0 595.7,349.3 596.0,349.4 596.4,349.5 596.7,348.7 597.0,349.1 597.3,349.8 597.6,349.5 598.0,349.2 598.3,348.4 598.6,348.8 598.9,350.3 599.2,350.0 599.5,348.8 599.9,349.6 600.2,349.9 600.5,349.3 600.8,350.0 601.1,349.7 601.4,348.7 601.8,348.9 602.1,349.4 602.4,347.3 602.7,345.5 603.0,343.4 603.4,341.8 603.7,339.7 604.0,337.5 604.3,337.1 604.6,334.9 604.9,332.4 605.3,331.4 605.6,329.7 605.9,330.2 606.2,330.2 606.5,330.4 606.8,330.8 607.2,329.5 607.5,328.7 607.8,329.3 608.1,330.0 608.4,329.6 608.8,329.3 609.1,329.5 609.4,329.3 609.7,329.8 610.0,329.7 610.3,330.1 610.7,329.8 611.0,329.6 611.3,330.4 611.6,330.0 611.9,329.6 612.2,329.1 612.6,329.2 612.9,329.3 613.2,329.3 613.5,329.5 613.8,330.3 614.2,331.1 614.5,331.2 614.8,330.4 615.1,329.7 615.4,329.7 615.7,329.6 616.1,329.6 616.4,330.0 616.7,330.5 617.0,330.8 617.3,329.8 617.6,328.9 618.0,329.8 618.3,330.2 618.6,329.5 618.9,328.9 619.2,329.3 619.6,329.8 619.9,329.1 620.2,329.8 620.5,330.5 620.8,329.9 621.1,329.9 621.5,329.1 621.8,328.6 622.1,329.2 622.4,329.9 622.7,329.6 623.0,329.1 623.4,329.6 623.7,329.9 624.0,330.3 624.3,330.1 624.6,329.3 624.9,329.0 625.3,329.1 625.6,329.1 625.9,329.5 626.2,330.0 626.5,329.4 626.9,329.0 627.2,329.7 627.5,329.7 627.8,329.1 628.1,329.1 628.4,329.3 628.8,329.8 629.1,329.7 629.4,328.9 629.7,329.0 630.0,329.8 630.3,329.7 630.7,329.9 631.0,330.0 631.3,329.6 631.6,329.4 631.9,329.2 632.3,329.2 632.6,328.5 632.9,328.9 633.2,330.0 633.5,329.7 633.8,329.5 634.2,329.6 634.5,329.8 634.8,329.6 635.1,329.4 635.4,330.3 635.7,330.4 636.1,329.6 636.4,329.1 636.7,329.4 637.0,330.1 637.3,329.5 637.7,329.4 638.0,329.8 638.3,329.4 638.6,329.2 638.9,329.4 639.2,330.0 639.6,329.7 639.9,329.4 640.2,329.9 640.5,329.1 640.8,328.6 641.1,329.7 641.5,330.1 641.8,329.9 642.1,324.3 642.4,323.6 642.7,321.7 643.1,319.5 643.4,318.3 643.7,317.4 644.0,316.1 644.3,314.4 644.6,313.6 645.0,312.6 645.3,311.1 645.6,310.4 645.9,309.9 646.2,310.3 646.5,310.4 646.9,309.1 647.2,309.0 647.5,309.3 647.8,309.0 648.1,308.4 648.5,308.0 648.8,308.4 649.1,308.6 649.4,308.4 649.7,307.6 650.0,307.1 650.4,307.7 650.7,307.2 651.0,306.7 651.3,307.5 651.6,307.2 651.9,306.9 652.3,307.1 652.6,306.9 652.9,306.7 653.2,306.5 653.5,306.9 653.9,306.5 654.2,306.0 654.5,305.6 654.8,305.1 655.1,305.2 655.4,305.3 655.8,304.9 656.1,305.0 656.4,305.7 656.7,305.3 657.0,305.8 657.3,306.0 657.7,304.9 658.0,304.8 658.3,304.3 658.6,303.9 658.9,304.2 659.3,304.4 659.6,304.0 659.9,304.0 660.2,304.4 660.5,303.9 660.8,303.4 661.2,302.9 661.5,303.1 661.8,304.3 662.1,303.9 662.4,302.8 662.7,303.0 663.1,302.8 663.4,302.0 663.7,302.7 664.0,303.4 664.3,303.5 664.6,303.0 665.0,302.3 665.3,302.2 665.6,302.7 665.9,303.1 666.2,303.1 666.6,303.3 666.9,303.2 667.2,303.1 667.5,302.6 667.8,301.8 668.1,301.5 668.5,301.5 668.8,301.9 669.1,301.8 669.4,301.3 669.7,301.3 670.0,301.4 670.4,301.3 670.7,301.4 671.0,301.2 671.3,301.3 671.6,300.9 672.0,300.9 672.3,301.1 672.6,300.9 672.9,300.5 673.2,299.6 673.5,300.3 673.9,300.7 674.2,300.7 674.5,300.5 674.8,299.9 675.1,298.9 675.4,299.4 675.8,299.8 676.1,299.4 676.4,299.6 676.7,299.1 677.0,298.9 677.4,298.9 677.7,299.1 678.0,299.2 678.3,299.0 678.6,298.5 678.9,298.9 679.3,299.4 679.6,299.3 679.9,299.3 680.2,299.1 680.5,298.3 680.8,297.2 681.2,297.0 681.5,298.1 681.8,298.4 681.8,329.9 681.5,329.9 681.2,330.3 680.8,331.0 680.5,331.4 680.2,331.0 679.9,330.5 679.6,330.5 679.3,330.5 678.9,330.5 678.6,330.0 678.3,330.0 678.0,330.5 677.7,330.8 677.4,331.0 677.0,330.7 676.7,330.3 676.4,330.3 676.1,330.7 675.8,331.4 675.4,331.4 675.1,331.0 674.8,330.8 674.5,330.4 674.2,330.4 673.9,331.2 673.5,331.1 673.2,330.9 672.9,331.3 672.6,330.9 672.3,331.0 672.0,331.5 671.6,330.7 671.3,331.0 671.0,331.7 670.7,331.4 670.4,331.6 670.0,332.0 669.7,331.9 669.4,332.0 669.1,331.5 668.8,330.9 668.5,331.9 668.1,332.5 667.8,332.1 667.5,331.3 667.2,331.5 666.9,332.4 666.6,332.1 666.2,331.4 665.9,332.4 665.6,332.6 665.3,332.3 665.0,332.4 664.6,332.3 664.3,332.8 664.0,332.6 663.7,332.1 663.4,332.2 663.1,331.8 662.7,331.4 662.4,332.0 662.1,332.3 661.8,332.6 661.5,333.3 661.2,332.5 660.8,333.0 660.5,333.6 660.2,333.0 659.9,332.7 659.6,332.9 659.3,332.6 658.9,332.8 658.6,332.9 658.3,332.5 658.0,333.0 657.7,333.0 657.3,333.2 657.0,333.3 656.7,333.3 656.4,333.5 656.1,333.6 655.8,333.8 655.4,333.2 655.1,333.2 654.8,333.8 654.5,333.6 654.2,333.4 653.9,333.9 653.5,333.4 653.2,333.0 652.9,333.2 652.6,333.2 652.3,333.4 651.9,334.1 651.6,333.5 651.3,333.5 651.0,333.9 650.7,333.6 650.4,333.6 650.0,333.3 649.7,333.3 649.4,333.4 649.1,333.3 648.8,333.4 648.5,333.3 648.1,332.9 647.8,332.8 647.5,333.3 647.2,332.5 646.9,331.4 646.5,332.8 646.2,333.4 645.9,332.1 645.6,331.8 645.3,331.5 645.0,332.7 644.6,335.1 644.3,337.6 644.0,339.5 643.7,341.3 643.4,342.8 643.1,344.4 642.7,346.3 642.4,348.8 642.1,350.5 641.8,344.5 641.5,344.9 641.1,344.9 640.8,345.3 640.5,345.3 640.2,344.5 639.9,344.1 639.6,344.5 639.2,345.0 638.9,344.8 638.6,344.2 638.3,344.3 638.0,344.8 637.7,344.6 637.3,345.0 637.0,345.5 636.7,344.8 636.4,344.5 636.1,344.5 635.7,344.6 635.4,344.8 635.1,344.8 634.8,345.3 634.5,345.3 634.2,344.9 633.8,344.7 633.5,344.9 633.2,345.1 632.9,345.0 632.6,345.0 632.3,344.7 631.9,344.4 631.6,345.2 631.3,345.7 631.0,345.8 630.7,346.2 630.3,345.5 630.0,345.3 629.7,345.0 629.4,344.4 629.1,344.7 628.8,344.5 628.4,344.4 628.1,344.6 627.8,345.0 627.5,344.6 627.2,344.2 626.9,344.9 626.5,345.4 626.2,345.3 625.9,344.9 625.6,344.6 625.3,344.5 624.9,345.0 624.6,344.6 624.3,344.2 624.0,344.7 623.7,344.8 623.4,345.0 623.0,345.0 622.7,344.6 622.4,344.5 622.1,345.3 621.8,345.5 621.5,345.1 621.1,345.1 620.8,345.0 620.5,344.5 620.2,344.2 619.9,344.1 619.6,344.5 619.2,344.8 618.9,344.7 618.6,344.9 618.3,344.4 618.0,344.1 617.6,344.7 617.3,344.4 617.0,344.7 616.7,345.2 616.4,345.5 616.1,345.0 615.7,344.3 615.4,344.6 615.1,344.5 614.8,344.6 614.5,345.2 614.2,344.8 613.8,344.6 613.5,345.1 613.2,345.3 612.9,345.4 612.6,345.0 612.2,344.6 611.9,344.6 611.6,344.2 611.3,344.1 611.0,344.7 610.7,344.3 610.3,344.1 610.0,344.4 609.7,344.8 609.4,344.5 609.1,344.0 608.8,343.7 608.4,343.7 608.1,343.7 607.8,343.3 607.5,343.6 607.2,344.1 606.8,343.9 606.5,343.0 606.2,342.3 605.9,342.6 605.6,343.0 605.3,345.0 604.9,346.8 604.6,348.2 604.3,349.9 604.0,352.4 603.7,354.5 603.4,356.0 603.0,358.2 602.7,361.1 602.4,362.6 602.1,359.4 601.8,359.4 601.4,359.6 601.1,359.1 600.8,358.7 600.5,359.3 600.2,360.1 599.9,360.0 599.5,360.2 599.2,360.3 598.9,359.4 598.6,359.7 598.3,359.8 598.0,360.2 597.6,361.1 597.3,360.4 597.0,359.8 596.7,360.1 596.4,360.2 596.0,360.6 595.7,360.7 595.4,360.4 595.1,360.6 594.8,360.6 594.5,359.4 594.1,359.7 593.8,361.0 593.5,360.4 593.2,359.8 592.9,360.3 592.6,359.9 592.2,360.2 591.9,360.8 591.6,360.4 591.3,360.3 591.0,361.0 590.6,361.0 590.3,361.2 590.0,361.6 589.7,361.1 589.4,360.0 589.1,359.6 588.7,360.1 588.4,360.4 588.1,360.3 587.8,359.7 587.5,360.7 587.2,361.1 586.8,360.8 586.5,360.9 586.2,359.8 585.9,359.9 585.6,360.5 585.2,360.1 584.9,360.9 584.6,360.8 584.3,360.2 584.0,360.7 583.7,361.5 583.3,361.3 583.0,361.2 582.7,360.5 582.4,360.1 582.1,360.8 581.8,360.5 581.4,360.9 581.1,361.5 580.8,360.7 580.5,360.6 580.2,361.3 579.9,361.5 579.5,361.2 579.2,360.5 578.9,360.6 578.6,361.2 578.3,360.9 577.9,361.5 577.6,361.7 577.3,361.4 577.0,361.5 576.7,360.9 576.4,361.5 576.0,361.7 575.7,360.4 575.4,360.9 575.1,360.9 574.8,360.4 574.5,360.4 574.1,360.8 573.8,361.1 573.5,360.3 573.2,361.0 572.9,361.4 572.5,360.9 572.2,360.9 571.9,360.9 571.6,361.1 571.3,361.2 571.0,360.5 570.6,360.3 570.3,361.1 570.0,361.3 569.7,360.3 569.4,360.1 569.1,360.2 568.7,360.0 568.4,360.0 568.1,359.9 567.8,360.1 567.5,359.6 567.1,359.2 566.8,359.3 566.5,359.3 566.2,359.5 565.9,358.8 565.6,361.6 565.2,364.4 564.9,366.1 564.6,368.1 564.3,370.8 564.0,373.0 563.7,375.2 563.3,378.2 563.0,380.8 562.7,382.7 562.4,384.9 562.1,385.9 561.7,385.7 561.4,385.6 561.1,384.8 560.8,384.0 560.5,383.9 560.2,384.4 559.8,384.7 559.5,384.5 559.2,385.2 558.9,385.7 558.6,385.7 558.3,385.1 557.9,384.8 557.6,386.2 557.3,386.8 557.0,386.4 556.7,385.8 556.3,384.6 556.0,385.0 555.7,385.8 555.4,385.2 555.1,385.1 554.8,385.2 554.4,385.3 554.1,384.8 553.8,384.9 553.5,384.9 553.2,384.8 552.9,384.8 552.5,385.0 552.2,384.8 551.9,384.1 551.6,384.8 551.3,385.6 550.9,385.6 550.6,385.1 550.3,384.8 550.0,384.8 549.7,384.7 549.4,384.5 549.0,383.8 548.7,384.4 548.4,385.4 548.1,385.1 547.8,385.7 547.5,386.3 547.1,385.2 546.8,384.9 546.5,385.4 546.2,385.5 545.9,385.7 545.5,385.8 545.2,385.6 544.9,385.1 544.6,385.2 544.3,385.1 544.0,385.0 543.6,385.7 543.3,385.6 543.0,385.1 542.7,384.8 542.4,385.0 542.1,385.1 541.7,384.8 541.4,384.5 541.1,384.1 540.8,384.0 540.5,383.7 540.2,384.3 539.8,385.0 539.5,384.9 539.2,384.6 538.9,384.8 538.6,384.5 538.2,384.6 537.9,385.0 537.6,384.3 537.3,384.9 537.0,384.8 536.7,384.5 536.3,384.4 536.0,384.0 535.7,383.8 535.4,383.2 535.1,383.1 534.8,383.4 534.4,382.3 534.1,382.7 533.8,384.0 533.5,383.3 533.2,382.7 532.8,383.2 532.5,383.3 532.2,382.8 531.9,383.0 531.6,382.6 531.3,381.8 530.9,381.7 530.6,381.9 530.3,381.9 530.0,382.3 529.7,382.2 529.4,381.6 529.0,382.1 528.7,382.1 528.4,380.9 528.1,380.2 527.8,379.5 527.4,378.8 527.1,379.5 526.8,379.5 526.5,379.3 526.2,378.7 525.9,380.2 525.5,382.9 525.2,385.5 524.9,388.1 524.6,390.8 524.3,393.6 524.0,396.1 523.6,398.1 523.3,400.5 523.0,403.4 522.7,403.1 522.4,403.1 522.0,402.5 521.7,402.1 521.4,402.2 521.1,402.1 520.8,402.7 520.5,402.9 520.1,403.2 519.8,403.0 519.5,402.3 519.2,402.6 518.9,402.8 518.6,402.4 518.2,402.2 517.9,402.8 517.6,402.8 517.3,402.6 517.0,402.2 516.6,402.0 516.3,403.1 516.0,403.0 515.7,403.1 515.4,402.9 515.1,402.1 514.7,403.1 514.4,402.7 514.1,402.3 513.8,402.8 513.5,403.3 513.2,403.7 512.8,403.2 512.5,402.9 512.2,402.7 511.9,401.4 511.6,401.6 511.2,403.3 510.9,403.2 510.6,403.1 510.3,402.7 510.0,402.0 509.7,402.5 509.3,403.2 509.0,403.0 508.7,402.3 508.4,402.3 508.1,402.6 507.8,402.8 507.4,402.4 507.1,401.6 506.8,401.1 506.5,401.3 506.2,402.2 505.8,401.7 505.5,401.3 505.2,401.4 504.9,401.3 504.6,401.7 504.3,401.9 503.9,401.8 503.6,401.1 503.3,400.8 503.0,401.1 502.7,401.4 502.4,401.5 502.0,400.6 501.7,400.8 501.4,402.0 501.1,400.9 500.8,400.1 500.5,400.7 500.1,400.3 499.8,400.9 499.5,401.3 499.2,400.8 498.9,401.3 498.5,400.3 498.2,399.8 497.9,400.4 497.6,400.4 497.3,399.8 497.0,399.0 496.6,399.0 496.3,398.8 496.0,398.2 495.7,398.7 495.4,398.5 495.1,397.4 494.7,397.7 494.4,398.6 494.1,399.0 493.8,399.0 493.5,397.8 493.1,396.7 492.8,395.9 492.5,396.6 492.2,397.1 491.9,396.5 491.6,396.3 491.2,396.1 490.9,396.2 490.6,395.7 490.3,395.5 490.0,395.1 489.7,394.0 489.3,393.7 489.0,393.7 488.7,394.0 488.4,393.2 488.1,391.9 487.7,392.2 487.4,392.1 487.1,392.0 486.8,391.0 486.5,389.8 486.2,393.2 485.8,397.5 485.5,401.5 485.2,404.5 484.9,408.6 484.6,412.3 484.3,415.5 483.9,419.3 483.6,422.6 483.3,426.5 483.0,420.4 482.7,419.9 482.3,420.7 482.0,421.1 481.7,421.2 481.4,420.7 481.1,420.7 480.8,421.5 480.4,421.5 480.1,421.2 479.8,421.0 479.5,421.0 479.2,420.8 478.9,420.8 478.5,421.1 478.2,420.5 477.9,420.8 477.6,421.3 477.3,421.3 476.9,421.5 476.6,421.3 476.3,421.1 476.0,421.1 475.7,421.2 475.4,421.5 475.0,421.3 474.7,421.2 474.4,421.9 474.1,421.7 473.8,420.8 473.5,421.1 473.1,421.7 472.8,421.7 472.5,421.7 472.2,422.1 471.9,421.9 471.5,421.8 471.2,422.0 470.9,421.2 470.6,421.3 470.3,422.0 470.0,422.1 469.6,422.2 469.3,421.5 469.0,421.4 468.7,421.6 468.4,422.2 468.1,422.3 467.7,421.2 467.4,420.8 467.1,421.7 466.8,422.0 466.5,422.4 466.1,422.5 465.8,421.8 465.5,422.1 465.2,421.6 464.9,421.5 464.6,421.9 464.2,422.4 463.9,422.6 463.6,421.7 463.3,422.0 463.0,421.9 462.7,421.4 462.3,421.8 462.0,421.7 461.7,421.9 461.4,422.2 461.1,422.3 460.8,422.4 460.4,422.6 460.1,422.4 459.8,422.7 459.5,422.7 459.2,422.9 458.8,423.3 458.5,423.1 458.2,423.2 457.9,423.4 457.6,423.8 457.3,423.6 456.9,423.5 456.6,423.4 456.3,423.9 456.0,423.9 455.7,424.4 455.4,424.3 455.0,423.7 454.7,424.1 454.4,424.0 454.1,424.4 453.8,424.2 453.4,424.0 453.1,423.7 452.8,423.5 452.5,423.6 452.2,423.4 451.9,424.0 451.5,424.3 451.2,424.8 450.9,425.3 450.6,424.6 450.3,424.4 450.0,424.2 449.6,423.6 449.3,423.3 449.0,423.8 448.7,424.1 448.4,423.4 448.0,423.2 447.7,423.5 447.4,423.7 447.1,423.3 446.8,422.9 446.5,423.4 446.1,424.2 445.8,424.8 445.5,424.2 445.2,423.2 444.9,423.0 444.6,422.8 444.2,422.9 443.9,423.7 443.6,423.9" fill="#ffcccc" fill-opacity="1.0" stroke="none"/>
<polygon points="443.6,419.3 443.9,420.1 444.2,419.4 444.6,419.6 444.9,420.0 445.2,419.3 445.5,420.2 445.8,420.1 446.1,419.8 446.5,419.6 446.8,419.8 447.1,420.5 447.4,419.9 447.7,419.8 448.0,418.9 448.4,419.3 448.7,419.7 449.0,420.1 449.3,419.7 449.6,420.2 450.0,419.7 450.3,419.7 450.6,419.9 450.9,419.7 451.2,419.9 451.5,420.0 451.9,419.3 452.2,419.6 452.5,419.9 452.8,420.1 453.1,419.8 453.4,419.6 453.8,419.5 454.1,419.3 454.4,419.7 454.7,420.2 455.0,419.2 455.4,419.4 455.7,419.6 456.0,419.4 456.3,420.3 456.6,420.0 456.9,420.0 457.3,419.5 457.6,420.2 457.9,420.0 458.2,419.4 458.5,419.6 458.8,420.0 459.2,419.2 459.5,420.3 459.8,419.7 460.1,419.9 460.4,419.7 460.8,420.0 461.1,420.2 461.4,419.8 461.7,420.3 462.0,419.7 462.3,420.0 462.7,419.6 463.0,420.0 463.3,420.1 463.6,419.8 463.9,419.5 464.2,420.6 464.6,419.9 464.9,419.7 465.2,420.4 465.5,420.2 465.8,419.7 466.1,420.2 466.5,420.1 466.8,419.4 467.1,420.2 467.4,420.2 467.7,420.7 468.1,420.3 468.4,420.3 468.7,419.4 469.0,419.5 469.3,420.4 469.6,419.3 470.0,419.7 470.3,420.0 470.6,419.7 470.9,419.8 471.2,420.2 471.5,420.5 471.9,420.3 472.2,420.0 472.5,420.1 472.8,420.2 473.1,419.7 473.5,420.3 473.8,419.7 474.1,420.1 474.4,420.0 474.7,420.4 475.0,420.0 475.4,420.3 475.7,420.6 476.0,420.0 476.3,420.0 476.6,419.7 476.9,419.9 477.3,420.3 477.6,420.2 477.9,420.8 478.2,420.4 478.5,419.6 478.9,419.5 479.2,419.8 479.5,419.9 479.8,419.8 480.1,419.9 480.4,420.6 480.8,420.3 481.1,419.7 481.4,419.7 481.7,420.0 482.0,420.2 482.3,420.2 482.7,420.2 483.0,420.4 483.3,420.7 483.6,416.7 483.9,413.6 484.3,410.2 484.6,406.2 484.9,403.2 485.2,400.3 485.5,396.6 485.8,394.0 486.2,389.8 486.5,386.7 486.8,389.8 487.1,392.3 487.4,394.4 487.7,397.1 488.1,399.2 488.4,400.0 488.7,402.2 489.0,403.2 489.3,405.2 489.7,406.0 490.0,407.4 490.3,407.9 490.6,409.1 490.9,410.1 491.2,410.1 491.6,411.1 491.9,412.5 492.2,412.5 492.5,413.3 492.8,413.9 493.1,414.1 493.5,414.5 493.8,414.7 494.1,415.3 494.4,416.0 494.7,415.9 495.1,415.7 495.4,416.7 495.7,416.3 496.0,416.6 496.3,417.1 496.6,417.0 497.0,417.6 497.3,417.6 497.6,418.0 497.9,417.6 498.2,417.5 498.5,418.3 498.9,417.8 499.2,419.0 499.5,418.7 499.8,418.9 500.1,418.1 500.5,418.9 500.8,418.6 501.1,419.6 501.4,419.0 501.7,418.9 502.0,419.2 502.4,420.1 502.7,419.2 503.0,419.1 503.3,419.0 503.6,419.3 503.9,420.1 504.3,419.6 504.6,419.3 504.9,419.9 505.2,419.5 505.5,419.9 505.8,419.7 506.2,419.5 506.5,420.0 506.8,418.9 507.1,419.8 507.4,419.8 507.8,420.2 508.1,419.9 508.4,420.1 508.7,420.5 509.0,420.5 509.3,419.9 509.7,420.1 510.0,421.0 510.3,420.8 510.6,420.2 510.9,420.1 511.2,419.9 511.6,420.6 511.9,420.0 512.2,420.3 512.5,420.4 512.8,420.2 513.2,419.9 513.5,420.0 513.8,419.9 514.1,420.5 514.4,420.3 514.7,420.6 515.1,420.4 515.4,420.4 515.7,420.4 516.0,420.0 516.3,420.1 516.6,420.0 517.0,420.3 517.3,420.0 517.6,420.3 517.9,420.0 518.2,420.2 518.6,420.1 518.9,420.4 519.2,420.7 519.5,420.8 519.8,419.7 520.1,420.2 520.5,420.2 520.8,420.4 521.1,420.5 521.4,419.4 521.7,420.7 522.0,420.4 522.4,420.4 522.7,420.7 523.0,420.8 523.3,417.4 523.6,414.2 524.0,411.1 524.3,407.5 524.6,405.0 524.9,401.3 525.2,397.8 525.5,394.8 525.9,392.3 526.2,389.8 526.5,391.4 526.8,394.0 527.1,396.6 527.4,398.1 527.8,400.5 528.1,401.9 528.4,403.8 528.7,404.7 529.0,406.2 529.4,407.3 529.7,407.8 530.0,409.0 530.3,410.4 530.6,410.5 530.9,411.1 531.3,412.3 531.6,412.8 531.9,413.2 532.2,413.8 532.5,414.1 532.8,414.3 533.2,415.1 533.5,414.6 533.8,415.9 534.1,416.1 534.4,415.6 534.8,415.7 535.1,416.8 535.4,417.1 535.7,417.6 536.0,417.0 536.3,417.6 536.7,418.1 537.0,417.8 537.3,417.7 537.6,418.0 537.9,417.7 538.2,418.1 538.6,418.5 538.9,418.8 539.2,418.7 539.5,418.6 539.8,418.8 540.2,418.8 540.5,419.2 540.8,419.1 541.1,419.0 541.4,419.5 541.7,420.0 542.1,419.0 542.4,419.5 542.7,419.9 543.0,419.7 543.3,419.9 543.6,420.4 544.0,420.0 544.3,420.4 544.6,419.9 544.9,420.1 545.2,419.7 545.5,420.2 545.9,420.0 546.2,420.3 546.5,420.3 546.8,420.7 547.1,419.9 547.5,420.2 547.8,420.5 548.1,420.3 548.4,420.5 548.7,420.6 549.0,420.3 549.4,420.0 549.7,420.5 550.0,420.9 550.3,420.7 550.6,419.9 550.9,420.8 551.3,420.1 551.6,420.6 551.9,420.3 552.2,420.6 552.5,421.1 552.9,420.7 553.2,419.9 553.5,420.6 553.8,420.4 554.1,420.7 554.4,420.6 554.8,420.5 555.1,420.5 555.4,419.9 555.7,420.6 556.0,420.7 556.3,420.9 556.7,421.1 557.0,421.2 557.3,420.4 557.6,421.3 557.9,420.2 558.3,420.4 558.6,420.8 558.9,421.1 559.2,420.7 559.5,420.7 559.8,420.3 560.2,420.9 560.5,420.8 560.8,420.7 561.1,420.8 561.4,420.9 561.7,421.3 562.1,421.2 562.4,420.9 562.7,420.8 563.0,417.2 563.3,413.6 563.7,410.7 564.0,407.9 564.3,404.3 564.6,401.8 564.9,398.8 565.2,394.7 565.6,392.7 565.9,389.3 566.2,392.0 566.5,394.0 566.8,396.9 567.1,398.4 567.5,400.7 567.8,402.6 568.1,403.6 568.4,404.9 568.7,406.6 569.1,407.6 569.4,408.6 569.7,408.9 570.0,409.9 570.3,410.7 570.6,411.3 571.0,412.3 571.3,412.6 571.6,413.5 571.9,414.2 572.2,414.4 572.5,414.5 572.9,415.0 573.2,415.0 573.5,416.3 573.8,416.1 574.1,416.2 574.5,416.9 574.8,416.7 575.1,417.2 575.4,417.6 575.7,417.1 576.0,418.1 576.4,417.5 576.7,418.1 577.0,418.5 577.3,418.6 577.6,418.7 577.9,418.8 578.3,418.6 578.6,419.4 578.9,418.5 579.2,418.7 579.5,418.6 579.9,419.5 580.2,420.0 580.5,419.5 580.8,419.5 581.1,419.4 581.4,419.7 581.8,419.6 582.1,419.6 582.4,420.2 582.7,419.2 583.0,420.2 583.3,419.8 583.7,419.6 584.0,420.2 584.3,420.0 584.6,419.5 584.9,420.2 585.2,419.8 585.6,420.1 585.9,420.1 586.2,420.0 586.5,420.3 586.8,420.3 587.2,420.0 587.5,420.2 587.8,420.2 588.1,420.7 588.4,420.4 588.7,420.0 589.1,420.1 589.4,420.3 589.7,420.6 590.0,420.7 590.3,420.3 590.6,420.0 591.0,420.5 591.3,420.1 591.6,420.6 591.9,420.1 592.2,420.9 592.6,420.5 592.9,420.9 593.2,420.3 593.5,420.4 593.8,420.9 594.1,420.8 594.5,420.7 594.8,421.1 595.1,420.9 595.4,420.9 595.7,420.4 596.0,420.2 596.4,420.8 596.7,420.7 597.0,420.6 597.3,420.8 597.6,420.7 598.0,420.4 598.3,420.6 598.6,420.7 598.9,420.9 599.2,420.2 599.5,420.9 599.9,420.6 600.2,421.0 600.5,420.9 600.8,420.7 601.1,420.8 601.4,420.5 601.8,420.7 602.1,421.2 602.4,421.5 602.7,417.1 603.0,414.4 603.4,410.4 603.7,407.7 604.0,404.7 604.3,401.0 604.6,398.0 604.9,394.7 605.3,391.7 605.6,387.9 605.9,390.7 606.2,393.8 606.5,395.3 606.8,398.2 607.2,399.8 607.5,402.1 607.8,403.7 608.1,403.8 608.4,405.3 608.8,406.5 609.1,408.5 609.4,408.8 609.7,409.6 610.0,410.5 610.3,411.1 610.7,412.2 611.0,412.5 611.3,413.4 611.6,413.6 611.9,413.9 612.2,414.7 612.6,414.9 612.9,415.3 613.2,415.5 613.5,415.5 613.8,416.1 614.2,416.3 614.5,417.2 614.8,417.0 615.1,416.9 615.4,417.6 615.7,417.7 616.1,418.1 616.4,417.5 616.7,418.2 617.0,418.5 617.3,418.1 617.6,418.1 618.0,418.4 618.3,418.4 618.6,418.8 618.9,419.0 619.2,419.2 619.6,419.3 619.9,419.4 620.2,419.2 620.5,419.4 620.8,419.4 621.1,419.3 621.5,419.6 621.8,420.1 622.1,420.0 622.4,420.1 622.7,420.4 623.0,419.8 623.4,420.3 623.7,420.4 624.0,420.3 624.3,419.7 624.6,420.2 624.9,419.8 625.3,420.2 625.6,420.3 625.9,420.0 626.2,420.0 626.5,420.2 626.9,420.6 627.2,420.4 627.5,420.7 627.8,420.4 628.1,420.3 628.4,419.9 628.8,419.9 629.1,420.2 629.4,420.1 629.7,420.4 630.0,419.5 630.3,420.0 630.7,419.6 631.0,420.4 631.3,420.4 631.6,420.2 631.9,420.5 632.3,420.4 632.6,420.9 632.9,420.3 633.2,420.5 633.5,420.3 633.8,420.7 634.2,421.2 634.5,420.4 634.8,420.2 635.1,421.0 635.4,420.9 635.7,420.7 636.1,420.7 636.4,421.2 636.7,420.1 637.0,420.3 637.3,420.9 637.7,421.3 638.0,420.5 638.3,420.0 638.6,420.4 638.9,420.3 639.2,421.0 639.6,420.6 639.9,421.2 640.2,420.0 640.5,420.5 640.8,421.4 641.1,421.3 641.5,420.5 641.8,420.7 642.1,420.8 642.4,417.3 642.7,413.7 643.1,411.1 643.4,408.7 643.7,405.0 644.0,402.2 644.3,398.9 644.6,395.4 645.0,392.4 645.3,389.5 645.6,391.9 645.9,394.7 646.2,396.5 646.5,398.8 646.9,400.4 647.2,402.3 647.5,403.4 647.8,405.0 648.1,406.2 648.5,407.5 648.8,408.3 649.1,409.8 649.4,409.2 649.7,411.0 650.0,411.5 650.4,412.3 650.7,412.9 651.0,413.1 651.3,413.9 651.6,414.3 651.9,415.1 652.3,415.3 652.6,415.8 652.9,415.1 653.2,416.5 653.5,416.7 653.9,416.5 654.2,416.3 654.5,417.6 654.8,417.8 655.1,417.4 655.4,417.5 655.8,418.3 656.1,418.6 656.4,418.5 656.7,418.0 657.0,418.4 657.3,418.3 657.7,418.7 658.0,418.8 658.3,418.7 658.6,419.0 658.9,419.0 659.3,419.5 659.6,419.5 659.9,419.2 660.2,419.5 660.5,419.7 660.8,419.3 661.2,419.4 661.5,419.7 661.8,420.0 662.1,419.5 662.4,419.0 662.7,420.2 663.1,420.4 663.4,420.2 663.7,420.3 664.0,420.5 664.3,420.5 664.6,419.8 665.0,419.9 665.3,419.7 665.6,420.0 665.9,420.4 666.2,419.9 666.6,420.5 666.9,420.4 667.2,420.7 667.5,420.0 667.8,420.0 668.1,420.6 668.5,420.5 668.8,420.4 669.1,420.4 669.4,420.2 669.7,420.5 670.0,420.4 670.4,421.0 670.7,420.6 671.0,421.1 671.3,420.0 671.6,420.1 672.0,420.3 672.3,420.2 672.6,419.9 672.9,420.3 673.2,421.1 673.5,420.7 673.9,421.4 674.2,420.9 674.5,421.0 674.8,420.6 675.1,420.5 675.4,421.0 675.8,420.7 676.1,420.6 676.4,420.7 676.7,420.7 677.0,421.5 677.4,420.8 677.7,420.4 678.0,420.6 678.3,421.2 678.6,420.8 678.9,420.6 679.3,421.0 679.6,420.5 679.9,421.0 680.2,420.8 680.5,420.7 680.8,420.0 681.2,420.8 681.5,420.9 681.8,420.5 681.8,425.0 681.5,425.5 681.2,425.7 680.8,425.4 680.5,425.4 680.2,425.5 679.9,425.4 679.6,425.2 679.3,425.7 678.9,425.5 678.6,425.3 678.3,425.1 678.0,425.2 677.7,424.9 677.4,424.9 677.0,425.4 676.7,425.1 676.4,425.6 676.1,424.9 675.8,425.2 675.4,425.7 675.1,425.7 674.8,426.0 674.5,425.2 674.2,424.7 673.9,425.7 673.5,425.4 673.2,425.5 672.9,425.5 672.6,425.6 672.3,425.4 672.0,425.1 671.6,424.9 671.3,424.8 671.0,425.1 670.7,425.1 670.4,425.3 670.0,424.8 669.7,425.0 669.4,424.7 669.1,425.6 668.8,425.3 668.5,425.3 668.1,425.3 667.8,425.3 667.5,425.0 667.2,424.5 666.9,425.4 666.6,425.1 666.2,424.5 665.9,424.8 665.6,424.1 665.3,424.8 665.0,424.9 664.6,424.9 664.3,424.3 664.0,423.9 663.7,424.7 663.4,424.7 663.1,424.4 662.7,424.5 662.4,423.9 662.1,424.4 661.8,425.0 661.5,424.1 661.2,424.9 660.8,423.9 660.5,424.0 660.2,424.5 659.9,424.0 659.6,423.6 659.3,423.6 658.9,424.3 658.6,423.7 658.3,423.3 658.0,423.0 657.7,423.6 657.3,423.2 657.0,423.3 656.7,423.0 656.4,423.0 656.1,422.4 655.8,422.3 655.4,421.8 655.1,421.6 654.8,421.8 654.5,421.0 654.2,422.0 653.9,421.5 653.5,421.5 653.2,421.0 652.9,419.8 652.6,420.6 652.3,419.9 651.9,419.4 651.6,418.8 651.3,418.2 651.0,417.8 650.7,417.3 650.4,416.1 650.0,416.4 649.7,415.5 649.4,414.7 649.1,414.0 648.8,413.3 648.5,412.4 648.1,410.5 647.8,409.8 647.5,407.8 647.2,406.4 646.9,405.6 646.5,403.2 646.2,401.6 645.9,399.7 645.6,396.7 645.3,393.9 645.0,396.7 644.6,399.8 644.3,403.0 644.0,406.5 643.7,409.3 643.4,412.8 643.1,416.3 642.7,419.4 642.4,422.3 642.1,425.5 641.8,425.7 641.5,425.7 641.1,425.4 640.8,425.3 640.5,425.3 640.2,425.4 639.9,425.4 639.6,424.6 639.2,425.1 638.9,425.0 638.6,425.8 638.3,425.1 638.0,425.5 637.7,425.3 637.3,425.4 637.0,425.1 636.7,425.2 636.4,424.9 636.1,425.8 635.7,425.1 635.4,425.4 635.1,425.0 634.8,424.9 634.5,424.9 634.2,425.2 633.8,425.3 633.5,425.9 633.2,425.3 632.9,424.8 632.6,425.2 632.3,425.3 631.9,425.1 631.6,425.4 631.3,425.5 631.0,425.3 630.7,425.5 630.3,425.0 630.0,425.3 629.7,424.7 629.4,425.3 629.1,424.6 628.8,425.2 628.4,425.0 628.1,424.5 627.8,425.6 627.5,424.9 627.2,424.5 626.9,424.5 626.5,425.1 626.2,424.1 625.9,424.7 625.6,425.2 625.3,424.1 624.9,425.1 624.6,424.6 624.3,424.6 624.0,424.8 623.7,424.7 623.4,424.9 623.0,424.7 622.7,424.7 622.4,424.4 622.1,424.6 621.8,423.5 621.5,424.2 621.1,424.3 620.8,424.2 620.5,424.2 620.2,424.4 619.9,423.8 619.6,423.6 619.2,424.3 618.9,424.3 618.6,423.9 618.3,423.3 618.0,423.2 617.6,423.3 617.3,422.6 617.0,422.7 616.7,422.8 616.4,422.9 616.1,422.0 615.7,422.4 615.4,422.2 615.1,421.7 614.8,422.1 614.5,421.3 614.2,421.0 613.8,420.4 613.5,420.7 613.2,420.1 612.9,419.8 612.6,419.4 612.2,418.8 611.9,418.6 611.6,417.7 611.3,417.9 611.0,417.5 610.7,416.8 610.3,415.6 610.0,415.0 609.7,414.6 609.4,413.2 609.1,412.3 608.8,410.9 608.4,410.6 608.1,408.5 607.8,407.7 607.5,405.8 607.2,405.0 606.8,402.3 606.5,400.5 606.2,398.0 605.9,396.0 605.6,392.6 605.3,396.3 604.9,399.4 604.6,402.2 604.3,405.9 604.0,409.2 603.7,411.5 603.4,416.2 603.0,418.7 602.7,422.0 602.4,424.9 602.1,426.3 601.8,425.1 601.4,425.5 601.1,425.0 600.8,424.7 600.5,425.4 600.2,425.0 599.9,425.4 599.5,425.3 599.2,425.5 598.9,425.6 598.6,425.7 598.3,425.5 598.0,425.1 597.6,425.0 597.3,425.1 597.0,425.2 596.7,425.4 596.4,424.9 596.0,425.6 595.7,425.6 595.4,425.6 595.1,425.5 594.8,426.2 594.5,425.6 594.1,425.9 593.8,425.6 593.5,425.8 593.2,425.3 592.9,425.2 592.6,425.6 592.2,425.0 591.9,424.8 591.6,425.4 591.3,425.6 591.0,425.7 590.6,425.4 590.3,424.8 590.0,425.7 589.7,424.9 589.4,425.1 589.1,424.8 588.7,425.3 588.4,425.1 588.1,425.4 587.8,425.1 587.5,424.8 587.2,424.7 586.8,424.6 586.5,424.8 586.2,425.1 585.9,424.4 585.6,424.8 585.2,424.6 584.9,423.9 584.6,424.6 584.3,424.7 584.0,425.1 583.7,425.0 583.3,424.9 583.0,424.9 582.7,424.2 582.4,424.3 582.1,424.3 581.8,424.2 581.4,424.4 581.1,424.4 580.8,424.2 580.5,423.5 580.2,423.4 579.9,423.7 579.5,424.3 579.2,423.1 578.9,423.5 578.6,423.4 578.3,423.6 577.9,423.4 577.6,422.9 577.3,423.2 577.0,422.6 576.7,422.7 576.4,422.1 576.0,422.5 575.7,422.5 575.4,422.1 575.1,421.5 574.8,421.4 574.5,421.5 574.1,420.3 573.8,420.5 573.5,420.2 573.2,420.0 572.9,420.0 572.5,419.3 572.2,418.7 571.9,418.4 571.6,418.0 571.3,417.2 571.0,417.5 570.6,416.7 570.3,415.0 570.0,415.2 569.7,413.6 569.4,413.3 569.1,411.7 568.7,410.9 568.4,409.3 568.1,408.2 567.8,406.3 567.5,405.0 567.1,403.9 566.8,401.1 566.5,398.5 566.2,396.7 565.9,393.8 565.6,397.3 565.2,400.3 564.9,403.5 564.6,406.3 564.3,409.6 564.0,412.6 563.7,416.4 563.3,418.8 563.0,421.9 562.7,426.1 562.4,426.1 562.1,424.7 561.7,425.3 561.4,425.3 561.1,424.7 560.8,425.3 560.5,425.7 560.2,425.5 559.8,424.6 559.5,425.1 559.2,425.3 558.9,425.8 558.6,424.7 558.3,425.0 557.9,425.7 557.6,425.4 557.3,425.3 557.0,425.3 556.7,425.7 556.3,425.0 556.0,425.5 555.7,425.2 555.4,424.8 555.1,425.4 554.8,425.4 554.4,425.3 554.1,424.8 553.8,425.1 553.5,425.3 553.2,425.5 552.9,425.4 552.5,425.2 552.2,424.9 551.9,425.1 551.6,424.7 551.3,425.1 550.9,424.9 550.6,425.0 550.3,425.0 550.0,425.3 549.7,424.9 549.4,424.8 549.0,424.9 548.7,425.0 548.4,424.9 548.1,424.6 547.8,424.5 547.5,424.8 547.1,425.1 546.8,424.3 546.5,425.6 546.2,425.0 545.9,424.9 545.5,424.8 545.2,424.6 544.9,425.4 544.6,424.9 544.3,424.5 544.0,424.8 543.6,425.0 543.3,424.8 543.0,424.3 542.7,424.5 542.4,423.9 542.1,424.3 541.7,424.2 541.4,423.1 541.1,424.3 540.8,423.2 540.5,424.1 540.2,424.3 539.8,424.0 539.5,423.5 539.2,423.0 538.9,423.5 538.6,423.2 538.2,422.6 537.9,422.6 537.6,423.2 537.3,422.8 537.0,422.8 536.7,422.2 536.3,422.4 536.0,422.5 535.7,421.9 535.4,421.8 535.1,421.8 534.8,421.7 534.4,420.6 534.1,420.7 533.8,419.6 533.5,419.6 533.2,419.2 532.8,419.3 532.5,418.2 532.2,418.4 531.9,417.8 531.6,418.1 531.3,416.8 530.9,416.7 530.6,415.5 530.3,414.5 530.0,413.0 529.7,413.5 529.4,411.2 529.0,410.4 528.7,409.5 528.4,407.7 528.1,406.8 527.8,404.8 527.4,403.3 527.1,400.4 526.8,398.6 526.5,395.8 526.2,392.9 525.9,396.6 525.5,399.8 525.2,403.1 524.9,405.8 524.6,409.2 524.3,411.7 524.0,416.2 523.6,418.5 523.3,421.7 523.0,424.7 522.7,424.9 522.4,424.9 522.0,425.2 521.7,425.6 521.4,425.2 521.1,424.6 520.8,424.9 520.5,425.6 520.1,425.0 519.8,424.8 519.5,425.0 519.2,424.7 518.9,424.8 518.6,425.4 518.2,424.1 517.9,425.7 517.6,424.6 517.3,425.4 517.0,424.8 516.6,425.2 516.3,425.2 516.0,425.0 515.7,425.4 515.4,425.2 515.1,425.2 514.7,425.1 514.4,424.7 514.1,425.5 513.8,425.6 513.5,424.6 513.2,424.6 512.8,424.5 512.5,425.1 512.2,424.6 511.9,424.8 511.6,424.9 511.2,424.7 510.9,425.0 510.6,424.5 510.3,424.5 510.0,425.3 509.7,424.4 509.3,424.7 509.0,425.2 508.7,425.0 508.4,424.2 508.1,424.6 507.8,424.3 507.4,423.9 507.1,424.5 506.8,424.4 506.5,425.0 506.2,424.9 505.8,425.1 505.5,425.1 505.2,424.0 504.9,423.9 504.6,424.6 504.3,424.5 503.9,424.4 503.6,423.7 503.3,423.8 503.0,424.0 502.7,424.2 502.4,423.1 502.0,423.7 501.7,424.3 501.4,423.6 501.1,423.6 500.8,423.7 500.5,423.7 500.1,423.8 499.8,423.5 499.5,422.5 499.2,423.3 498.9,422.9 498.5,421.9 498.2,422.7 497.9,422.3 497.6,422.2 497.3,422.8 497.0,421.4 496.6,422.4 496.3,421.8 496.0,421.5 495.7,421.7 495.4,421.1 495.1,420.6 494.7,420.0 494.4,419.8 494.1,419.5 493.8,419.3 493.5,419.0 493.1,418.7 492.8,418.3 492.5,417.6 492.2,417.4 491.9,417.0 491.6,415.9 491.2,415.4 490.9,414.1 490.6,413.8 490.3,412.5 490.0,411.8 489.7,410.6 489.3,410.0 489.0,408.3 488.7,406.1 488.4,405.4 488.1,403.1 487.7,401.6 487.4,400.3 487.1,397.0 486.8,394.2 486.5,391.0 486.2,395.1 485.8,397.7 485.5,401.2 485.2,404.9 484.9,408.0 484.6,410.8 484.3,414.9 483.9,418.4 483.6,421.9 483.3,424.8 483.0,424.2 482.7,424.8 482.3,424.9 482.0,424.3 481.7,425.1 481.4,424.8 481.1,424.9 480.8,424.5 480.4,424.6 480.1,425.1 479.8,424.8 479.5,424.8 479.2,424.3 478.9,425.0 478.5,425.1 478.2,424.6 477.9,424.8 477.6,424.3 477.3,425.5 476.9,424.9 476.6,424.8 476.3,424.3 476.0,424.8 475.7,424.0 475.4,424.4 475.0,425.3 474.7,424.6 474.4,424.0 474.1,425.0 473.8,424.3 473.5,425.0 473.1,424.5 472.8,424.5 472.5,424.5 472.2,424.3 471.9,425.6 471.5,425.2 471.2,424.6 470.9,425.4 470.6,424.9 470.3,425.1 470.0,424.6 469.6,424.7 469.3,424.7 469.0,425.3 468.7,425.0 468.4,424.9 468.1,424.0 467.7,424.7 467.4,424.9 467.1,425.3 466.8,425.0 466.5,424.6 466.1,424.9 465.8,424.7 465.5,424.5 465.2,425.2 464.9,424.0 464.6,424.2 464.2,424.2 463.9,424.6 463.6,424.5 463.3,424.1 463.0,424.5 462.7,424.8 462.3,424.5 462.0,425.0 461.7,424.2 461.4,424.3 461.1,424.2 460.8,424.8 460.4,424.5 460.1,424.7 459.8,424.6 459.5,424.2 459.2,424.6 458.8,424.4 458.5,424.4 458.2,424.6 457.9,423.7 457.6,424.6 457.3,424.3 456.9,424.6 456.6,424.3 456.3,424.6 456.0,424.1 455.7,424.2 455.4,424.4 455.0,424.2 454.7,423.9 454.4,424.8 454.1,424.5 453.8,424.4 453.4,424.4 453.1,424.4 452.8,424.1 452.5,424.8 452.2,424.6 451.9,424.2 451.5,424.6 451.2,423.9 450.9,424.1 450.6,424.4 450.3,424.6 450.0,424.4 449.6,424.4 449.3,424.8 449.0,424.6 448.7,425.0 448.4,424.7 448.0,424.2 447.7,424.3 447.4,424.9 447.1,424.6 446.8,425.0 446.5,424.9 446.1,424.5 445.8,424.5 445.5,424.0 445.2,424.8 444.9,424.4 444.6,424.3 444.2,425.2 443.9,424.3 443.6,424.6" fill="#c4c4c4" fill-opacity="0.8" stroke="none"/>
<polyline points="443.6,422.2 443.9,421.2 444.2,421.9 444.6,424.0 444.9,423.0 445.2,421.4 445.5,422.0 445.8,422.1 446.1,420.9 446.5,420.6 446.8,421.4 447.1,422.2 447.4,423.4 447.7,423.3 448.0,421.9 448.4,420.8 448.7,422.0 449.0,423.7 449.3,423.5 449.6,422.2 450.0,423.4 450.3,424.9 450.6,421.4 450.9,420.1 451.2,422.6 451.5,423.2 451.9,421.5 452.2,421.1 452.5,421.9 452.8,422.9 453.1,422.1 453.4,421.5 453.8,421.5 454.1,421.2 454.4,422.2 454.7,421.4 455.0,421.4 455.4,422.2 455.7,422.3 456.0,422.8 456.3,422.5 456.6,422.9 456.9,422.5 457.3,421.0 457.6,419.8 457.9,419.7 458.2,421.2 458.5,421.2 458.8,420.8 459.2,420.5 459.5,421.8 459.8,422.0 460.1,421.5 460.4,421.8 460.8,421.7 461.1,421.9 461.4,421.7 461.7,423.8 462.0,424.4 462.3,423.1 462.7,422.4 463.0,423.9 463.3,424.8 463.6,423.7 463.9,422.9 464.2,422.2 464.6,422.7 464.9,424.0 465.2,423.2 465.5,422.3 465.8,421.8 466.1,422.0 466.5,422.2 466.8,422.4 467.1,422.7 467.4,422.0 467.7,421.9 468.1,422.6 468.4,423.1 468.7,423.0 469.0,423.0 469.3,421.9 469.6,419.6 470.0,420.0 470.3,421.7 470.6,421.7 470.9,421.4 471.2,421.1 471.5,421.2 471.9,421.2 472.2,420.2 472.5,419.5 472.8,422.6 473.1,423.4 473.5,422.0 473.8,423.9 474.1,424.6 474.4,423.3 474.7,423.2 475.0,422.8 475.4,423.6 475.7,423.1 476.0,421.2 476.3,421.5 476.6,422.3 476.9,422.6 477.3,422.7 477.6,421.8 477.9,421.1 478.2,420.5 478.5,421.1 478.9,421.5 479.2,421.7 479.5,422.9 479.8,423.3 480.1,422.8 480.4,422.0 480.8,421.9 481.1,420.8 481.4,421.3 481.7,422.1 482.0,421.4 482.3,421.7 482.7,422.8 483.0,422.5 483.3,421.7 483.6,418.1 483.9,414.5 484.3,412.3 484.6,409.3 484.9,404.5 485.2,401.9 485.5,399.2 485.8,396.0 486.2,392.8 486.5,387.7 486.8,390.7 487.1,395.4 487.4,397.6 487.7,398.9 488.1,400.2 488.4,403.2 488.7,406.3 489.0,406.7 489.3,408.5 489.7,408.8 490.0,410.2 490.3,412.6 490.6,413.1 490.9,413.8 491.2,412.8 491.6,412.5 491.9,413.1 492.2,413.6 492.5,416.4 492.8,417.1 493.1,417.4 493.5,418.4 493.8,417.7 494.1,418.1 494.4,417.7 494.7,418.2 495.1,417.6 495.4,416.8 495.7,417.5 496.0,417.6 496.3,418.0 496.6,418.8 497.0,418.2 497.3,419.1 497.6,420.4 497.9,419.8 498.2,420.4 498.5,420.3 498.9,420.9 499.2,420.6 499.5,419.5 499.8,420.2 500.1,420.3 500.5,421.3 500.8,423.3 501.1,423.0 501.4,421.9 501.7,419.7 502.0,419.8 502.4,420.9 502.7,420.2 503.0,419.4 503.3,420.0 503.6,421.2 503.9,421.5 504.3,422.7 504.6,423.3 504.9,423.3 505.2,421.5 505.5,420.7 505.8,422.0 506.2,422.2 506.5,422.5 506.8,422.6 507.1,422.2 507.4,421.8 507.8,421.1 508.1,422.8 508.4,423.3 508.7,421.1 509.0,422.1 509.3,423.3 509.7,422.4 510.0,421.4 510.3,421.1 510.6,422.1 510.9,422.2 511.2,421.3 511.6,421.4 511.9,420.8 512.2,420.8 512.5,423.0 512.8,423.9 513.2,423.2 513.5,422.8 513.8,422.2 514.1,421.8 514.4,421.0 514.7,420.7 515.1,420.9 515.4,422.0 515.7,423.5 516.0,422.4 516.3,422.0 516.6,422.1 517.0,422.0 517.3,422.9 517.6,421.8 517.9,420.5 518.2,422.9 518.6,424.3 518.9,423.1 519.2,422.1 519.5,422.2 519.8,423.7 520.1,423.0 520.5,422.2 520.8,421.9 521.1,421.5 521.4,421.7 521.7,421.3 522.0,421.4 522.4,422.4 522.7,422.3 523.0,421.7 523.3,420.3 523.6,417.6 524.0,413.7 524.3,409.9 524.6,406.0 524.9,404.1 525.2,400.9 525.5,396.9 525.9,395.1 526.2,391.3 526.5,393.9 526.8,397.9 527.1,399.1 527.4,399.5 527.8,402.4 528.1,404.0 528.4,404.2 528.7,406.8 529.0,407.2 529.4,408.0 529.7,410.3 530.0,413.0 530.3,413.5 530.6,413.0 530.9,413.8 531.3,415.3 531.6,415.3 531.9,413.5 532.2,413.5 532.5,417.2 532.8,418.6 533.2,416.5 533.5,419.6 533.8,420.7 534.1,418.9 534.4,417.5 534.8,418.4 535.1,419.5 535.4,419.2 535.7,419.3 536.0,419.7 536.3,419.5 536.7,418.7 537.0,420.5 537.3,420.6 537.6,420.3 537.9,421.4 538.2,420.2 538.6,420.0 538.9,420.5 539.2,420.1 539.5,420.2 539.8,421.3 540.2,422.5 540.5,421.7 540.8,420.5 541.1,420.8 541.4,421.6 541.7,421.3 542.1,421.2 542.4,423.0 542.7,422.8 543.0,421.4 543.3,421.1 543.6,422.2 544.0,423.4 544.3,422.5 544.6,422.3 544.9,422.7 545.2,421.7 545.5,421.4 545.9,420.7 546.2,420.8 546.5,421.0 546.8,420.4 547.1,419.8 547.5,420.6 547.8,422.6 548.1,421.7 548.4,422.0 548.7,423.3 549.0,422.8 549.4,422.2 549.7,423.4 550.0,423.5 550.3,422.7 550.6,422.9 550.9,422.6 551.3,422.7 551.6,422.1 551.9,421.6 552.2,422.5 552.5,422.8 552.9,421.9 553.2,421.4 553.5,421.2 553.8,421.9 554.1,422.8 554.4,421.2 554.8,421.3 555.1,421.6 555.4,420.9 555.7,422.5 556.0,424.2 556.3,423.4 556.7,422.9 557.0,423.9 557.3,424.6 557.6,423.2 557.9,421.9 558.3,422.7 558.6,422.5 558.9,422.4 559.2,422.6 559.5,422.4 559.8,422.7 560.2,425.0 560.5,424.2 560.8,422.0 561.1,422.5 561.4,421.7 561.7,422.7 562.1,426.1 562.4,423.9 562.7,421.5 563.0,420.6 563.3,418.1 563.7,413.2 564.0,410.7 564.3,407.6 564.6,402.0 564.9,398.2 565.2,396.6 565.6,394.3 565.9,391.8 566.2,394.7 566.5,396.8 566.8,399.8 567.1,402.6 567.5,402.3 567.8,402.8 568.1,406.5 568.4,408.2 568.7,407.6 569.1,407.2 569.4,409.7 569.7,411.7 570.0,411.4 570.3,412.6 570.6,414.8 571.0,415.9 571.3,415.6 571.6,416.0 571.9,417.5 572.2,417.5 572.5,416.3 572.9,416.0 573.2,417.2 573.5,416.6 573.8,417.3 574.1,419.1 574.5,419.8 574.8,419.4 575.1,418.7 575.4,420.8 575.7,421.5 576.0,419.1 576.4,418.1 576.7,419.5 577.0,419.6 577.3,421.0 577.6,422.4 577.9,422.3 578.3,422.5 578.6,421.9 578.9,421.0 579.2,420.0 579.5,419.8 579.9,418.6 580.2,419.8 580.5,421.9 580.8,421.2 581.1,421.9 581.4,422.6 581.8,421.7 582.1,422.2 582.4,422.2 582.7,420.7 583.0,421.9 583.3,424.6 583.7,423.8 584.0,422.9 584.3,422.8 584.6,422.4 584.9,422.4 585.2,421.2 585.6,420.9 585.9,422.0 586.2,423.5 586.5,425.1 586.8,425.9 587.2,424.7 587.5,423.0 587.8,423.0 588.1,423.5 588.4,424.2 588.7,425.0 589.1,425.1 589.4,423.5 589.7,423.7 590.0,423.7 590.3,422.9 590.6,423.0 591.0,422.2 591.3,422.0 591.6,421.3 591.9,422.5 592.2,424.1 592.6,423.9 592.9,423.7 593.2,422.9 593.5,422.5 593.8,423.0 594.1,422.6 594.5,422.9 594.8,422.4 595.1,423.5 595.4,424.1 595.7,422.4 596.0,423.1 596.4,424.0 596.7,422.8 597.0,422.5 597.3,424.6 597.6,425.4 598.0,423.2 598.3,422.9 598.6,422.7 598.9,421.0 599.2,422.1 599.5,422.7 599.9,423.2 600.2,423.9 600.5,423.8 600.8,423.1 601.1,423.5 601.4,424.1 601.8,423.1 602.1,422.6 602.4,424.2 602.7,422.7 603.0,418.5 603.4,414.1 603.7,410.1 604.0,406.5 604.3,401.9 604.6,398.3 604.9,396.1 605.3,393.7 605.6,390.3 605.9,392.3 606.2,394.9 606.5,397.9 606.8,400.0 607.2,400.6 607.5,403.4 607.8,407.7 608.1,407.8 608.4,406.9 608.8,408.9 609.1,410.8 609.4,409.5 609.7,410.4 610.0,414.1 610.3,414.8 610.7,414.2 611.0,414.9 611.3,416.1 611.6,415.9 611.9,416.4 612.2,417.0 612.6,417.1 612.9,418.4 613.2,418.6 613.5,419.0 613.8,418.7 614.2,418.8 614.5,419.9 614.8,420.8 615.1,421.2 615.4,421.0 615.7,419.7 616.1,419.1 616.4,420.0 616.7,421.3 617.0,422.8 617.3,421.8 617.6,422.0 618.0,421.1 618.3,420.5 618.6,421.4 618.9,421.0 619.2,421.3 619.6,421.0 619.9,421.5 620.2,421.9 620.5,420.6 620.8,420.8 621.1,421.6 621.5,422.1 621.8,422.2 622.1,421.5 622.4,421.8 622.7,423.6 623.0,423.3 623.4,422.3 623.7,422.1 624.0,422.0 624.3,421.2 624.6,422.2 624.9,424.1 625.3,422.7 625.6,422.8 625.9,423.1 626.2,422.4 626.5,424.1 626.9,423.6 627.2,421.2 627.5,421.5 627.8,423.6 628.1,423.2 628.4,422.9 628.8,423.6 629.1,422.6 629.4,423.1 629.7,424.6 630.0,424.2 630.3,423.0 630.7,423.5 631.0,424.1 631.3,422.9 631.6,422.4 631.9,423.3 632.3,423.7 632.6,423.2 632.9,422.7 633.2,423.0 633.5,424.1 633.8,424.3 634.2,423.7 634.5,423.4 634.8,422.1 635.1,421.5 635.4,421.8 635.7,422.5 636.1,423.2 636.4,423.0 636.7,423.1 637.0,423.6 637.3,423.9 637.7,423.7 638.0,423.1 638.3,421.8 638.6,421.3 638.9,422.9 639.2,422.8 639.6,422.8 639.9,422.7 640.2,421.8 640.5,420.4 640.8,421.8 641.1,423.9 641.5,423.2 641.8,422.9 642.1,422.3 642.4,420.1 642.7,418.0 643.1,413.9 643.4,409.5 643.7,407.4 644.0,406.1 644.3,401.3 644.6,396.4 645.0,393.3 645.3,391.4 645.6,395.2 645.9,396.8 646.2,398.6 646.5,400.9 646.9,403.0 647.2,403.9 647.5,405.6 647.8,408.1 648.1,409.3 648.5,410.4 648.8,411.0 649.1,411.7 649.4,412.9 649.7,412.5 650.0,412.6 650.4,414.5 650.7,414.4 651.0,415.1 651.3,416.5 651.6,416.6 651.9,417.5 652.3,418.1 652.6,418.0 652.9,419.0 653.2,419.7 653.5,418.8 653.9,418.6 654.2,418.8 654.5,417.5 654.8,417.5 655.1,419.5 655.4,420.2 655.8,420.3 656.1,420.1 656.4,420.4 656.7,419.8 657.0,420.5 657.3,421.3 657.7,420.2 658.0,421.6 658.3,421.6 658.6,420.5 658.9,421.5 659.3,420.4 659.6,419.5 659.9,421.5 660.2,422.4 660.5,422.7 660.8,422.3 661.2,421.8 661.5,423.0 661.8,423.9 662.1,423.4 662.4,423.0 662.7,422.8 663.1,423.0 663.4,422.4 663.7,421.3 664.0,421.7 664.3,424.0 664.6,424.2 665.0,422.2 665.3,422.2 665.6,422.5 665.9,422.4 666.2,423.6 666.6,425.5 666.9,424.1 667.2,422.6 667.5,422.8 667.8,422.7 668.1,423.1 668.5,421.9 668.8,422.7 669.1,423.7 669.4,423.6 669.7,423.6 670.0,422.5 670.4,422.1 670.7,422.3 671.0,423.8 671.3,423.7 671.6,422.1 672.0,421.6 672.3,420.7 672.6,421.0 672.9,423.3 673.2,424.1 673.5,423.3 673.9,422.2 674.2,423.1 674.5,423.2 674.8,421.9 675.1,423.2 675.4,423.2 675.8,423.1 676.1,423.6 676.4,423.3 676.7,423.1 677.0,423.7 677.4,423.5 677.7,424.2 678.0,424.9 678.3,423.7 678.6,422.3 678.9,421.6 679.3,423.0 679.6,424.1 679.9,423.7 680.2,423.5 680.5,421.9 680.8,423.5 681.2,425.0 681.5,424.8 681.8,424.1" fill="none" stroke="#3a3a3a" stroke-width="1.5" stroke-linejoin="round" />
<polyline points="443.6,423.0 443.9,422.0 444.2,421.9 444.6,422.2 444.9,421.7 445.2,421.7 445.5,421.8 445.8,424.4 446.1,424.9 446.5,424.0 446.8,423.0 447.1,421.7 447.4,422.3 447.7,422.4 448.0,422.3 448.4,423.0 448.7,421.9 449.0,421.4 449.3,422.8 449.6,424.0 450.0,424.3 450.3,423.4 450.6,423.1 450.9,423.5 451.2,423.4 451.5,423.8 451.9,423.8 452.2,424.1 452.5,424.7 452.8,424.2 453.1,423.1 453.4,422.3 453.8,422.7 454.1,423.7 454.4,424.0 454.7,422.7 455.0,421.6 455.4,423.0 455.7,424.0 456.0,422.9 456.3,422.4 456.6,422.4 456.9,422.1 457.3,422.9 457.6,422.3 457.9,422.0 458.2,422.9 458.5,421.7 458.8,421.0 459.2,420.6 459.5,420.7 459.8,420.4 460.1,421.0 460.4,421.3 460.8,420.1 461.1,421.0 461.4,422.8 461.7,422.9 462.0,421.1 462.3,419.6 462.7,420.7 463.0,421.3 463.3,420.8 463.6,420.2 463.9,421.7 464.2,422.6 464.6,421.6 464.9,421.0 465.2,420.8 465.5,421.1 465.8,421.0 466.1,422.4 466.5,420.6 466.8,418.4 467.1,419.8 467.4,420.7 467.7,421.0 468.1,419.2 468.4,418.3 468.7,419.5 469.0,421.5 469.3,421.4 469.6,420.8 470.0,420.3 470.3,420.9 470.6,421.5 470.9,420.5 471.2,420.7 471.5,420.2 471.9,420.6 472.2,422.0 472.5,421.5 472.8,420.2 473.1,420.1 473.5,421.0 473.8,420.3 474.1,419.7 474.4,420.5 474.7,420.6 475.0,420.4 475.4,420.1 475.7,419.8 476.0,420.7 476.3,421.0 476.6,420.8 476.9,420.2 477.3,419.7 477.6,420.4 477.9,420.8 478.2,420.0 478.5,419.2 478.9,419.2 479.2,418.6 479.5,418.8 479.8,419.5 480.1,419.7 480.4,420.8 480.8,420.5 481.1,419.5 481.4,419.4 481.7,419.6 482.0,420.0 482.3,420.6 482.7,420.5 483.0,419.7 483.3,418.9 483.6,418.2 483.9,415.3 484.3,409.4 484.6,405.9 484.9,403.3 485.2,400.5 485.5,398.0 485.8,395.4 486.2,391.7 486.5,389.2 486.8,390.3 487.1,389.8 487.4,390.4 487.7,390.8 488.1,391.1 488.4,391.3 488.7,390.6 489.0,391.3 489.3,392.1 489.7,392.3 490.0,393.3 490.3,393.4 490.6,392.1 490.9,391.3 491.2,391.9 491.6,392.9 491.9,391.9 492.2,390.8 492.5,392.2 492.8,392.8 493.1,391.9 493.5,392.3 493.8,393.8 494.1,394.9 494.4,394.0 494.7,392.1 495.1,392.7 495.4,393.3 495.7,392.0 496.0,393.9 496.3,395.6 496.6,394.0 497.0,393.1 497.3,393.8 497.6,394.5 497.9,394.5 498.2,395.0 498.5,393.9 498.9,394.3 499.2,397.1 499.5,396.3 499.8,394.3 500.1,394.8 500.5,395.8 500.8,396.2 501.1,396.2 501.4,396.3 501.7,396.9 502.0,397.3 502.4,397.0 502.7,394.9 503.0,394.7 503.3,395.8 503.6,394.3 503.9,394.9 504.3,397.0 504.6,396.3 504.9,396.5 505.2,396.6 505.5,395.1 505.8,396.1 506.2,397.1 506.5,395.4 506.8,395.8 507.1,397.3 507.4,396.5 507.8,396.3 508.1,397.0 508.4,395.8 508.7,395.6 509.0,396.4 509.3,396.3 509.7,396.7 510.0,397.3 510.3,396.6 510.6,396.0 510.9,395.8 511.2,396.3 511.6,397.4 511.9,396.3 512.2,396.0 512.5,396.7 512.8,396.9 513.2,397.3 513.5,397.1 513.8,398.0 514.1,397.9 514.4,395.4 514.7,394.9 515.1,395.2 515.4,396.1 515.7,396.3 516.0,396.3 516.3,396.6 516.6,396.4 517.0,398.5 517.3,397.9 517.6,395.4 517.9,395.5 518.2,396.4 518.6,396.4 518.9,395.5 519.2,397.4 519.5,398.8 519.8,397.3 520.1,396.6 520.5,396.6 520.8,396.6 521.1,395.6 521.4,396.4 521.7,398.3 522.0,397.7 522.4,397.6 522.7,397.4 523.0,396.5 523.3,394.9 523.6,392.5 524.0,388.7 524.3,386.1 524.6,383.5 524.9,381.4 525.2,380.5 525.5,378.0 525.9,375.4 526.2,373.2 526.5,374.0 526.8,376.8 527.1,377.6 527.4,376.3 527.8,375.4 528.1,375.8 528.4,375.6 528.7,376.4 529.0,377.6 529.4,376.4 529.7,376.0 530.0,376.7 530.3,375.9 530.6,375.4 530.9,376.9 531.3,377.6 531.6,378.2 531.9,378.4 532.2,377.2 532.5,378.3 532.8,377.7 533.2,375.3 533.5,376.1 533.8,376.8 534.1,376.2 534.4,377.0 534.8,377.3 535.1,377.0 535.4,378.7 535.7,379.5 536.0,379.0 536.3,377.7 536.7,377.3 537.0,377.4 537.3,377.8 537.6,379.3 537.9,377.7 538.2,375.1 538.6,376.2 538.9,378.1 539.2,377.6 539.5,378.2 539.8,379.1 540.2,379.3 540.5,378.9 540.8,377.8 541.1,378.4 541.4,379.0 541.7,379.7 542.1,379.8 542.4,378.1 542.7,377.8 543.0,377.8 543.3,378.1 543.6,379.0 544.0,378.7 544.3,378.8 544.6,378.0 544.9,379.2 545.2,379.2 545.5,377.4 545.9,377.9 546.2,378.3 546.5,378.4 546.8,378.0 547.1,377.9 547.5,378.8 547.8,378.8 548.1,377.6 548.4,377.5 548.7,378.1 549.0,378.2 549.4,378.5 549.7,378.9 550.0,379.8 550.3,379.6 550.6,377.8 550.9,377.9 551.3,379.1 551.6,378.3 551.9,377.6 552.2,378.0 552.5,377.8 552.9,377.5 553.2,377.8 553.5,378.8 553.8,377.6 554.1,377.0 554.4,378.6 554.8,378.6 555.1,377.3 555.4,378.3 555.7,378.2 556.0,377.4 556.3,376.9 556.7,376.4 557.0,377.8 557.3,377.4 557.6,376.5 557.9,377.5 558.3,378.1 558.6,378.2 558.9,377.8 559.2,378.4 559.5,379.0 559.8,379.5 560.2,379.0 560.5,379.0 560.8,380.1 561.1,378.5 561.4,378.0 561.7,378.5 562.1,378.9 562.4,378.9 562.7,379.3 563.0,376.6 563.3,372.7 563.7,370.2 564.0,368.5 564.3,366.0 564.6,363.4 564.9,361.4 565.2,359.2 565.6,357.5 565.9,356.0 566.2,357.8 566.5,356.9 566.8,355.4 567.1,354.6 567.5,355.8 567.8,356.6 568.1,355.9 568.4,356.5 568.7,356.5 569.1,356.3 569.4,355.7 569.7,355.4 570.0,355.3 570.3,355.6 570.6,354.9 571.0,354.8 571.3,355.7 571.6,355.3 571.9,355.3 572.2,355.8 572.5,355.9 572.9,356.6 573.2,358.3 573.5,357.4 573.8,356.2 574.1,356.2 574.5,354.3 574.8,355.6 575.1,356.2 575.4,355.4 575.7,355.7 576.0,356.3 576.4,356.6 576.7,355.7 577.0,354.8 577.3,353.6 577.6,354.3 577.9,355.8 578.3,354.6 578.6,354.4 578.9,355.9 579.2,355.7 579.5,355.4 579.9,355.0 580.2,355.6 580.5,356.1 580.8,354.5 581.1,353.4 581.4,354.3 581.8,355.1 582.1,355.6 582.4,355.1 582.7,355.2 583.0,355.8 583.3,355.7 583.7,356.2 584.0,355.8 584.3,355.4 584.6,355.8 584.9,355.8 585.2,355.4 585.6,355.6 585.9,356.1 586.2,355.8 586.5,355.0 586.8,354.2 587.2,354.5 587.5,355.3 587.8,355.4 588.1,354.0 588.4,353.4 588.7,355.2 589.1,355.8 589.4,355.5 589.7,355.7 590.0,356.4 590.3,356.2 590.6,355.9 591.0,356.3 591.3,354.5 591.6,353.4 591.9,354.9 592.2,356.2 592.6,356.2 592.9,356.7 593.2,356.7 593.5,355.7 593.8,355.7 594.1,355.1 594.5,354.4 594.8,355.2 595.1,354.1 595.4,353.3 595.7,354.3 596.0,353.6 596.4,352.7 596.7,354.3 597.0,355.0 597.3,354.8 597.6,355.9 598.0,354.4 598.3,352.5 598.6,354.5 598.9,355.1 599.2,355.3 599.5,354.9 599.9,353.9 600.2,354.7 600.5,353.9 600.8,353.7 601.1,354.6 601.4,354.0 601.8,354.0 602.1,354.1 602.4,353.8 602.7,352.1 603.0,349.8 603.4,348.1 603.7,347.3 604.0,344.8 604.3,342.4 604.6,340.7 604.9,339.1 605.3,338.6 605.6,336.6 605.9,335.8 606.2,335.9 606.5,336.5 606.8,337.3 607.2,337.9 607.5,336.8 607.8,336.6 608.1,338.0 608.4,337.6 608.8,337.1 609.1,336.2 609.4,335.8 609.7,335.6 610.0,335.1 610.3,336.2 610.7,337.0 611.0,337.4 611.3,336.8 611.6,338.0 611.9,337.7 612.2,337.2 612.6,338.0 612.9,339.0 613.2,338.6 613.5,336.3 613.8,336.5 614.2,336.7 614.5,337.2 614.8,337.3 615.1,336.3 615.4,336.7 615.7,337.1 616.1,336.4 616.4,336.9 616.7,337.2 617.0,336.9 617.3,337.4 617.6,336.0 618.0,335.9 618.3,336.4 618.6,335.4 618.9,337.8 619.2,338.4 619.6,336.4 619.9,336.0 620.2,337.3 620.5,337.6 620.8,337.8 621.1,338.7 621.5,338.1 621.8,337.3 622.1,336.1 622.4,336.0 622.7,336.3 623.0,337.3 623.4,338.8 623.7,338.3 624.0,336.4 624.3,337.0 624.6,339.1 624.9,338.3 625.3,336.5 625.6,337.5 625.9,338.5 626.2,338.3 626.5,337.2 626.9,335.9 627.2,336.6 627.5,337.1 627.8,337.4 628.1,337.3 628.4,337.6 628.8,338.2 629.1,338.5 629.4,338.0 629.7,337.8 630.0,337.2 630.3,338.1 630.7,338.2 631.0,336.5 631.3,336.1 631.6,336.6 631.9,338.4 632.3,338.8 632.6,337.1 632.9,336.7 633.2,337.7 633.5,337.9 633.8,337.7 634.2,337.4 634.5,338.4 634.8,338.7 635.1,337.0 635.4,335.7 635.7,336.4 636.1,337.7 636.4,336.7 636.7,336.5 637.0,338.1 637.3,338.1 637.7,336.9 638.0,335.8 638.3,336.6 638.6,337.2 638.9,337.1 639.2,336.7 639.6,336.4 639.9,336.9 640.2,337.7 640.5,338.1 640.8,337.7 641.1,339.8 641.5,339.0 641.8,336.7 642.1,337.4 642.4,336.0 642.7,334.2 643.1,332.2 643.4,331.4 643.7,329.9 644.0,327.3 644.3,325.8 644.6,325.2 645.0,323.7 645.3,321.9 645.6,321.6 645.9,319.9 646.2,319.5 646.5,320.5 646.9,321.4 647.2,321.5 647.5,320.9 647.8,321.0 648.1,321.5 648.5,322.6 648.8,322.8 649.1,321.6 649.4,321.4 649.7,320.1 650.0,320.5 650.4,322.1 650.7,320.8 651.0,320.5 651.3,321.0 651.6,320.2 651.9,320.0 652.3,320.6 652.6,319.9 652.9,318.4 653.2,319.6 653.5,320.7 653.9,319.3 654.2,319.2 654.5,320.4 654.8,320.5 655.1,319.3 655.4,319.6 655.8,319.9 656.1,318.9 656.4,319.4 656.7,319.3 657.0,318.4 657.3,318.0 657.7,317.8 658.0,319.3 658.3,319.3 658.6,317.9 658.9,317.8 659.3,318.6 659.6,318.6 659.9,317.7 660.2,319.0 660.5,318.4 660.8,318.1 661.2,319.5 661.5,318.6 661.8,318.3 662.1,318.3 662.4,318.0 662.7,318.0 663.1,317.2 663.4,317.3 663.7,317.2 664.0,316.6 664.3,317.6 664.6,317.6 665.0,316.6 665.3,317.0 665.6,316.6 665.9,315.5 666.2,315.7 666.6,317.6 666.9,317.8 667.2,316.8 667.5,317.2 667.8,316.9 668.1,316.8 668.5,315.9 668.8,315.5 669.1,316.5 669.4,316.1 669.7,315.5 670.0,315.2 670.4,315.2 670.7,315.9 671.0,316.2 671.3,317.5 671.6,318.4 672.0,316.3 672.3,315.5 672.6,315.0 672.9,313.5 673.2,315.4 673.5,316.3 673.9,313.6 674.2,314.2 674.5,315.8 674.8,315.3 675.1,315.7 675.4,315.6 675.8,315.4 676.1,314.7 676.4,315.1 676.7,315.2 677.0,315.1 677.4,315.0 677.7,314.3 678.0,315.1 678.3,315.1 678.6,315.0 678.9,315.6 679.3,314.3 679.6,314.9 679.9,315.2 680.2,313.5 680.5,314.2 680.8,313.9 681.2,312.8 681.5,314.3 681.8,314.5" fill="none" stroke="#ff0000" stroke-width="1.7" stroke-linejoin="round" />
<line x1="443.6" y1="288.4" x2="443.6" y2="438.4" stroke="#4d4d4d" stroke-width="1"/>
<line x1="439.0" y1="288.4" x2="443.6" y2="288.4" stroke="#4d4d4d" stroke-width="1"/>
<text x="434.0" y="291.9" font-size="9.8" text-anchor="end" font-weight="normal" fill="#231f20" >4</text>
<line x1="439.0" y1="321.65" x2="443.6" y2="321.65" stroke="#4d4d4d" stroke-width="1"/>
<text x="434.0" y="325.1" font-size="9.8" text-anchor="end" font-weight="normal" fill="#231f20" >3</text>
<line x1="439.0" y1="354.9" x2="443.6" y2="354.9" stroke="#4d4d4d" stroke-width="1"/>
<text x="434.0" y="358.4" font-size="9.8" text-anchor="end" font-weight="normal" fill="#231f20" >2</text>
<line x1="439.0" y1="388.15" x2="443.6" y2="388.15" stroke="#4d4d4d" stroke-width="1"/>
<text x="434.0" y="391.6" font-size="9.8" text-anchor="end" font-weight="normal" fill="#231f20" >1</text>
<line x1="439.0" y1="421.4" x2="443.6" y2="421.4" stroke="#4d4d4d" stroke-width="1"/>
<text x="434.0" y="424.9" font-size="9.8" text-anchor="end" font-weight="normal" fill="#231f20" >0</text>
<line x1="443.6" y1="438.4" x2="681.8" y2="438.4" stroke="#4d4d4d" stroke-width="1"/>
<line x1="443.6" y1="438.4" x2="443.6" y2="443.0" stroke="#4d4d4d" stroke-width="1"/>
<text x="443.6" y="454.7" font-size="9.8" text-anchor="middle" font-weight="normal" fill="#231f20" >0</text>
<line x1="483.3" y1="438.4" x2="483.3" y2="443.0" stroke="#4d4d4d" stroke-width="1"/>
<text x="483.3" y="454.7" font-size="9.8" text-anchor="middle" font-weight="normal" fill="#231f20" >1</text>
<line x1="523.0" y1="438.4" x2="523.0" y2="443.0" stroke="#4d4d4d" stroke-width="1"/>
<text x="523.0" y="454.7" font-size="9.8" text-anchor="middle" font-weight="normal" fill="#231f20" >2</text>
<line x1="562.7" y1="438.4" x2="562.7" y2="443.0" stroke="#4d4d4d" stroke-width="1"/>
<text x="562.7" y="454.7" font-size="9.8" text-anchor="middle" font-weight="normal" fill="#231f20" >3</text>
<line x1="602.4000000000001" y1="438.4" x2="602.4000000000001" y2="443.0" stroke="#4d4d4d" stroke-width="1"/>
<text x="602.4" y="454.7" font-size="9.8" text-anchor="middle" font-weight="normal" fill="#231f20" >4</text>
<line x1="642.1" y1="438.4" x2="642.1" y2="443.0" stroke="#4d4d4d" stroke-width="1"/>
<text x="642.1" y="454.7" font-size="9.8" text-anchor="middle" font-weight="normal" fill="#231f20" >5</text>
<line x1="681.8000000000001" y1="438.4" x2="681.8000000000001" y2="443.0" stroke="#4d4d4d" stroke-width="1"/>
<text x="681.8" y="454.7" font-size="9.8" text-anchor="middle" font-weight="normal" fill="#231f20" >6</text>
<text transform="translate(420.8,362.8) rotate(-90)" font-size="11.5" text-anchor="middle" fill="#231f20">Δ<tspan font-style="italic">F</tspan>/<tspan font-style="italic">F</tspan><tspan font-size="7.6" dy="2.6">max</tspan></text>
<text x="562.6" y="470.4" font-size="11.1" text-anchor="middle" font-weight="normal" fill="#231f20" >Time (min)</text>
<line x1="451.4" y1="293.4" x2="462.6" y2="293.4" stroke="#111" stroke-width="1.9"/>
<line x1="451.4" y1="312" x2="462.6" y2="312" stroke="#ff0000" stroke-width="1.6"/>
<text x="467.4" y="297" font-size="11.3" text-anchor="start" font-weight="normal" fill="#231f20" >Glucose + Etox</text>
<text x="467.4" y="316" font-size="11.3" text-anchor="start" font-weight="normal" fill="#231f20" >FA (PA) + Etox</text>
<polygon points="507.60,384.30 508.31,386.18 510.31,386.27 508.74,387.52 509.28,389.46 507.60,388.35 505.92,389.46 506.46,387.52 504.89,386.27 506.89,386.18" fill="#231f20"/>
<polygon points="513.60,384.30 514.31,386.18 516.31,386.27 514.74,387.52 515.28,389.46 513.60,388.35 511.92,389.46 512.46,387.52 510.89,386.27 512.89,386.18" fill="#231f20"/>
<path d="M543.85,357.95 L543.25,364.85 M545.75,357.95 L545.15,364.85 M542.15,360.35 L546.85,360.35 M542.15,362.45 L546.85,362.45 " stroke="#231f20" stroke-width="0.95" fill="none"/>
<path d="M549.35,357.95 L548.75,364.85 M551.25,357.95 L550.65,364.85 M547.65,360.35 L552.35,360.35 M547.65,362.45 L552.35,362.45 " stroke="#231f20" stroke-width="0.95" fill="none"/>
<path d="M554.85,357.95 L554.25,364.85 M556.75,357.95 L556.15,364.85 M553.15,360.35 L557.85,360.35 M553.15,362.45 L557.85,362.45 " stroke="#231f20" stroke-width="0.95" fill="none"/>
<polygon points="660.10,292.20 660.81,294.08 662.81,294.17 661.24,295.42 661.78,297.36 660.10,296.25 658.42,297.36 658.96,295.42 657.39,294.17 659.39,294.08" fill="#231f20"/>
<polygon points="666.40,292.20 667.11,294.08 669.11,294.17 667.54,295.42 668.08,297.36 666.40,296.25 664.72,297.36 665.26,295.42 663.69,294.17 665.69,294.08" fill="#231f20"/>
<polygon points="672.70,292.20 673.41,294.08 675.41,294.17 673.84,295.42 674.38,297.36 672.70,296.25 671.02,297.36 671.56,295.42 669.99,294.17 671.99,294.08" fill="#231f20"/>
<text x="437.4" y="496.4" font-size="11.3" text-anchor="end" font-weight="normal" fill="#231f20" >Glucose + Etox</text>
<text x="437.4" y="518.6" font-size="11.3" text-anchor="end" font-weight="normal" fill="#231f20" >FA (PA) + Etox</text>
<defs>
<filter id="fire1" filterUnits="userSpaceOnUse" x="439.8" y="209.3" width="243.6" height="24.5" color-interpolation-filters="sRGB">
<feGaussianBlur in="SourceGraphic" stdDeviation="0.7 0.45" result="bl"/>
<feTurbulence type="fractalNoise" baseFrequency="0.35 0.9" numOctaves="2" seed="3" result="nz"/>
<feColorMatrix in="nz" type="matrix" values="1 0 0 0 0  1 0 0 0 0  1 0 0 0 0  0 0 0 0 1" result="nzg"/>
<feComposite in="bl" in2="nzg" operator="arithmetic" k1="0" k2="1" k3="0.19" k4="-0.095" result="mix"/>
<feComponentTransfer in="mix"><feFuncR type="table" tableValues="0.000 0.000 0.004 0.098 0.192 0.286 0.384 0.478 0.573 0.635 0.678 0.722 0.765 0.812 0.851 0.898 0.941 0.988 1.000 1.000 1.000 1.000 1.000 1.000 1.000 1.000 1.000 1.000 1.000 1.000 1.000 1.000"/><feFuncG type="table" tableValues="0.000 0.000 0.000 0.000 0.000 0.000 0.000 0.000 0.000 0.000 0.000 0.000 0.000 0.055 0.137 0.224 0.310 0.396 0.459 0.522 0.576 0.631 0.686 0.745 0.804 0.859 0.918 0.973 1.000 1.000 1.000 1.000"/><feFuncB type="table" tableValues="0.000 0.239 0.376 0.510 0.647 0.753 0.863 0.890 0.824 0.710 0.592 0.478 0.365 0.251 0.137 0.020 0.000 0.000 0.000 0.000 0.000 0.000 0.000 0.000 0.000 0.000 0.000 0.137 0.384 0.627 0.875 1.000"/><feFuncA type="linear" slope="0" intercept="1"/></feComponentTransfer>
</filter>
<clipPath id="hmc1"><rect x="443.8" y="213.3" width="235.6" height="16.5"/></clipPath>
</defs>
<g clip-path="url(#hmc1)"><g filter="url(#fire1)">
<rect x="440.8" y="210.3" width="79.8" height="22.5" fill="rgb(43,43,43)"/>
<rect x="520.0" y="210.3" width="39.9" height="22.5" fill="rgb(48,48,48)"/>
<rect x="559.2" y="210.3" width="39.9" height="22.5" fill="rgb(51,51,51)"/>
<rect x="598.5" y="210.3" width="39.9" height="22.5" fill="rgb(56,56,56)"/>
<rect x="637.8" y="210.3" width="44.6" height="22.5" fill="rgb(64,64,64)"/>
<rect x="440.8" y="210.3" width="158.3" height="5.8" fill="rgb(18,18,18)"/>
<rect x="598.5" y="210.3" width="39.9" height="5.8" fill="rgb(20,20,20)"/>
<rect x="637.8" y="210.3" width="44.6" height="5.8" fill="rgb(23,23,23)"/>
<rect x="440.8" y="227.6" width="158.3" height="5.2" fill="rgb(31,31,31)"/>
<rect x="598.5" y="227.6" width="39.9" height="5.2" fill="rgb(36,36,36)"/>
<rect x="637.8" y="227.6" width="44.6" height="5.2" fill="rgb(38,38,38)"/>
<linearGradient id="hg1" x1="0" x2="1" y1="0" y2="0"><stop offset="0" stop-color="rgb(107,107,107)"/><stop offset="0.25" stop-color="rgb(95,95,95)"/><stop offset="0.6" stop-color="rgb(89,89,89)"/><stop offset="1" stop-color="rgb(87,87,87)"/></linearGradient>
<rect x="559.2" y="216.6" width="39.9" height="3.0" fill="url(#hg1)"/>
<linearGradient id="hg2" x1="0" x2="1" y1="0" y2="0"><stop offset="0" stop-color="rgb(153,153,153)"/><stop offset="0.25" stop-color="rgb(138,138,138)"/><stop offset="0.6" stop-color="rgb(130,130,130)"/><stop offset="1" stop-color="rgb(128,128,128)"/></linearGradient>
<rect x="598.5" y="216.6" width="39.9" height="3.0" fill="url(#hg2)"/>
<linearGradient id="hg3" x1="0" x2="1" y1="0" y2="0"><stop offset="0" stop-color="rgb(184,184,184)"/><stop offset="0.25" stop-color="rgb(181,181,181)"/><stop offset="0.6" stop-color="rgb(179,179,179)"/><stop offset="1" stop-color="rgb(178,178,178)"/></linearGradient>
<rect x="637.8" y="216.6" width="44.6" height="3.0" fill="url(#hg3)"/>
<rect x="440.8" y="217.3" width="40.5" height="1.9" fill="rgb(76,76,76)"/>
<linearGradient id="hg4" x1="0" x2="1" y1="0" y2="0"><stop offset="0" stop-color="rgb(97,97,97)"/><stop offset="0.25" stop-color="rgb(85,85,85)"/><stop offset="0.6" stop-color="rgb(79,79,79)"/><stop offset="1" stop-color="rgb(76,76,76)"/></linearGradient>
<rect x="480.7" y="217.3" width="39.9" height="1.9" fill="url(#hg4)"/>
<linearGradient id="hg5" x1="0" x2="1" y1="0" y2="0"><stop offset="0" stop-color="rgb(128,128,128)"/><stop offset="0.25" stop-color="rgb(103,103,103)"/><stop offset="0.6" stop-color="rgb(91,91,91)"/><stop offset="1" stop-color="rgb(87,87,87)"/></linearGradient>
<rect x="520.0" y="217.3" width="39.9" height="1.9" fill="url(#hg5)"/>
<linearGradient id="hg6" x1="0" x2="1" y1="0" y2="0"><stop offset="0" stop-color="rgb(143,143,143)"/><stop offset="0.25" stop-color="rgb(121,121,121)"/><stop offset="0.6" stop-color="rgb(111,111,111)"/><stop offset="1" stop-color="rgb(107,107,107)"/></linearGradient>
<rect x="559.2" y="217.3" width="39.9" height="1.9" fill="url(#hg6)"/>
<linearGradient id="hg7" x1="0" x2="1" y1="0" y2="0"><stop offset="0" stop-color="rgb(178,178,178)"/><stop offset="0.25" stop-color="rgb(160,160,160)"/><stop offset="0.6" stop-color="rgb(151,151,151)"/><stop offset="1" stop-color="rgb(148,148,148)"/></linearGradient>
<rect x="598.5" y="217.3" width="39.9" height="1.9" fill="url(#hg7)"/>
<linearGradient id="hg8" x1="0" x2="1" y1="0" y2="0"><stop offset="0" stop-color="rgb(204,204,204)"/><stop offset="0.25" stop-color="rgb(198,198,198)"/><stop offset="0.6" stop-color="rgb(195,195,195)"/><stop offset="1" stop-color="rgb(194,194,194)"/></linearGradient>
<rect x="637.8" y="217.3" width="44.6" height="1.9" fill="url(#hg8)"/>
<rect x="440.8" y="219.2" width="40.5" height="3.7" fill="rgb(48,48,48)"/>
<linearGradient id="hg9" x1="0" x2="1" y1="0" y2="0"><stop offset="0" stop-color="rgb(54,54,54)"/><stop offset="0.25" stop-color="rgb(50,50,50)"/><stop offset="0.6" stop-color="rgb(49,49,49)"/><stop offset="1" stop-color="rgb(48,48,48)"/></linearGradient>
<rect x="480.7" y="219.2" width="39.9" height="3.7" fill="url(#hg9)"/>
<linearGradient id="hg10" x1="0" x2="1" y1="0" y2="0"><stop offset="0" stop-color="rgb(61,61,61)"/><stop offset="0.25" stop-color="rgb(55,55,55)"/><stop offset="0.6" stop-color="rgb(52,52,52)"/><stop offset="1" stop-color="rgb(51,51,51)"/></linearGradient>
<rect x="520.0" y="219.2" width="39.9" height="3.7" fill="url(#hg10)"/>
<linearGradient id="hg11" x1="0" x2="1" y1="0" y2="0"><stop offset="0" stop-color="rgb(71,71,71)"/><stop offset="0.25" stop-color="rgb(62,62,62)"/><stop offset="0.6" stop-color="rgb(58,58,58)"/><stop offset="1" stop-color="rgb(56,56,56)"/></linearGradient>
<rect x="559.2" y="219.2" width="39.9" height="3.7" fill="url(#hg11)"/>
<linearGradient id="hg12" x1="0" x2="1" y1="0" y2="0"><stop offset="0" stop-color="rgb(92,92,92)"/><stop offset="0.25" stop-color="rgb(80,80,80)"/><stop offset="0.6" stop-color="rgb(73,73,73)"/><stop offset="1" stop-color="rgb(71,71,71)"/></linearGradient>
<rect x="598.5" y="219.2" width="39.9" height="3.7" fill="url(#hg12)"/>
<linearGradient id="hg13" x1="0" x2="1" y1="0" y2="0"><stop offset="0" stop-color="rgb(128,128,128)"/><stop offset="0.25" stop-color="rgb(121,121,121)"/><stop offset="0.6" stop-color="rgb(118,118,118)"/><stop offset="1" stop-color="rgb(117,117,117)"/></linearGradient>
<rect x="637.8" y="219.2" width="44.6" height="3.7" fill="url(#hg13)"/>
<rect x="440.8" y="222.9" width="40.5" height="2.2" fill="rgb(76,76,76)"/>
<linearGradient id="hg14" x1="0" x2="1" y1="0" y2="0"><stop offset="0" stop-color="rgb(89,89,89)"/><stop offset="0.25" stop-color="rgb(82,82,82)"/><stop offset="0.6" stop-color="rgb(78,78,78)"/><stop offset="1" stop-color="rgb(76,76,76)"/></linearGradient>
<rect x="480.7" y="222.9" width="39.9" height="2.2" fill="url(#hg14)"/>
<linearGradient id="hg15" x1="0" x2="1" y1="0" y2="0"><stop offset="0" stop-color="rgb(115,115,115)"/><stop offset="0.25" stop-color="rgb(95,95,95)"/><stop offset="0.6" stop-color="rgb(85,85,85)"/><stop offset="1" stop-color="rgb(82,82,82)"/></linearGradient>
<rect x="520.0" y="222.9" width="39.9" height="2.2" fill="url(#hg15)"/>
<linearGradient id="hg16" x1="0" x2="1" y1="0" y2="0"><stop offset="0" stop-color="rgb(128,128,128)"/><stop offset="0.25" stop-color="rgb(109,109,109)"/><stop offset="0.6" stop-color="rgb(100,100,100)"/><stop offset="1" stop-color="rgb(97,97,97)"/></linearGradient>
<rect x="559.2" y="222.9" width="39.9" height="2.2" fill="url(#hg16)"/>
<linearGradient id="hg17" x1="0" x2="1" y1="0" y2="0"><stop offset="0" stop-color="rgb(163,163,163)"/><stop offset="0.25" stop-color="rgb(145,145,145)"/><stop offset="0.6" stop-color="rgb(136,136,136)"/><stop offset="1" stop-color="rgb(133,133,133)"/></linearGradient>
<rect x="598.5" y="222.9" width="39.9" height="2.2" fill="url(#hg17)"/>
<linearGradient id="hg18" x1="0" x2="1" y1="0" y2="0"><stop offset="0" stop-color="rgb(184,184,184)"/><stop offset="0.25" stop-color="rgb(174,174,174)"/><stop offset="0.6" stop-color="rgb(170,170,170)"/><stop offset="1" stop-color="rgb(168,168,168)"/></linearGradient>
<rect x="637.8" y="222.9" width="44.6" height="2.2" fill="url(#hg18)"/>
<rect x="440.8" y="225.1" width="40.5" height="2.5" fill="rgb(48,48,48)"/>
<linearGradient id="hg19" x1="0" x2="1" y1="0" y2="0"><stop offset="0" stop-color="rgb(54,54,54)"/><stop offset="0.25" stop-color="rgb(50,50,50)"/><stop offset="0.6" stop-color="rgb(49,49,49)"/><stop offset="1" stop-color="rgb(48,48,48)"/></linearGradient>
<rect x="480.7" y="225.1" width="39.9" height="2.5" fill="url(#hg19)"/>
<linearGradient id="hg20" x1="0" x2="1" y1="0" y2="0"><stop offset="0" stop-color="rgb(59,59,59)"/><stop offset="0.25" stop-color="rgb(54,54,54)"/><stop offset="0.6" stop-color="rgb(52,52,52)"/><stop offset="1" stop-color="rgb(51,51,51)"/></linearGradient>
<rect x="520.0" y="225.1" width="39.9" height="2.5" fill="url(#hg20)"/>
<linearGradient id="hg21" x1="0" x2="1" y1="0" y2="0"><stop offset="0" stop-color="rgb(66,66,66)"/><stop offset="0.25" stop-color="rgb(60,60,60)"/><stop offset="0.6" stop-color="rgb(57,57,57)"/><stop offset="1" stop-color="rgb(56,56,56)"/></linearGradient>
<rect x="559.2" y="225.1" width="39.9" height="2.5" fill="url(#hg21)"/>
<linearGradient id="hg22" x1="0" x2="1" y1="0" y2="0"><stop offset="0" stop-color="rgb(82,82,82)"/><stop offset="0.25" stop-color="rgb(72,72,72)"/><stop offset="0.6" stop-color="rgb(68,68,68)"/><stop offset="1" stop-color="rgb(66,66,66)"/></linearGradient>
<rect x="598.5" y="225.1" width="39.9" height="2.5" fill="url(#hg22)"/>
<linearGradient id="hg23" x1="0" x2="1" y1="0" y2="0"><stop offset="0" stop-color="rgb(107,107,107)"/><stop offset="0.25" stop-color="rgb(101,101,101)"/><stop offset="0.6" stop-color="rgb(98,98,98)"/><stop offset="1" stop-color="rgb(97,97,97)"/></linearGradient>
<rect x="637.8" y="225.1" width="44.6" height="2.5" fill="url(#hg23)"/>
<ellipse cx="481.5" cy="221.3" rx="1.7" ry="5.0" fill="rgb(70,70,70)"/>
<ellipse cx="481.9" cy="218.2" rx="2.0" ry="1.3" fill="rgb(117,117,117)"/>
<ellipse cx="481.9" cy="224.0" rx="2.0" ry="1.3" fill="rgb(111,111,111)"/>
<ellipse cx="520.8" cy="221.3" rx="1.9" ry="5.0" fill="rgb(76,76,76)"/>
<ellipse cx="521.2" cy="218.2" rx="2.2" ry="1.3" fill="rgb(128,128,128)"/>
<ellipse cx="521.2" cy="224.0" rx="2.2" ry="1.3" fill="rgb(121,121,121)"/>
<ellipse cx="560.0" cy="221.3" rx="2.1" ry="5.0" fill="rgb(84,84,84)"/>
<ellipse cx="560.4" cy="218.2" rx="2.5" ry="1.3" fill="rgb(140,140,140)"/>
<ellipse cx="560.4" cy="224.0" rx="2.5" ry="1.3" fill="rgb(133,133,133)"/>
<ellipse cx="599.3" cy="221.3" rx="2.3" ry="5.0" fill="rgb(95,95,95)"/>
<ellipse cx="599.7" cy="218.2" rx="2.8" ry="1.3" fill="rgb(158,158,158)"/>
<ellipse cx="599.7" cy="224.0" rx="2.8" ry="1.3" fill="rgb(150,150,150)"/>
<ellipse cx="638.6" cy="221.3" rx="2.5" ry="5.0" fill="rgb(107,107,107)"/>
<ellipse cx="639.0" cy="218.2" rx="3.0" ry="1.3" fill="rgb(178,178,178)"/>
<ellipse cx="639.0" cy="224.0" rx="3.0" ry="1.3" fill="rgb(170,170,170)"/>
</g></g>
<defs>
<filter id="fire2" filterUnits="userSpaceOnUse" x="439.8" y="231.4" width="243.6" height="24" color-interpolation-filters="sRGB">
<feGaussianBlur in="SourceGraphic" stdDeviation="0.7 0.45" result="bl"/>
<feTurbulence type="fractalNoise" baseFrequency="0.35 0.9" numOctaves="2" seed="5" result="nz"/>
<feColorMatrix in="nz" type="matrix" values="1 0 0 0 0  1 0 0 0 0  1 0 0 0 0  0 0 0 0 1" result="nzg"/>
<feComposite in="bl" in2="nzg" operator="arithmetic" k1="0" k2="1" k3="0.19" k4="-0.095" result="mix"/>
<feComponentTransfer in="mix"><feFuncR type="table" tableValues="0.000 0.000 0.004 0.098 0.192 0.286 0.384 0.478 0.573 0.635 0.678 0.722 0.765 0.812 0.851 0.898 0.941 0.988 1.000 1.000 1.000 1.000 1.000 1.000 1.000 1.000 1.000 1.000 1.000 1.000 1.000 1.000"/><feFuncG type="table" tableValues="0.000 0.000 0.000 0.000 0.000 0.000 0.000 0.000 0.000 0.000 0.000 0.000 0.000 0.055 0.137 0.224 0.310 0.396 0.459 0.522 0.576 0.631 0.686 0.745 0.804 0.859 0.918 0.973 1.000 1.000 1.000 1.000"/><feFuncB type="table" tableValues="0.000 0.239 0.376 0.510 0.647 0.753 0.863 0.890 0.824 0.710 0.592 0.478 0.365 0.251 0.137 0.020 0.000 0.000 0.000 0.000 0.000 0.000 0.000 0.000 0.000 0.000 0.000 0.137 0.384 0.627 0.875 1.000"/><feFuncA type="linear" slope="0" intercept="1"/></feComponentTransfer>
</filter>
<clipPath id="hmc2"><rect x="443.8" y="235.4" width="235.6" height="16"/></clipPath>
</defs>
<g clip-path="url(#hmc2)"><g filter="url(#fire2)">
<rect x="440.8" y="232.4" width="241.6" height="22.0" fill="rgb(43,43,43)"/>
<rect x="440.8" y="232.4" width="241.6" height="5.6" fill="rgb(20,20,20)"/>
<rect x="440.8" y="249.4" width="241.6" height="5.0" fill="rgb(31,31,31)"/>
<rect x="440.8" y="239.6" width="241.6" height="1.6" fill="rgb(76,76,76)"/>
<rect x="440.8" y="246.2" width="241.6" height="1.6" fill="rgb(71,71,71)"/>
<rect x="487.0" y="239.6" width="1.1" height="1.5" fill="rgb(125,125,125)"/>
<rect x="487.7" y="239.6" width="1.1" height="1.5" fill="rgb(113,113,113)"/>
<rect x="488.5" y="239.6" width="1.1" height="1.5" fill="rgb(101,101,101)"/>
<rect x="489.2" y="239.6" width="1.1" height="1.5" fill="rgb(89,89,89)"/>
<ellipse cx="487.0" cy="240.4" rx="3.5" ry="1.1" fill="rgb(153,153,153)"/>
<ellipse cx="487.0" cy="247.0" rx="2.0" ry="0.8" fill="rgb(92,92,92)"/>
<rect x="526.3" y="239.6" width="1.1" height="1.5" fill="rgb(125,125,125)"/>
<rect x="527.0" y="239.6" width="1.1" height="1.5" fill="rgb(113,113,113)"/>
<rect x="527.8" y="239.6" width="1.1" height="1.5" fill="rgb(101,101,101)"/>
<rect x="528.5" y="239.6" width="1.1" height="1.5" fill="rgb(89,89,89)"/>
<ellipse cx="526.3" cy="240.4" rx="3.5" ry="1.1" fill="rgb(153,153,153)"/>
<rect x="526.3" y="246.2" width="1.1" height="1.6" fill="rgb(132,132,132)"/>
<rect x="527.0" y="246.2" width="1.1" height="1.6" fill="rgb(117,117,117)"/>
<rect x="527.8" y="246.2" width="1.1" height="1.6" fill="rgb(102,102,102)"/>
<rect x="528.5" y="246.2" width="1.1" height="1.6" fill="rgb(86,86,86)"/>
<ellipse cx="526.3" cy="247.0" rx="4.0" ry="1.1" fill="rgb(163,163,163)"/>
<rect x="564.7" y="239.7" width="0.8" height="1.4" fill="rgb(111,111,111)"/>
<rect x="565.2" y="239.7" width="0.8" height="1.4" fill="rgb(102,102,102)"/>
<rect x="565.7" y="239.7" width="0.8" height="1.4" fill="rgb(94,94,94)"/>
<rect x="566.2" y="239.7" width="0.8" height="1.4" fill="rgb(85,85,85)"/>
<ellipse cx="564.7" cy="240.4" rx="3.0" ry="1.0" fill="rgb(133,133,133)"/>
<rect x="564.7" y="246.2" width="1.1" height="1.5" fill="rgb(117,117,117)"/>
<rect x="565.5" y="246.2" width="1.1" height="1.5" fill="rgb(106,106,106)"/>
<rect x="566.2" y="246.2" width="1.1" height="1.5" fill="rgb(94,94,94)"/>
<rect x="567.0" y="246.2" width="1.1" height="1.5" fill="rgb(83,83,83)"/>
<ellipse cx="564.7" cy="247.0" rx="3.5" ry="1.1" fill="rgb(143,143,143)"/>
<rect x="604.0" y="239.7" width="0.8" height="1.4" fill="rgb(107,107,107)"/>
<rect x="604.5" y="239.7" width="0.8" height="1.4" fill="rgb(99,99,99)"/>
<rect x="605.0" y="239.7" width="0.8" height="1.4" fill="rgb(92,92,92)"/>
<rect x="605.5" y="239.7" width="0.8" height="1.4" fill="rgb(84,84,84)"/>
<ellipse cx="604.0" cy="240.4" rx="3.0" ry="1.0" fill="rgb(128,128,128)"/>
<rect x="604.0" y="246.2" width="1.1" height="1.5" fill="rgb(115,115,115)"/>
<rect x="604.8" y="246.2" width="1.1" height="1.5" fill="rgb(104,104,104)"/>
<rect x="605.5" y="246.2" width="1.1" height="1.5" fill="rgb(93,93,93)"/>
<rect x="606.3" y="246.2" width="1.1" height="1.5" fill="rgb(82,82,82)"/>
<ellipse cx="604.0" cy="247.0" rx="3.5" ry="1.1" fill="rgb(140,140,140)"/>
<rect x="643.3" y="239.7" width="0.8" height="1.4" fill="rgb(107,107,107)"/>
<rect x="643.8" y="239.7" width="0.8" height="1.4" fill="rgb(99,99,99)"/>
<rect x="644.3" y="239.7" width="0.8" height="1.4" fill="rgb(92,92,92)"/>
<rect x="644.8" y="239.7" width="0.8" height="1.4" fill="rgb(84,84,84)"/>
<ellipse cx="643.3" cy="240.4" rx="3.0" ry="1.0" fill="rgb(128,128,128)"/>
<rect x="643.3" y="246.2" width="1.1" height="1.5" fill="rgb(115,115,115)"/>
<rect x="644.0" y="246.2" width="1.1" height="1.5" fill="rgb(104,104,104)"/>
<rect x="644.8" y="246.2" width="1.1" height="1.5" fill="rgb(93,93,93)"/>
<rect x="645.5" y="246.2" width="1.1" height="1.5" fill="rgb(82,82,82)"/>
<ellipse cx="643.3" cy="247.0" rx="3.5" ry="1.1" fill="rgb(140,140,140)"/>
</g></g>
<defs>
<filter id="fire3" filterUnits="userSpaceOnUse" x="95.7" y="411.0" width="239.1" height="24.7" color-interpolation-filters="sRGB">
<feGaussianBlur in="SourceGraphic" stdDeviation="0.7 0.45" result="bl"/>
<feTurbulence type="fractalNoise" baseFrequency="0.35 0.9" numOctaves="2" seed="7" result="nz"/>
<feColorMatrix in="nz" type="matrix" values="1 0 0 0 0  1 0 0 0 0  1 0 0 0 0  0 0 0 0 1" result="nzg"/>
<feComposite in="bl" in2="nzg" operator="arithmetic" k1="0" k2="1" k3="0.19" k4="-0.095" result="mix"/>
<feComponentTransfer in="mix"><feFuncR type="table" tableValues="0.000 0.000 0.004 0.098 0.192 0.286 0.384 0.478 0.573 0.635 0.678 0.722 0.765 0.812 0.851 0.898 0.941 0.988 1.000 1.000 1.000 1.000 1.000 1.000 1.000 1.000 1.000 1.000 1.000 1.000 1.000 1.000"/><feFuncG type="table" tableValues="0.000 0.000 0.000 0.000 0.000 0.000 0.000 0.000 0.000 0.000 0.000 0.000 0.000 0.055 0.137 0.224 0.310 0.396 0.459 0.522 0.576 0.631 0.686 0.745 0.804 0.859 0.918 0.973 1.000 1.000 1.000 1.000"/><feFuncB type="table" tableValues="0.000 0.239 0.376 0.510 0.647 0.753 0.863 0.890 0.824 0.710 0.592 0.478 0.365 0.251 0.137 0.020 0.000 0.000 0.000 0.000 0.000 0.000 0.000 0.000 0.000 0.000 0.000 0.137 0.384 0.627 0.875 1.000"/><feFuncA type="linear" slope="0" intercept="1"/></feComponentTransfer>
</filter>
<clipPath id="hmc3"><rect x="99.7" y="415.0" width="231.1" height="16.7"/></clipPath>
</defs>
<g clip-path="url(#hmc3)"><g filter="url(#fire3)">
<rect x="96.7" y="412.0" width="237.1" height="22.7" fill="rgb(55,55,55)"/>
<rect x="96.7" y="412.0" width="237.1" height="4.0" fill="rgb(38,38,38)"/>
<rect x="96.7" y="423.6" width="237.1" height="2.2" fill="rgb(36,36,36)"/>
<rect x="96.7" y="429.6" width="237.1" height="5.1" fill="rgb(38,38,38)"/>
<rect x="96.7" y="421.2" width="237.1" height="1.4" fill="rgb(61,61,61)"/>
<rect x="96.7" y="426.4" width="237.1" height="1.4" fill="rgb(74,74,74)"/>
<rect x="141.7" y="421.0" width="3.5" height="1.8" fill="rgb(122,122,122)"/>
<rect x="144.9" y="421.0" width="3.5" height="1.8" fill="rgb(107,107,107)"/>
<rect x="148.2" y="421.0" width="3.5" height="1.8" fill="rgb(92,92,92)"/>
<rect x="151.4" y="421.0" width="3.5" height="1.8" fill="rgb(76,76,76)"/>
<ellipse cx="141.7" cy="421.9" rx="2.5" ry="1.3" fill="rgb(153,153,153)"/>
<rect x="141.7" y="426.2" width="2.8" height="1.8" fill="rgb(132,132,132)"/>
<rect x="144.2" y="426.2" width="2.8" height="1.8" fill="rgb(118,118,118)"/>
<rect x="146.7" y="426.2" width="2.8" height="1.8" fill="rgb(103,103,103)"/>
<rect x="149.2" y="426.2" width="2.8" height="1.8" fill="rgb(89,89,89)"/>
<ellipse cx="141.7" cy="427.1" rx="2.5" ry="1.3" fill="rgb(163,163,163)"/>
<rect x="180.2" y="421.0" width="3.5" height="1.8" fill="rgb(122,122,122)"/>
<rect x="183.4" y="421.0" width="3.5" height="1.8" fill="rgb(107,107,107)"/>
<rect x="186.7" y="421.0" width="3.5" height="1.8" fill="rgb(92,92,92)"/>
<rect x="189.9" y="421.0" width="3.5" height="1.8" fill="rgb(76,76,76)"/>
<ellipse cx="180.2" cy="421.9" rx="2.5" ry="1.3" fill="rgb(153,153,153)"/>
<rect x="180.2" y="426.2" width="2.8" height="1.8" fill="rgb(132,132,132)"/>
<rect x="182.7" y="426.2" width="2.8" height="1.8" fill="rgb(118,118,118)"/>
<rect x="185.2" y="426.2" width="2.8" height="1.8" fill="rgb(103,103,103)"/>
<rect x="187.7" y="426.2" width="2.8" height="1.8" fill="rgb(89,89,89)"/>
<ellipse cx="180.2" cy="427.1" rx="2.5" ry="1.3" fill="rgb(163,163,163)"/>
<rect x="218.7" y="421.0" width="3.5" height="1.8" fill="rgb(122,122,122)"/>
<rect x="222.0" y="421.0" width="3.5" height="1.8" fill="rgb(107,107,107)"/>
<rect x="225.2" y="421.0" width="3.5" height="1.8" fill="rgb(92,92,92)"/>
<rect x="228.5" y="421.0" width="3.5" height="1.8" fill="rgb(76,76,76)"/>
<ellipse cx="218.7" cy="421.9" rx="2.5" ry="1.3" fill="rgb(153,153,153)"/>
<rect x="218.7" y="426.2" width="2.8" height="1.8" fill="rgb(132,132,132)"/>
<rect x="221.2" y="426.2" width="2.8" height="1.8" fill="rgb(118,118,118)"/>
<rect x="223.7" y="426.2" width="2.8" height="1.8" fill="rgb(103,103,103)"/>
<rect x="226.2" y="426.2" width="2.8" height="1.8" fill="rgb(89,89,89)"/>
<ellipse cx="218.7" cy="427.1" rx="2.5" ry="1.3" fill="rgb(163,163,163)"/>
<rect x="257.2" y="421.0" width="3.5" height="1.8" fill="rgb(122,122,122)"/>
<rect x="260.5" y="421.0" width="3.5" height="1.8" fill="rgb(107,107,107)"/>
<rect x="263.7" y="421.0" width="3.5" height="1.8" fill="rgb(92,92,92)"/>
<rect x="267.0" y="421.0" width="3.5" height="1.8" fill="rgb(76,76,76)"/>
<ellipse cx="257.2" cy="421.9" rx="2.5" ry="1.3" fill="rgb(153,153,153)"/>
<rect x="257.2" y="426.2" width="2.8" height="1.8" fill="rgb(132,132,132)"/>
<rect x="259.7" y="426.2" width="2.8" height="1.8" fill="rgb(118,118,118)"/>
<rect x="262.2" y="426.2" width="2.8" height="1.8" fill="rgb(103,103,103)"/>
<rect x="264.7" y="426.2" width="2.8" height="1.8" fill="rgb(89,89,89)"/>
<ellipse cx="257.2" cy="427.1" rx="2.5" ry="1.3" fill="rgb(163,163,163)"/>
<rect x="295.7" y="421.0" width="3.5" height="1.8" fill="rgb(122,122,122)"/>
<rect x="299.0" y="421.0" width="3.5" height="1.8" fill="rgb(107,107,107)"/>
<rect x="302.2" y="421.0" width="3.5" height="1.8" fill="rgb(92,92,92)"/>
<rect x="305.5" y="421.0" width="3.5" height="1.8" fill="rgb(76,76,76)"/>
<ellipse cx="295.7" cy="421.9" rx="2.5" ry="1.3" fill="rgb(153,153,153)"/>
<rect x="295.7" y="426.2" width="2.8" height="1.8" fill="rgb(132,132,132)"/>
<rect x="298.2" y="426.2" width="2.8" height="1.8" fill="rgb(118,118,118)"/>
<rect x="300.7" y="426.2" width="2.8" height="1.8" fill="rgb(103,103,103)"/>
<rect x="303.2" y="426.2" width="2.8" height="1.8" fill="rgb(89,89,89)"/>
<ellipse cx="295.7" cy="427.1" rx="2.5" ry="1.3" fill="rgb(163,163,163)"/>
</g></g>
<defs>
<filter id="fire4" filterUnits="userSpaceOnUse" x="95.7" y="433.0" width="239.1" height="24.5" color-interpolation-filters="sRGB">
<feGaussianBlur in="SourceGraphic" stdDeviation="0.7 0.45" result="bl"/>
<feTurbulence type="fractalNoise" baseFrequency="0.35 0.9" numOctaves="2" seed="9" result="nz"/>
<feColorMatrix in="nz" type="matrix" values="1 0 0 0 0  1 0 0 0 0  1 0 0 0 0  0 0 0 0 1" result="nzg"/>
<feComposite in="bl" in2="nzg" operator="arithmetic" k1="0" k2="1" k3="0.19" k4="-0.095" result="mix"/>
<feComponentTransfer in="mix"><feFuncR type="table" tableValues="0.000 0.000 0.004 0.098 0.192 0.286 0.384 0.478 0.573 0.635 0.678 0.722 0.765 0.812 0.851 0.898 0.941 0.988 1.000 1.000 1.000 1.000 1.000 1.000 1.000 1.000 1.000 1.000 1.000 1.000 1.000 1.000"/><feFuncG type="table" tableValues="0.000 0.000 0.000 0.000 0.000 0.000 0.000 0.000 0.000 0.000 0.000 0.000 0.000 0.055 0.137 0.224 0.310 0.396 0.459 0.522 0.576 0.631 0.686 0.745 0.804 0.859 0.918 0.973 1.000 1.000 1.000 1.000"/><feFuncB type="table" tableValues="0.000 0.239 0.376 0.510 0.647 0.753 0.863 0.890 0.824 0.710 0.592 0.478 0.365 0.251 0.137 0.020 0.000 0.000 0.000 0.000 0.000 0.000 0.000 0.000 0.000 0.000 0.000 0.137 0.384 0.627 0.875 1.000"/><feFuncA type="linear" slope="0" intercept="1"/></feComponentTransfer>
</filter>
<clipPath id="hmc4"><rect x="99.7" y="437.0" width="231.1" height="16.5"/></clipPath>
</defs>
<g clip-path="url(#hmc4)"><g filter="url(#fire4)">
<rect x="96.7" y="434.0" width="42.1" height="22.5" fill="rgb(23,23,23)"/>
<rect x="138.2" y="434.0" width="39.1" height="22.5" fill="rgb(20,20,20)"/>
<rect x="176.7" y="434.0" width="39.1" height="22.5" fill="rgb(18,18,18)"/>
<rect x="215.2" y="434.0" width="39.1" height="22.5" fill="rgb(46,46,46)"/>
<rect x="253.8" y="434.0" width="39.1" height="22.5" fill="rgb(51,51,51)"/>
<rect x="292.3" y="434.0" width="41.5" height="22.5" fill="rgb(56,56,56)"/>
<rect x="96.7" y="439.8" width="119.1" height="1.7" fill="rgb(120,120,120)"/>
<rect x="215.2" y="439.8" width="39.1" height="1.7" fill="rgb(133,133,133)"/>
<rect x="253.8" y="439.8" width="39.1" height="1.7" fill="rgb(148,148,148)"/>
<rect x="292.3" y="439.8" width="41.5" height="1.7" fill="rgb(163,163,163)"/>
<rect x="96.7" y="443.5" width="80.6" height="1.2" fill="rgb(28,28,28)"/>
<rect x="176.7" y="443.5" width="39.1" height="1.2" fill="rgb(26,26,26)"/>
<rect x="215.2" y="443.5" width="39.1" height="1.2" fill="rgb(61,61,61)"/>
<rect x="253.8" y="443.5" width="39.1" height="1.2" fill="rgb(89,89,89)"/>
<rect x="292.3" y="443.5" width="41.5" height="1.2" fill="rgb(102,102,102)"/>
<rect x="96.7" y="446.9" width="42.1" height="1.3" fill="rgb(61,61,61)"/>
<rect x="138.2" y="446.9" width="39.1" height="1.3" fill="rgb(56,56,56)"/>
<rect x="176.7" y="446.9" width="39.1" height="1.3" fill="rgb(46,46,46)"/>
<rect x="215.2" y="446.9" width="39.1" height="1.3" fill="rgb(76,76,76)"/>
<rect x="253.8" y="446.9" width="39.1" height="1.3" fill="rgb(128,128,128)"/>
<rect x="292.3" y="446.9" width="41.5" height="1.3" fill="rgb(143,143,143)"/>
<rect x="96.7" y="450.7" width="42.1" height="1.4" fill="rgb(82,82,82)"/>
<rect x="138.2" y="450.7" width="39.1" height="1.4" fill="rgb(76,76,76)"/>
<rect x="176.7" y="450.7" width="39.1" height="1.4" fill="rgb(69,69,69)"/>
<rect x="215.2" y="450.7" width="39.1" height="1.4" fill="rgb(97,97,97)"/>
<rect x="253.8" y="450.7" width="39.1" height="1.4" fill="rgb(133,133,133)"/>
<rect x="292.3" y="450.7" width="41.5" height="1.4" fill="rgb(148,148,148)"/>
<rect x="96.7" y="452.5" width="237.1" height="4.0" fill="rgb(15,15,15)"/>
<rect x="142.1" y="439.6" width="2.3" height="2.1" fill="rgb(160,160,160)"/>
<rect x="144.1" y="439.6" width="2.3" height="2.1" fill="rgb(150,150,150)"/>
<rect x="146.1" y="439.6" width="2.3" height="2.1" fill="rgb(140,140,140)"/>
<rect x="148.1" y="439.6" width="2.3" height="2.1" fill="rgb(130,130,130)"/>
<ellipse cx="142.1" cy="440.6" rx="3.5" ry="1.5" fill="rgb(189,189,189)"/>
<rect x="181.4" y="439.6" width="2.8" height="2.1" fill="rgb(164,164,164)"/>
<rect x="183.9" y="439.6" width="2.8" height="2.1" fill="rgb(153,153,153)"/>
<rect x="186.4" y="439.6" width="2.8" height="2.1" fill="rgb(142,142,142)"/>
<rect x="188.9" y="439.6" width="2.8" height="2.1" fill="rgb(131,131,131)"/>
<ellipse cx="181.4" cy="440.6" rx="3.5" ry="1.5" fill="rgb(194,194,194)"/>
<rect x="220.3" y="439.6" width="2.8" height="2.1" fill="rgb(166,166,166)"/>
<rect x="222.8" y="439.6" width="2.8" height="2.1" fill="rgb(158,158,158)"/>
<rect x="225.3" y="439.6" width="2.8" height="2.1" fill="rgb(149,149,149)"/>
<rect x="227.8" y="439.6" width="2.8" height="2.1" fill="rgb(141,141,141)"/>
<ellipse cx="220.3" cy="440.6" rx="3.5" ry="1.5" fill="rgb(194,194,194)"/>
<rect x="257.6" y="439.6" width="2.3" height="2.1" fill="rgb(162,162,162)"/>
<rect x="259.6" y="439.6" width="2.3" height="2.1" fill="rgb(158,158,158)"/>
<rect x="261.6" y="439.6" width="2.3" height="2.1" fill="rgb(155,155,155)"/>
<rect x="263.6" y="439.6" width="2.3" height="2.1" fill="rgb(151,151,151)"/>
<ellipse cx="257.6" cy="440.6" rx="3.0" ry="1.5" fill="rgb(184,184,184)"/>
<rect x="296.1" y="439.6" width="2.3" height="2.1" fill="rgb(176,176,176)"/>
<rect x="298.1" y="439.6" width="2.3" height="2.1" fill="rgb(173,173,173)"/>
<rect x="300.1" y="439.6" width="2.3" height="2.1" fill="rgb(170,170,170)"/>
<rect x="302.1" y="439.6" width="2.3" height="2.1" fill="rgb(166,166,166)"/>
<ellipse cx="296.1" cy="440.6" rx="3.0" ry="1.5" fill="rgb(199,199,199)"/>
<ellipse cx="142.1" cy="451.3" rx="2.0" ry="0.8" fill="rgb(128,128,128)"/>
<ellipse cx="181.4" cy="451.3" rx="2.0" ry="0.8" fill="rgb(128,128,128)"/>
</g></g>
<defs>
<filter id="fire5" filterUnits="userSpaceOnUse" x="437.2" y="478.7" width="249.4" height="25.0" color-interpolation-filters="sRGB">
<feGaussianBlur in="SourceGraphic" stdDeviation="0.7 0.45" result="bl"/>
<feTurbulence type="fractalNoise" baseFrequency="0.35 0.9" numOctaves="2" seed="11" result="nz"/>
<feColorMatrix in="nz" type="matrix" values="1 0 0 0 0  1 0 0 0 0  1 0 0 0 0  0 0 0 0 1" result="nzg"/>
<feComposite in="bl" in2="nzg" operator="arithmetic" k1="0" k2="1" k3="0.19" k4="-0.095" result="mix"/>
<feComponentTransfer in="mix"><feFuncR type="table" tableValues="0.000 0.000 0.004 0.098 0.192 0.286 0.384 0.478 0.573 0.635 0.678 0.722 0.765 0.812 0.851 0.898 0.941 0.988 1.000 1.000 1.000 1.000 1.000 1.000 1.000 1.000 1.000 1.000 1.000 1.000 1.000 1.000"/><feFuncG type="table" tableValues="0.000 0.000 0.000 0.000 0.000 0.000 0.000 0.000 0.000 0.000 0.000 0.000 0.000 0.055 0.137 0.224 0.310 0.396 0.459 0.522 0.576 0.631 0.686 0.745 0.804 0.859 0.918 0.973 1.000 1.000 1.000 1.000"/><feFuncB type="table" tableValues="0.000 0.239 0.376 0.510 0.647 0.753 0.863 0.890 0.824 0.710 0.592 0.478 0.365 0.251 0.137 0.020 0.000 0.000 0.000 0.000 0.000 0.000 0.000 0.000 0.000 0.000 0.000 0.137 0.384 0.627 0.875 1.000"/><feFuncA type="linear" slope="0" intercept="1"/></feComponentTransfer>
</filter>
<clipPath id="hmc5"><rect x="441.2" y="482.7" width="241.4" height="17.0"/></clipPath>
</defs>
<g clip-path="url(#hmc5)"><g filter="url(#fire5)">
<rect x="438.2" y="479.7" width="247.4" height="23.0" fill="rgb(46,46,46)"/>
<rect x="438.2" y="479.7" width="247.4" height="4.0" fill="rgb(31,31,31)"/>
<rect x="438.2" y="498.2" width="247.4" height="4.5" fill="rgb(33,33,33)"/>
<rect x="438.2" y="489.1" width="247.4" height="1.3" fill="rgb(64,64,64)"/>
<rect x="438.2" y="493.9" width="247.4" height="1.3" fill="rgb(61,61,61)"/>
<rect x="484.2" y="489.0" width="1.1" height="1.5" fill="rgb(114,114,114)"/>
<rect x="485.0" y="489.0" width="1.1" height="1.5" fill="rgb(101,101,101)"/>
<rect x="485.7" y="489.0" width="1.1" height="1.5" fill="rgb(89,89,89)"/>
<rect x="486.5" y="489.0" width="1.1" height="1.5" fill="rgb(76,76,76)"/>
<ellipse cx="484.2" cy="489.8" rx="1.8" ry="1.1" fill="rgb(140,140,140)"/>
<rect x="484.2" y="493.9" width="0.8" height="1.4" fill="rgb(104,104,104)"/>
<rect x="484.7" y="493.9" width="0.8" height="1.4" fill="rgb(93,93,93)"/>
<rect x="485.2" y="493.9" width="0.8" height="1.4" fill="rgb(83,83,83)"/>
<rect x="485.7" y="493.9" width="0.8" height="1.4" fill="rgb(72,72,72)"/>
<ellipse cx="484.2" cy="494.6" rx="1.8" ry="1.0" fill="rgb(128,128,128)"/>
<rect x="524.5" y="489.0" width="1.1" height="1.5" fill="rgb(114,114,114)"/>
<rect x="525.2" y="489.0" width="1.1" height="1.5" fill="rgb(101,101,101)"/>
<rect x="526.0" y="489.0" width="1.1" height="1.5" fill="rgb(89,89,89)"/>
<rect x="526.7" y="489.0" width="1.1" height="1.5" fill="rgb(76,76,76)"/>
<ellipse cx="524.5" cy="489.8" rx="1.8" ry="1.1" fill="rgb(140,140,140)"/>
<rect x="524.5" y="493.9" width="0.8" height="1.4" fill="rgb(104,104,104)"/>
<rect x="525.0" y="493.9" width="0.8" height="1.4" fill="rgb(93,93,93)"/>
<rect x="525.5" y="493.9" width="0.8" height="1.4" fill="rgb(83,83,83)"/>
<rect x="526.0" y="493.9" width="0.8" height="1.4" fill="rgb(72,72,72)"/>
<ellipse cx="524.5" cy="494.6" rx="1.8" ry="1.0" fill="rgb(128,128,128)"/>
<rect x="564.7" y="489.0" width="1.1" height="1.5" fill="rgb(114,114,114)"/>
<rect x="565.5" y="489.0" width="1.1" height="1.5" fill="rgb(101,101,101)"/>
<rect x="566.2" y="489.0" width="1.1" height="1.5" fill="rgb(89,89,89)"/>
<rect x="567.0" y="489.0" width="1.1" height="1.5" fill="rgb(76,76,76)"/>
<ellipse cx="564.7" cy="489.8" rx="1.8" ry="1.1" fill="rgb(140,140,140)"/>
<rect x="564.7" y="493.9" width="0.8" height="1.4" fill="rgb(104,104,104)"/>
<rect x="565.2" y="493.9" width="0.8" height="1.4" fill="rgb(93,93,93)"/>
<rect x="565.7" y="493.9" width="0.8" height="1.4" fill="rgb(83,83,83)"/>
<rect x="566.2" y="493.9" width="0.8" height="1.4" fill="rgb(72,72,72)"/>
<ellipse cx="564.7" cy="494.6" rx="1.8" ry="1.0" fill="rgb(128,128,128)"/>
<rect x="604.9" y="489.0" width="1.1" height="1.5" fill="rgb(114,114,114)"/>
<rect x="605.7" y="489.0" width="1.1" height="1.5" fill="rgb(101,101,101)"/>
<rect x="606.4" y="489.0" width="1.1" height="1.5" fill="rgb(89,89,89)"/>
<rect x="607.2" y="489.0" width="1.1" height="1.5" fill="rgb(76,76,76)"/>
<ellipse cx="604.9" cy="489.8" rx="1.8" ry="1.1" fill="rgb(140,140,140)"/>
<rect x="604.9" y="493.9" width="0.8" height="1.4" fill="rgb(104,104,104)"/>
<rect x="605.4" y="493.9" width="0.8" height="1.4" fill="rgb(93,93,93)"/>
<rect x="605.9" y="493.9" width="0.8" height="1.4" fill="rgb(83,83,83)"/>
<rect x="606.4" y="493.9" width="0.8" height="1.4" fill="rgb(72,72,72)"/>
<ellipse cx="604.9" cy="494.6" rx="1.8" ry="1.0" fill="rgb(128,128,128)"/>
<rect x="645.2" y="489.0" width="1.1" height="1.5" fill="rgb(114,114,114)"/>
<rect x="645.9" y="489.0" width="1.1" height="1.5" fill="rgb(101,101,101)"/>
<rect x="646.7" y="489.0" width="1.1" height="1.5" fill="rgb(89,89,89)"/>
<rect x="647.4" y="489.0" width="1.1" height="1.5" fill="rgb(76,76,76)"/>
<ellipse cx="645.2" cy="489.8" rx="1.8" ry="1.1" fill="rgb(140,140,140)"/>
<rect x="645.2" y="493.9" width="0.8" height="1.4" fill="rgb(104,104,104)"/>
<rect x="645.7" y="493.9" width="0.8" height="1.4" fill="rgb(93,93,93)"/>
<rect x="646.2" y="493.9" width="0.8" height="1.4" fill="rgb(83,83,83)"/>
<rect x="646.7" y="493.9" width="0.8" height="1.4" fill="rgb(72,72,72)"/>
<ellipse cx="645.2" cy="494.6" rx="1.8" ry="1.0" fill="rgb(128,128,128)"/>
</g></g>
<defs>
<filter id="fire6" filterUnits="userSpaceOnUse" x="437.2" y="501.1" width="249.4" height="25.0" color-interpolation-filters="sRGB">
<feGaussianBlur in="SourceGraphic" stdDeviation="0.7 0.45" result="bl"/>
<feTurbulence type="fractalNoise" baseFrequency="0.35 0.9" numOctaves="2" seed="13" result="nz"/>
<feColorMatrix in="nz" type="matrix" values="1 0 0 0 0  1 0 0 0 0  1 0 0 0 0  0 0 0 0 1" result="nzg"/>
<feComposite in="bl" in2="nzg" operator="arithmetic" k1="0" k2="1" k3="0.19" k4="-0.095" result="mix"/>
<feComponentTransfer in="mix"><feFuncR type="table" tableValues="0.000 0.000 0.004 0.098 0.192 0.286 0.384 0.478 0.573 0.635 0.678 0.722 0.765 0.812 0.851 0.898 0.941 0.988 1.000 1.000 1.000 1.000 1.000 1.000 1.000 1.000 1.000 1.000 1.000 1.000 1.000 1.000"/><feFuncG type="table" tableValues="0.000 0.000 0.000 0.000 0.000 0.000 0.000 0.000 0.000 0.000 0.000 0.000 0.000 0.055 0.137 0.224 0.310 0.396 0.459 0.522 0.576 0.631 0.686 0.745 0.804 0.859 0.918 0.973 1.000 1.000 1.000 1.000"/><feFuncB type="table" tableValues="0.000 0.239 0.376 0.510 0.647 0.753 0.863 0.890 0.824 0.710 0.592 0.478 0.365 0.251 0.137 0.020 0.000 0.000 0.000 0.000 0.000 0.000 0.000 0.000 0.000 0.000 0.000 0.137 0.384 0.627 0.875 1.000"/><feFuncA type="linear" slope="0" intercept="1"/></feComponentTransfer>
</filter>
<clipPath id="hmc6"><rect x="441.2" y="505.1" width="241.4" height="17.0"/></clipPath>
</defs>
<g clip-path="url(#hmc6)"><g filter="url(#fire6)">
<rect x="438.2" y="502.1" width="44.3" height="23.0" fill="rgb(36,36,36)"/>
<rect x="481.9" y="502.1" width="40.8" height="23.0" fill="rgb(48,48,48)"/>
<rect x="522.2" y="502.1" width="81.1" height="23.0" fill="rgb(51,51,51)"/>
<rect x="602.6" y="502.1" width="40.8" height="23.0" fill="rgb(54,54,54)"/>
<rect x="642.9" y="502.1" width="42.7" height="23.0" fill="rgb(56,56,56)"/>
<rect x="438.2" y="502.1" width="44.3" height="4.6" fill="rgb(18,18,18)"/>
<rect x="481.9" y="502.1" width="203.7" height="4.6" fill="rgb(20,20,20)"/>
<rect x="438.2" y="508.7" width="44.3" height="6.4" fill="rgb(38,38,38)"/>
<rect x="481.9" y="508.7" width="81.1" height="6.4" fill="rgb(69,69,69)"/>
<rect x="562.4" y="508.7" width="40.8" height="6.4" fill="rgb(71,71,71)"/>
<rect x="602.6" y="508.7" width="40.8" height="6.4" fill="rgb(76,76,76)"/>
<rect x="642.9" y="508.7" width="42.7" height="6.4" fill="rgb(82,82,82)"/>
<rect x="481.9" y="509.4" width="81.1" height="1.4" fill="rgb(84,84,84)"/>
<rect x="562.4" y="509.4" width="40.8" height="1.4" fill="rgb(92,92,92)"/>
<rect x="602.6" y="509.4" width="40.8" height="1.4" fill="rgb(115,115,115)"/>
<rect x="642.9" y="509.4" width="42.7" height="1.4" fill="rgb(140,140,140)"/>
<rect x="481.9" y="514.1" width="81.1" height="1.4" fill="rgb(82,82,82)"/>
<rect x="562.4" y="514.1" width="40.8" height="1.4" fill="rgb(92,92,92)"/>
<rect x="602.6" y="514.1" width="40.8" height="1.4" fill="rgb(115,115,115)"/>
<rect x="642.9" y="514.1" width="42.7" height="1.4" fill="rgb(140,140,140)"/>
<rect x="438.2" y="519.9" width="44.3" height="5.2" fill="rgb(23,23,23)"/>
<rect x="481.9" y="519.9" width="203.7" height="5.2" fill="rgb(26,26,26)"/>
<ellipse cx="491.9" cy="512.1" rx="10.0" ry="3.0" fill="rgb(92,92,92)"/>
<rect x="438.2" y="511.6" width="44.3" height="1.5" fill="rgb(69,69,69)"/>
<rect x="481.9" y="511.6" width="121.3" height="1.5" fill="rgb(178,178,178)"/>
<rect x="602.6" y="511.6" width="40.8" height="1.5" fill="rgb(184,184,184)"/>
<rect x="642.9" y="511.6" width="42.7" height="1.5" fill="rgb(189,189,189)"/>
</g></g>
</svg>
</body></html>
